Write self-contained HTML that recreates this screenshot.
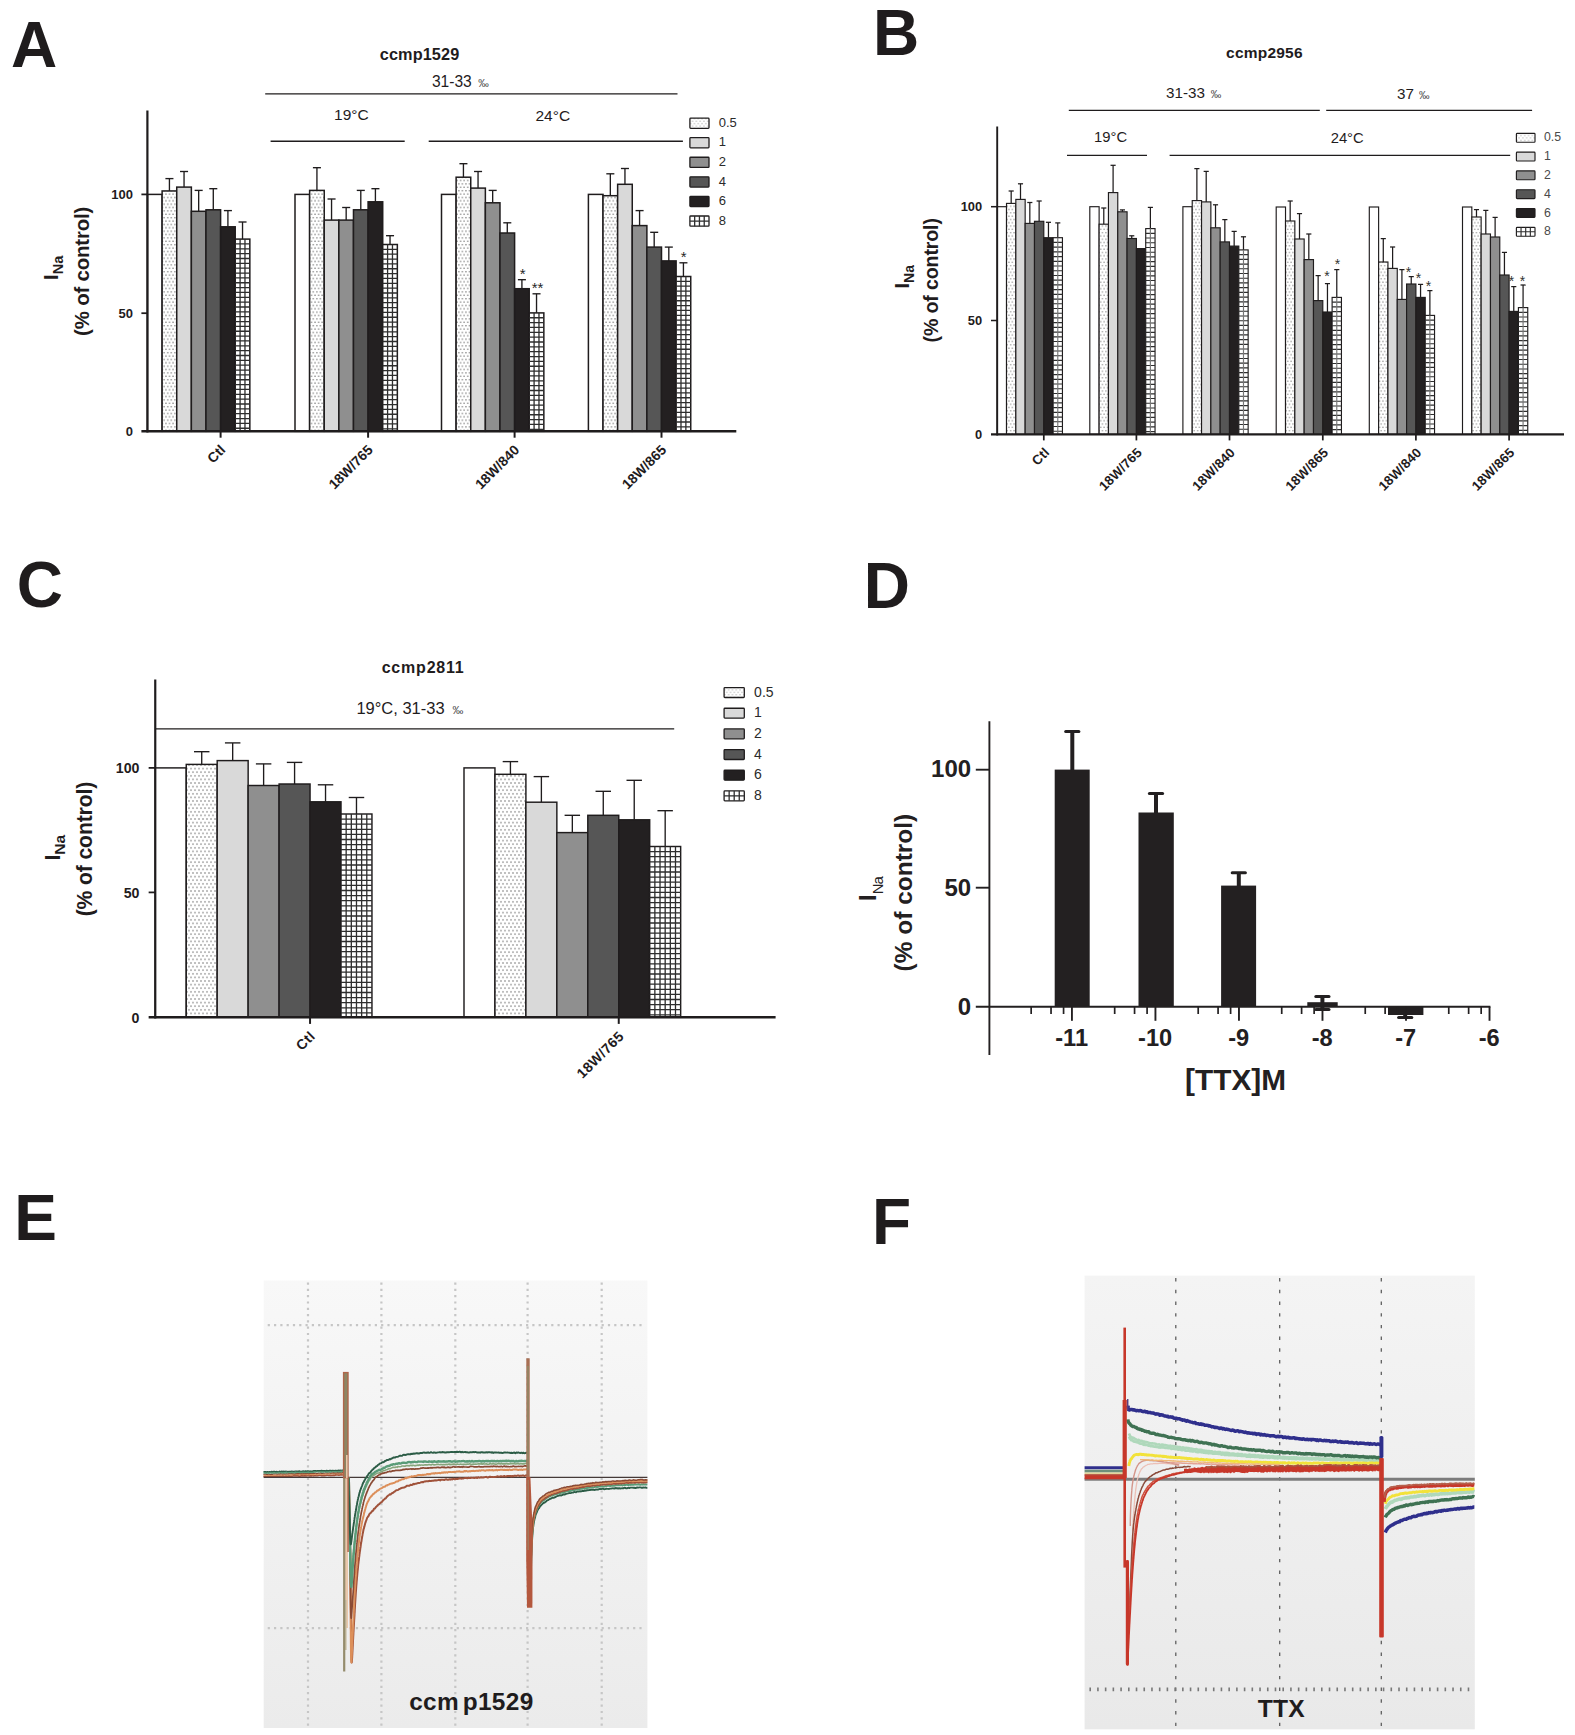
<!DOCTYPE html>
<html lang="en"><head><meta charset="utf-8"><title>Figure</title>
<style>html,body{margin:0;padding:0;background:#fff}svg{display:block}text{font-family:"Liberation Sans",sans-serif}</style></head><body>
<svg width="1575" height="1735" viewBox="0 0 1575 1735">
<defs>
<pattern id="dots" width="3.55" height="6.75" patternUnits="userSpaceOnUse"><rect width="3.55" height="6.75" fill="#fff"/><rect x="0.24" y="1.04" width="1.3" height="1.3" fill="#7d7d7d"/><rect x="2.01" y="4.41" width="1.3" height="1.3" fill="#7d7d7d"/></pattern>
<pattern id="dotsB" width="3.4" height="6.6" patternUnits="userSpaceOnUse"><rect width="3.4" height="6.6" fill="#fff"/><rect x="0.25" y="1.05" width="1.2" height="1.2" fill="#858585"/><rect x="1.95" y="4.35" width="1.2" height="1.2" fill="#858585"/></pattern>
<pattern id="dotsC" width="4" height="7.2" patternUnits="userSpaceOnUse"><rect width="4" height="7.2" fill="#fff"/><rect x="0.32" y="1.12" width="1.35" height="1.35" fill="#7d7d7d"/><rect x="2.33" y="4.73" width="1.35" height="1.35" fill="#7d7d7d"/></pattern>
<pattern id="dotsL" width="3.8" height="4.8" patternUnits="userSpaceOnUse"><rect width="3.8" height="4.8" fill="#fff"/><rect x="0.4" y="0.65" width="1.1" height="1.1" fill="#a8a8a8"/><rect x="2.3" y="3.05" width="1.1" height="1.1" fill="#a8a8a8"/></pattern>
<linearGradient id="bgE" x1="0" y1="0" x2="0" y2="1"><stop offset="0" stop-color="#f8f8f8"/><stop offset="1" stop-color="#ebebeb"/></linearGradient>
<linearGradient id="bgF" x1="0" y1="0" x2="0" y2="1"><stop offset="0" stop-color="#f4f4f4"/><stop offset="1" stop-color="#e9e9e9"/></linearGradient>
</defs>
<rect width="1575" height="1735" fill="#fff"/>
<text x="10.9" y="67.3" font-size="64" font-weight="bold" fill="#1f1c1d">A</text>
<text x="873.1" y="55.4" font-size="64" font-weight="bold" fill="#1f1c1d">B</text>
<text x="16.8" y="606.8" font-size="64" font-weight="bold" fill="#1f1c1d">C</text>
<text x="863.7" y="608.3" font-size="64" font-weight="bold" fill="#1f1c1d">D</text>
<text x="14.3" y="1240.2" font-size="64" font-weight="bold" fill="#1f1c1d">E</text>
<text x="872" y="1243.8" font-size="64" font-weight="bold" fill="#1f1c1d">F</text>
<rect x="147.5" y="194.4" width="14.62" height="236.9" fill="#ffffff" stroke="#1f1c1d" stroke-width="1.5"/>
<line x1="169.43" y1="190.95" x2="169.43" y2="178.6" stroke="#1f1c1d" stroke-width="1.35"/>
<line x1="165.41" y1="178.6" x2="173.45" y2="178.6" stroke="#1f1c1d" stroke-width="1.35"/>
<rect x="162.12" y="190.95" width="14.62" height="240.35" fill="url(#dots)" stroke="#1f1c1d" stroke-width="1.5"/>
<line x1="184.05" y1="187.1" x2="184.05" y2="171.5" stroke="#1f1c1d" stroke-width="1.35"/>
<line x1="180.03" y1="171.5" x2="188.07" y2="171.5" stroke="#1f1c1d" stroke-width="1.35"/>
<rect x="176.74" y="187.1" width="14.62" height="244.2" fill="#d9d9d9" stroke="#1f1c1d" stroke-width="1.5"/>
<line x1="198.67" y1="211.3" x2="198.67" y2="190.4" stroke="#1f1c1d" stroke-width="1.35"/>
<line x1="194.65" y1="190.4" x2="202.69" y2="190.4" stroke="#1f1c1d" stroke-width="1.35"/>
<rect x="191.36" y="211.3" width="14.62" height="220" fill="#8f8f8f" stroke="#1f1c1d" stroke-width="1.5"/>
<line x1="213.29" y1="209.8" x2="213.29" y2="188.7" stroke="#1f1c1d" stroke-width="1.35"/>
<line x1="209.27" y1="188.7" x2="217.31" y2="188.7" stroke="#1f1c1d" stroke-width="1.35"/>
<rect x="205.98" y="209.8" width="14.62" height="221.5" fill="#565656" stroke="#1f1c1d" stroke-width="1.5"/>
<line x1="227.91" y1="226.8" x2="227.91" y2="210.6" stroke="#1f1c1d" stroke-width="1.35"/>
<line x1="223.89" y1="210.6" x2="231.93" y2="210.6" stroke="#1f1c1d" stroke-width="1.35"/>
<rect x="220.6" y="226.8" width="14.62" height="204.5" fill="#232021" stroke="#1f1c1d" stroke-width="1.5"/>
<line x1="242.53" y1="239.1" x2="242.53" y2="222" stroke="#1f1c1d" stroke-width="1.35"/>
<line x1="238.51" y1="222" x2="246.55" y2="222" stroke="#1f1c1d" stroke-width="1.35"/>
<rect x="235.22" y="239.1" width="14.62" height="192.2" fill="#ffffff" stroke="#1f1c1d" stroke-width="1.5"/>
<path d="M235.22 243.95H249.84M235.22 248.8H249.84M235.22 253.65H249.84M235.22 258.5H249.84M235.22 263.35H249.84M235.22 268.2H249.84M235.22 273.05H249.84M235.22 277.9H249.84M235.22 282.75H249.84M235.22 287.6H249.84M235.22 292.45H249.84M235.22 297.3H249.84M235.22 302.15H249.84M235.22 307H249.84M235.22 311.85H249.84M235.22 316.7H249.84M235.22 321.55H249.84M235.22 326.4H249.84M235.22 331.25H249.84M235.22 336.1H249.84M235.22 340.95H249.84M235.22 345.8H249.84M235.22 350.65H249.84M235.22 355.5H249.84M235.22 360.35H249.84M235.22 365.2H249.84M235.22 370.05H249.84M235.22 374.9H249.84M235.22 379.75H249.84M235.22 384.6H249.84M235.22 389.45H249.84M235.22 394.3H249.84M235.22 399.15H249.84M235.22 404H249.84M235.22 408.85H249.84M235.22 413.7H249.84M235.22 418.55H249.84M235.22 423.4H249.84M235.22 428.25H249.84" stroke="#2e2e2e" stroke-width="1.3" fill="none"/>
<path d="M240.09 239.1V431.3M244.97 239.1V431.3" stroke="#2e2e2e" stroke-width="1.3" fill="none"/>
<rect x="295" y="194.4" width="14.62" height="236.9" fill="#ffffff" stroke="#1f1c1d" stroke-width="1.5"/>
<line x1="316.93" y1="190.4" x2="316.93" y2="167.7" stroke="#1f1c1d" stroke-width="1.35"/>
<line x1="312.91" y1="167.7" x2="320.95" y2="167.7" stroke="#1f1c1d" stroke-width="1.35"/>
<rect x="309.62" y="190.4" width="14.62" height="240.9" fill="url(#dots)" stroke="#1f1c1d" stroke-width="1.5"/>
<line x1="331.55" y1="220.1" x2="331.55" y2="199" stroke="#1f1c1d" stroke-width="1.35"/>
<line x1="327.53" y1="199" x2="335.57" y2="199" stroke="#1f1c1d" stroke-width="1.35"/>
<rect x="324.24" y="220.1" width="14.62" height="211.2" fill="#d9d9d9" stroke="#1f1c1d" stroke-width="1.5"/>
<line x1="346.17" y1="220.1" x2="346.17" y2="207.5" stroke="#1f1c1d" stroke-width="1.35"/>
<line x1="342.15" y1="207.5" x2="350.19" y2="207.5" stroke="#1f1c1d" stroke-width="1.35"/>
<rect x="338.86" y="220.1" width="14.62" height="211.2" fill="#8f8f8f" stroke="#1f1c1d" stroke-width="1.5"/>
<line x1="360.79" y1="209.8" x2="360.79" y2="190.4" stroke="#1f1c1d" stroke-width="1.35"/>
<line x1="356.77" y1="190.4" x2="364.81" y2="190.4" stroke="#1f1c1d" stroke-width="1.35"/>
<rect x="353.48" y="209.8" width="14.62" height="221.5" fill="#565656" stroke="#1f1c1d" stroke-width="1.5"/>
<line x1="375.41" y1="201.8" x2="375.41" y2="188.7" stroke="#1f1c1d" stroke-width="1.35"/>
<line x1="371.39" y1="188.7" x2="379.43" y2="188.7" stroke="#1f1c1d" stroke-width="1.35"/>
<rect x="368.1" y="201.8" width="14.62" height="229.5" fill="#232021" stroke="#1f1c1d" stroke-width="1.5"/>
<line x1="390.03" y1="244.5" x2="390.03" y2="235.7" stroke="#1f1c1d" stroke-width="1.35"/>
<line x1="386.01" y1="235.7" x2="394.05" y2="235.7" stroke="#1f1c1d" stroke-width="1.35"/>
<rect x="382.72" y="244.5" width="14.62" height="186.8" fill="#ffffff" stroke="#1f1c1d" stroke-width="1.5"/>
<path d="M382.72 249.35H397.34M382.72 254.2H397.34M382.72 259.05H397.34M382.72 263.9H397.34M382.72 268.75H397.34M382.72 273.6H397.34M382.72 278.45H397.34M382.72 283.3H397.34M382.72 288.15H397.34M382.72 293H397.34M382.72 297.85H397.34M382.72 302.7H397.34M382.72 307.55H397.34M382.72 312.4H397.34M382.72 317.25H397.34M382.72 322.1H397.34M382.72 326.95H397.34M382.72 331.8H397.34M382.72 336.65H397.34M382.72 341.5H397.34M382.72 346.35H397.34M382.72 351.2H397.34M382.72 356.05H397.34M382.72 360.9H397.34M382.72 365.75H397.34M382.72 370.6H397.34M382.72 375.45H397.34M382.72 380.3H397.34M382.72 385.15H397.34M382.72 390H397.34M382.72 394.85H397.34M382.72 399.7H397.34M382.72 404.55H397.34M382.72 409.4H397.34M382.72 414.25H397.34M382.72 419.1H397.34M382.72 423.95H397.34M382.72 428.8H397.34" stroke="#2e2e2e" stroke-width="1.3" fill="none"/>
<path d="M387.59 244.5V431.3M392.47 244.5V431.3" stroke="#2e2e2e" stroke-width="1.3" fill="none"/>
<rect x="441.5" y="194.4" width="14.62" height="236.9" fill="#ffffff" stroke="#1f1c1d" stroke-width="1.5"/>
<line x1="463.43" y1="177.2" x2="463.43" y2="163.7" stroke="#1f1c1d" stroke-width="1.35"/>
<line x1="459.41" y1="163.7" x2="467.45" y2="163.7" stroke="#1f1c1d" stroke-width="1.35"/>
<rect x="456.12" y="177.2" width="14.62" height="254.1" fill="url(#dots)" stroke="#1f1c1d" stroke-width="1.5"/>
<line x1="478.05" y1="188.1" x2="478.05" y2="171.5" stroke="#1f1c1d" stroke-width="1.35"/>
<line x1="474.03" y1="171.5" x2="482.07" y2="171.5" stroke="#1f1c1d" stroke-width="1.35"/>
<rect x="470.74" y="188.1" width="14.62" height="243.2" fill="#d9d9d9" stroke="#1f1c1d" stroke-width="1.5"/>
<line x1="492.67" y1="202.8" x2="492.67" y2="190.4" stroke="#1f1c1d" stroke-width="1.35"/>
<line x1="488.65" y1="190.4" x2="496.69" y2="190.4" stroke="#1f1c1d" stroke-width="1.35"/>
<rect x="485.36" y="202.8" width="14.62" height="228.5" fill="#8f8f8f" stroke="#1f1c1d" stroke-width="1.5"/>
<line x1="507.29" y1="233" x2="507.29" y2="222.8" stroke="#1f1c1d" stroke-width="1.35"/>
<line x1="503.27" y1="222.8" x2="511.31" y2="222.8" stroke="#1f1c1d" stroke-width="1.35"/>
<rect x="499.98" y="233" width="14.62" height="198.3" fill="#565656" stroke="#1f1c1d" stroke-width="1.5"/>
<line x1="521.91" y1="288.7" x2="521.91" y2="279.7" stroke="#1f1c1d" stroke-width="1.35"/>
<line x1="517.89" y1="279.7" x2="525.93" y2="279.7" stroke="#1f1c1d" stroke-width="1.35"/>
<rect x="514.6" y="288.7" width="14.62" height="142.6" fill="#232021" stroke="#1f1c1d" stroke-width="1.5"/>
<line x1="536.53" y1="312.9" x2="536.53" y2="293.8" stroke="#1f1c1d" stroke-width="1.35"/>
<line x1="532.51" y1="293.8" x2="540.55" y2="293.8" stroke="#1f1c1d" stroke-width="1.35"/>
<rect x="529.22" y="312.9" width="14.62" height="118.4" fill="#ffffff" stroke="#1f1c1d" stroke-width="1.5"/>
<path d="M529.22 317.75H543.84M529.22 322.6H543.84M529.22 327.45H543.84M529.22 332.3H543.84M529.22 337.15H543.84M529.22 342H543.84M529.22 346.85H543.84M529.22 351.7H543.84M529.22 356.55H543.84M529.22 361.4H543.84M529.22 366.25H543.84M529.22 371.1H543.84M529.22 375.95H543.84M529.22 380.8H543.84M529.22 385.65H543.84M529.22 390.5H543.84M529.22 395.35H543.84M529.22 400.2H543.84M529.22 405.05H543.84M529.22 409.9H543.84M529.22 414.75H543.84M529.22 419.6H543.84M529.22 424.45H543.84M529.22 429.3H543.84" stroke="#2e2e2e" stroke-width="1.3" fill="none"/>
<path d="M534.09 312.9V431.3M538.97 312.9V431.3" stroke="#2e2e2e" stroke-width="1.3" fill="none"/>
<rect x="588.4" y="194.4" width="14.62" height="236.9" fill="#ffffff" stroke="#1f1c1d" stroke-width="1.5"/>
<line x1="610.33" y1="195.7" x2="610.33" y2="173.8" stroke="#1f1c1d" stroke-width="1.35"/>
<line x1="606.31" y1="173.8" x2="614.35" y2="173.8" stroke="#1f1c1d" stroke-width="1.35"/>
<rect x="603.02" y="195.7" width="14.62" height="235.6" fill="url(#dots)" stroke="#1f1c1d" stroke-width="1.5"/>
<line x1="624.95" y1="184.3" x2="624.95" y2="168.5" stroke="#1f1c1d" stroke-width="1.35"/>
<line x1="620.93" y1="168.5" x2="628.97" y2="168.5" stroke="#1f1c1d" stroke-width="1.35"/>
<rect x="617.64" y="184.3" width="14.62" height="247" fill="#d9d9d9" stroke="#1f1c1d" stroke-width="1.5"/>
<line x1="639.57" y1="225.6" x2="639.57" y2="210.6" stroke="#1f1c1d" stroke-width="1.35"/>
<line x1="635.55" y1="210.6" x2="643.59" y2="210.6" stroke="#1f1c1d" stroke-width="1.35"/>
<rect x="632.26" y="225.6" width="14.62" height="205.7" fill="#8f8f8f" stroke="#1f1c1d" stroke-width="1.5"/>
<line x1="654.19" y1="247.1" x2="654.19" y2="232.3" stroke="#1f1c1d" stroke-width="1.35"/>
<line x1="650.17" y1="232.3" x2="658.21" y2="232.3" stroke="#1f1c1d" stroke-width="1.35"/>
<rect x="646.88" y="247.1" width="14.62" height="184.2" fill="#565656" stroke="#1f1c1d" stroke-width="1.5"/>
<line x1="668.81" y1="260.9" x2="668.81" y2="247.1" stroke="#1f1c1d" stroke-width="1.35"/>
<line x1="664.79" y1="247.1" x2="672.83" y2="247.1" stroke="#1f1c1d" stroke-width="1.35"/>
<rect x="661.5" y="260.9" width="14.62" height="170.4" fill="#232021" stroke="#1f1c1d" stroke-width="1.5"/>
<line x1="683.43" y1="276.5" x2="683.43" y2="262.8" stroke="#1f1c1d" stroke-width="1.35"/>
<line x1="679.41" y1="262.8" x2="687.45" y2="262.8" stroke="#1f1c1d" stroke-width="1.35"/>
<rect x="676.12" y="276.5" width="14.62" height="154.8" fill="#ffffff" stroke="#1f1c1d" stroke-width="1.5"/>
<path d="M676.12 281.35H690.74M676.12 286.2H690.74M676.12 291.05H690.74M676.12 295.9H690.74M676.12 300.75H690.74M676.12 305.6H690.74M676.12 310.45H690.74M676.12 315.3H690.74M676.12 320.15H690.74M676.12 325H690.74M676.12 329.85H690.74M676.12 334.7H690.74M676.12 339.55H690.74M676.12 344.4H690.74M676.12 349.25H690.74M676.12 354.1H690.74M676.12 358.95H690.74M676.12 363.8H690.74M676.12 368.65H690.74M676.12 373.5H690.74M676.12 378.35H690.74M676.12 383.2H690.74M676.12 388.05H690.74M676.12 392.9H690.74M676.12 397.75H690.74M676.12 402.6H690.74M676.12 407.45H690.74M676.12 412.3H690.74M676.12 417.15H690.74M676.12 422H690.74M676.12 426.85H690.74" stroke="#2e2e2e" stroke-width="1.3" fill="none"/>
<path d="M680.99 276.5V431.3M685.87 276.5V431.3" stroke="#2e2e2e" stroke-width="1.3" fill="none"/>
<line x1="147.4" y1="110.5" x2="147.4" y2="432.55" stroke="#1f1c1d" stroke-width="2.2"/>
<line x1="141.4" y1="431.3" x2="736.3" y2="431.3" stroke="#1f1c1d" stroke-width="2.5"/>
<line x1="141.4" y1="194.4" x2="147.4" y2="194.4" stroke="#1f1c1d" stroke-width="1.76"/>
<line x1="141.4" y1="313.2" x2="147.4" y2="313.2" stroke="#1f1c1d" stroke-width="1.76"/>
<line x1="220.6" y1="431.3" x2="220.6" y2="437.7" stroke="#1f1c1d" stroke-width="1.98"/>
<line x1="368.1" y1="431.3" x2="368.1" y2="437.7" stroke="#1f1c1d" stroke-width="1.98"/>
<line x1="514.6" y1="431.3" x2="514.6" y2="437.7" stroke="#1f1c1d" stroke-width="1.98"/>
<line x1="661.5" y1="431.3" x2="661.5" y2="437.7" stroke="#1f1c1d" stroke-width="1.98"/>
<text x="132.9" y="199.1" font-size="13" font-weight="bold" text-anchor="end" fill="#1f1c1d">100</text>
<text x="132.9" y="317.9" font-size="13" font-weight="bold" text-anchor="end" fill="#1f1c1d">50</text>
<text x="132.9" y="436.3" font-size="13" font-weight="bold" text-anchor="end" fill="#1f1c1d">0</text>
<g transform="translate(58.2,280) rotate(-90)">
<text x="0" y="0" font-size="20.4" font-weight="bold" fill="#1f1c1d">I<tspan font-size="14.6" dy="5.2">Na</tspan></text>
</g>
<g transform="translate(88.6,271.3) rotate(-90)">
<text x="0" y="0" font-size="20.4" font-weight="bold" text-anchor="middle" fill="#1f1c1d" textLength="129.4" lengthAdjust="spacing">(% of control)</text>
</g>
<text transform="translate(226.2,450.8) rotate(-45)" font-size="13.9" font-weight="bold" text-anchor="end" fill="#1f1c1d" letter-spacing="0">Ctl</text>
<text transform="translate(373.7,450.8) rotate(-45)" font-size="13.9" font-weight="bold" text-anchor="end" fill="#1f1c1d" letter-spacing="0">18W/765</text>
<text transform="translate(520.2,450.8) rotate(-45)" font-size="13.9" font-weight="bold" text-anchor="end" fill="#1f1c1d" letter-spacing="0">18W/840</text>
<text transform="translate(667.1,450.8) rotate(-45)" font-size="13.9" font-weight="bold" text-anchor="end" fill="#1f1c1d" letter-spacing="0">18W/865</text>
<text x="419.5" y="60.2" font-size="16.3" font-weight="bold" text-anchor="middle" fill="#1f1c1d" textLength="79.4" lengthAdjust="spacing">ccmp1529</text>
<text x="431.9" y="86.6" font-size="15.6" text-anchor="start" fill="#1f1c1d">31-33<tspan font-size="10.5" dx="6.5" fill="#444">‰</tspan></text>
<line x1="265.2" y1="93.9" x2="677.5" y2="93.9" stroke="#1f1c1d" stroke-width="1.4"/>
<text x="351.4" y="120.2" font-size="15.5" font-weight="normal" text-anchor="middle" fill="#1f1c1d">19°C</text>
<line x1="270.6" y1="141.2" x2="404.7" y2="141.2" stroke="#1f1c1d" stroke-width="1.4"/>
<text x="552.8" y="121" font-size="15.5" font-weight="normal" text-anchor="middle" fill="#1f1c1d">24°C</text>
<line x1="428.7" y1="141.2" x2="682.9" y2="141.2" stroke="#1f1c1d" stroke-width="1.4"/>
<rect x="689.9" y="118.1" width="19.1" height="10.2" rx="0.8" fill="url(#dotsL)" stroke="#1f1c1d" stroke-width="1.3"/>
<text x="718.7" y="126.9" font-size="13" font-weight="normal" text-anchor="start" fill="#2a2a2a">0.5</text>
<rect x="689.9" y="137.68" width="19.1" height="10.2" rx="0.8" fill="#d9d9d9" stroke="#1f1c1d" stroke-width="1.3"/>
<text x="718.7" y="146.48" font-size="13" font-weight="normal" text-anchor="start" fill="#2a2a2a">1</text>
<rect x="689.9" y="157.26" width="19.1" height="10.2" rx="0.8" fill="#8f8f8f" stroke="#1f1c1d" stroke-width="1.3"/>
<text x="718.7" y="166.06" font-size="13" font-weight="normal" text-anchor="start" fill="#2a2a2a">2</text>
<rect x="689.9" y="176.84" width="19.1" height="10.2" rx="0.8" fill="#565656" stroke="#1f1c1d" stroke-width="1.3"/>
<text x="718.7" y="185.64" font-size="13" font-weight="normal" text-anchor="start" fill="#2a2a2a">4</text>
<rect x="689.9" y="196.42" width="19.1" height="10.2" rx="0.8" fill="#232021" stroke="#1f1c1d" stroke-width="1.3"/>
<text x="718.7" y="205.22" font-size="13" font-weight="normal" text-anchor="start" fill="#2a2a2a">6</text>
<rect x="689.9" y="216" width="19.1" height="10.2" rx="0.8" fill="#ffffff" stroke="#1f1c1d" stroke-width="1.3"/>
<path d="M689.9 221.1H709M694.67 216V226.2M699.45 216V226.2M704.23 216V226.2" stroke="#2e2e2e" stroke-width="1.3" fill="none"/>
<text x="718.7" y="224.8" font-size="13" font-weight="normal" text-anchor="start" fill="#2a2a2a">8</text>
<text x="522.6" y="279.3" font-size="15" font-weight="normal" text-anchor="middle" fill="#262626">*</text>
<text x="537.5" y="293.2" font-size="15" font-weight="normal" text-anchor="middle" fill="#262626">**</text>
<text x="683.7" y="262.1" font-size="15" font-weight="normal" text-anchor="middle" fill="#262626">*</text>
<rect x="997.2" y="206.7" width="9.32" height="227.7" fill="#ffffff" stroke="#1f1c1d" stroke-width="1.15"/>
<line x1="1011.18" y1="203.4" x2="1011.18" y2="191" stroke="#1f1c1d" stroke-width="1.25"/>
<line x1="1008.62" y1="191" x2="1013.74" y2="191" stroke="#1f1c1d" stroke-width="1.25"/>
<rect x="1006.52" y="203.4" width="9.32" height="231" fill="url(#dotsB)" stroke="#1f1c1d" stroke-width="1.15"/>
<line x1="1020.5" y1="199.4" x2="1020.5" y2="183.8" stroke="#1f1c1d" stroke-width="1.25"/>
<line x1="1017.94" y1="183.8" x2="1023.06" y2="183.8" stroke="#1f1c1d" stroke-width="1.25"/>
<rect x="1015.84" y="199.4" width="9.32" height="235" fill="#d9d9d9" stroke="#1f1c1d" stroke-width="1.15"/>
<line x1="1029.82" y1="223.4" x2="1029.82" y2="202.5" stroke="#1f1c1d" stroke-width="1.25"/>
<line x1="1027.26" y1="202.5" x2="1032.38" y2="202.5" stroke="#1f1c1d" stroke-width="1.25"/>
<rect x="1025.16" y="223.4" width="9.32" height="211" fill="#8f8f8f" stroke="#1f1c1d" stroke-width="1.15"/>
<line x1="1039.14" y1="221.3" x2="1039.14" y2="201" stroke="#1f1c1d" stroke-width="1.25"/>
<line x1="1036.58" y1="201" x2="1041.7" y2="201" stroke="#1f1c1d" stroke-width="1.25"/>
<rect x="1034.48" y="221.3" width="9.32" height="213.1" fill="#565656" stroke="#1f1c1d" stroke-width="1.15"/>
<line x1="1048.46" y1="237.7" x2="1048.46" y2="222.3" stroke="#1f1c1d" stroke-width="1.25"/>
<line x1="1045.9" y1="222.3" x2="1051.02" y2="222.3" stroke="#1f1c1d" stroke-width="1.25"/>
<rect x="1043.8" y="237.7" width="9.32" height="196.7" fill="#232021" stroke="#1f1c1d" stroke-width="1.15"/>
<line x1="1057.78" y1="237.7" x2="1057.78" y2="222.9" stroke="#1f1c1d" stroke-width="1.25"/>
<line x1="1055.22" y1="222.9" x2="1060.34" y2="222.9" stroke="#1f1c1d" stroke-width="1.25"/>
<rect x="1053.12" y="237.7" width="9.32" height="196.7" fill="#ffffff" stroke="#1f1c1d" stroke-width="1.15"/>
<path d="M1053.12 242.42H1062.44M1053.12 247.14H1062.44M1053.12 251.86H1062.44M1053.12 256.58H1062.44M1053.12 261.3H1062.44M1053.12 266.02H1062.44M1053.12 270.74H1062.44M1053.12 275.46H1062.44M1053.12 280.18H1062.44M1053.12 284.9H1062.44M1053.12 289.62H1062.44M1053.12 294.34H1062.44M1053.12 299.06H1062.44M1053.12 303.78H1062.44M1053.12 308.5H1062.44M1053.12 313.22H1062.44M1053.12 317.94H1062.44M1053.12 322.66H1062.44M1053.12 327.38H1062.44M1053.12 332.1H1062.44M1053.12 336.82H1062.44M1053.12 341.54H1062.44M1053.12 346.26H1062.44M1053.12 350.98H1062.44M1053.12 355.7H1062.44M1053.12 360.42H1062.44M1053.12 365.14H1062.44M1053.12 369.86H1062.44M1053.12 374.58H1062.44M1053.12 379.3H1062.44M1053.12 384.02H1062.44M1053.12 388.74H1062.44M1053.12 393.46H1062.44M1053.12 398.18H1062.44M1053.12 402.9H1062.44M1053.12 407.62H1062.44M1053.12 412.34H1062.44M1053.12 417.06H1062.44M1053.12 421.78H1062.44M1053.12 426.5H1062.44M1053.12 431.22H1062.44" stroke="#2e2e2e" stroke-width="1.15" fill="none"/>
<path d="M1057.78 237.7V434.4" stroke="#777" stroke-width="1.15" fill="none"/>
<rect x="1089.8" y="206.7" width="9.32" height="227.7" fill="#ffffff" stroke="#1f1c1d" stroke-width="1.15"/>
<line x1="1103.78" y1="224.2" x2="1103.78" y2="208" stroke="#1f1c1d" stroke-width="1.25"/>
<line x1="1101.22" y1="208" x2="1106.34" y2="208" stroke="#1f1c1d" stroke-width="1.25"/>
<rect x="1099.12" y="224.2" width="9.32" height="210.2" fill="url(#dotsB)" stroke="#1f1c1d" stroke-width="1.15"/>
<line x1="1113.1" y1="192.6" x2="1113.1" y2="165.3" stroke="#1f1c1d" stroke-width="1.25"/>
<line x1="1110.54" y1="165.3" x2="1115.66" y2="165.3" stroke="#1f1c1d" stroke-width="1.25"/>
<rect x="1108.44" y="192.6" width="9.32" height="241.8" fill="#d9d9d9" stroke="#1f1c1d" stroke-width="1.15"/>
<line x1="1122.42" y1="211.8" x2="1122.42" y2="209.9" stroke="#1f1c1d" stroke-width="1.25"/>
<line x1="1119.86" y1="209.9" x2="1124.98" y2="209.9" stroke="#1f1c1d" stroke-width="1.25"/>
<rect x="1117.76" y="211.8" width="9.32" height="222.6" fill="#8f8f8f" stroke="#1f1c1d" stroke-width="1.15"/>
<line x1="1131.74" y1="238.5" x2="1131.74" y2="235.8" stroke="#1f1c1d" stroke-width="1.25"/>
<line x1="1129.18" y1="235.8" x2="1134.3" y2="235.8" stroke="#1f1c1d" stroke-width="1.25"/>
<rect x="1127.08" y="238.5" width="9.32" height="195.9" fill="#565656" stroke="#1f1c1d" stroke-width="1.15"/>
<rect x="1136.4" y="248.6" width="9.32" height="185.8" fill="#232021" stroke="#1f1c1d" stroke-width="1.15"/>
<line x1="1150.38" y1="228.6" x2="1150.38" y2="207.4" stroke="#1f1c1d" stroke-width="1.25"/>
<line x1="1147.82" y1="207.4" x2="1152.94" y2="207.4" stroke="#1f1c1d" stroke-width="1.25"/>
<rect x="1145.72" y="228.6" width="9.32" height="205.8" fill="#ffffff" stroke="#1f1c1d" stroke-width="1.15"/>
<path d="M1145.72 233.32H1155.04M1145.72 238.04H1155.04M1145.72 242.76H1155.04M1145.72 247.48H1155.04M1145.72 252.2H1155.04M1145.72 256.92H1155.04M1145.72 261.64H1155.04M1145.72 266.36H1155.04M1145.72 271.08H1155.04M1145.72 275.8H1155.04M1145.72 280.52H1155.04M1145.72 285.24H1155.04M1145.72 289.96H1155.04M1145.72 294.68H1155.04M1145.72 299.4H1155.04M1145.72 304.12H1155.04M1145.72 308.84H1155.04M1145.72 313.56H1155.04M1145.72 318.28H1155.04M1145.72 323H1155.04M1145.72 327.72H1155.04M1145.72 332.44H1155.04M1145.72 337.16H1155.04M1145.72 341.88H1155.04M1145.72 346.6H1155.04M1145.72 351.32H1155.04M1145.72 356.04H1155.04M1145.72 360.76H1155.04M1145.72 365.48H1155.04M1145.72 370.2H1155.04M1145.72 374.92H1155.04M1145.72 379.64H1155.04M1145.72 384.36H1155.04M1145.72 389.08H1155.04M1145.72 393.8H1155.04M1145.72 398.52H1155.04M1145.72 403.24H1155.04M1145.72 407.96H1155.04M1145.72 412.68H1155.04M1145.72 417.4H1155.04M1145.72 422.12H1155.04M1145.72 426.84H1155.04M1145.72 431.56H1155.04" stroke="#2e2e2e" stroke-width="1.15" fill="none"/>
<path d="M1150.38 228.6V434.4" stroke="#777" stroke-width="1.15" fill="none"/>
<rect x="1182.9" y="206.7" width="9.32" height="227.7" fill="#ffffff" stroke="#1f1c1d" stroke-width="1.15"/>
<line x1="1196.88" y1="200.6" x2="1196.88" y2="168.6" stroke="#1f1c1d" stroke-width="1.25"/>
<line x1="1194.32" y1="168.6" x2="1199.44" y2="168.6" stroke="#1f1c1d" stroke-width="1.25"/>
<rect x="1192.22" y="200.6" width="9.32" height="233.8" fill="url(#dotsB)" stroke="#1f1c1d" stroke-width="1.15"/>
<line x1="1206.2" y1="201.9" x2="1206.2" y2="171.4" stroke="#1f1c1d" stroke-width="1.25"/>
<line x1="1203.64" y1="171.4" x2="1208.76" y2="171.4" stroke="#1f1c1d" stroke-width="1.25"/>
<rect x="1201.54" y="201.9" width="9.32" height="232.5" fill="#d9d9d9" stroke="#1f1c1d" stroke-width="1.15"/>
<line x1="1215.52" y1="227.8" x2="1215.52" y2="204.8" stroke="#1f1c1d" stroke-width="1.25"/>
<line x1="1212.96" y1="204.8" x2="1218.08" y2="204.8" stroke="#1f1c1d" stroke-width="1.25"/>
<rect x="1210.86" y="227.8" width="9.32" height="206.6" fill="#8f8f8f" stroke="#1f1c1d" stroke-width="1.15"/>
<line x1="1224.84" y1="241.9" x2="1224.84" y2="219.6" stroke="#1f1c1d" stroke-width="1.25"/>
<line x1="1222.28" y1="219.6" x2="1227.4" y2="219.6" stroke="#1f1c1d" stroke-width="1.25"/>
<rect x="1220.18" y="241.9" width="9.32" height="192.5" fill="#565656" stroke="#1f1c1d" stroke-width="1.15"/>
<line x1="1234.16" y1="246.1" x2="1234.16" y2="231.4" stroke="#1f1c1d" stroke-width="1.25"/>
<line x1="1231.6" y1="231.4" x2="1236.72" y2="231.4" stroke="#1f1c1d" stroke-width="1.25"/>
<rect x="1229.5" y="246.1" width="9.32" height="188.3" fill="#232021" stroke="#1f1c1d" stroke-width="1.15"/>
<line x1="1243.48" y1="249.9" x2="1243.48" y2="236.8" stroke="#1f1c1d" stroke-width="1.25"/>
<line x1="1240.92" y1="236.8" x2="1246.04" y2="236.8" stroke="#1f1c1d" stroke-width="1.25"/>
<rect x="1238.82" y="249.9" width="9.32" height="184.5" fill="#ffffff" stroke="#1f1c1d" stroke-width="1.15"/>
<path d="M1238.82 254.62H1248.14M1238.82 259.34H1248.14M1238.82 264.06H1248.14M1238.82 268.78H1248.14M1238.82 273.5H1248.14M1238.82 278.22H1248.14M1238.82 282.94H1248.14M1238.82 287.66H1248.14M1238.82 292.38H1248.14M1238.82 297.1H1248.14M1238.82 301.82H1248.14M1238.82 306.54H1248.14M1238.82 311.26H1248.14M1238.82 315.98H1248.14M1238.82 320.7H1248.14M1238.82 325.42H1248.14M1238.82 330.14H1248.14M1238.82 334.86H1248.14M1238.82 339.58H1248.14M1238.82 344.3H1248.14M1238.82 349.02H1248.14M1238.82 353.74H1248.14M1238.82 358.46H1248.14M1238.82 363.18H1248.14M1238.82 367.9H1248.14M1238.82 372.62H1248.14M1238.82 377.34H1248.14M1238.82 382.06H1248.14M1238.82 386.78H1248.14M1238.82 391.5H1248.14M1238.82 396.22H1248.14M1238.82 400.94H1248.14M1238.82 405.66H1248.14M1238.82 410.38H1248.14M1238.82 415.1H1248.14M1238.82 419.82H1248.14M1238.82 424.54H1248.14M1238.82 429.26H1248.14" stroke="#2e2e2e" stroke-width="1.15" fill="none"/>
<path d="M1243.48 249.9V434.4" stroke="#777" stroke-width="1.15" fill="none"/>
<rect x="1276.2" y="207" width="9.32" height="227.4" fill="#ffffff" stroke="#1f1c1d" stroke-width="1.15"/>
<line x1="1290.18" y1="221" x2="1290.18" y2="201" stroke="#1f1c1d" stroke-width="1.25"/>
<line x1="1287.62" y1="201" x2="1292.74" y2="201" stroke="#1f1c1d" stroke-width="1.25"/>
<rect x="1285.52" y="221" width="9.32" height="213.4" fill="url(#dotsB)" stroke="#1f1c1d" stroke-width="1.15"/>
<line x1="1299.5" y1="239" x2="1299.5" y2="213.6" stroke="#1f1c1d" stroke-width="1.25"/>
<line x1="1296.94" y1="213.6" x2="1302.06" y2="213.6" stroke="#1f1c1d" stroke-width="1.25"/>
<rect x="1294.84" y="239" width="9.32" height="195.4" fill="#d9d9d9" stroke="#1f1c1d" stroke-width="1.15"/>
<line x1="1308.82" y1="259.6" x2="1308.82" y2="234" stroke="#1f1c1d" stroke-width="1.25"/>
<line x1="1306.26" y1="234" x2="1311.38" y2="234" stroke="#1f1c1d" stroke-width="1.25"/>
<rect x="1304.16" y="259.6" width="9.32" height="174.8" fill="#8f8f8f" stroke="#1f1c1d" stroke-width="1.15"/>
<line x1="1318.14" y1="300.6" x2="1318.14" y2="275.6" stroke="#1f1c1d" stroke-width="1.25"/>
<line x1="1315.58" y1="275.6" x2="1320.7" y2="275.6" stroke="#1f1c1d" stroke-width="1.25"/>
<rect x="1313.48" y="300.6" width="9.32" height="133.8" fill="#565656" stroke="#1f1c1d" stroke-width="1.15"/>
<line x1="1327.46" y1="312" x2="1327.46" y2="283.6" stroke="#1f1c1d" stroke-width="1.25"/>
<line x1="1324.9" y1="283.6" x2="1330.02" y2="283.6" stroke="#1f1c1d" stroke-width="1.25"/>
<rect x="1322.8" y="312" width="9.32" height="122.4" fill="#232021" stroke="#1f1c1d" stroke-width="1.15"/>
<line x1="1336.78" y1="297.4" x2="1336.78" y2="269.6" stroke="#1f1c1d" stroke-width="1.25"/>
<line x1="1334.22" y1="269.6" x2="1339.34" y2="269.6" stroke="#1f1c1d" stroke-width="1.25"/>
<rect x="1332.12" y="297.4" width="9.32" height="137" fill="#ffffff" stroke="#1f1c1d" stroke-width="1.15"/>
<path d="M1332.12 302.12H1341.44M1332.12 306.84H1341.44M1332.12 311.56H1341.44M1332.12 316.28H1341.44M1332.12 321H1341.44M1332.12 325.72H1341.44M1332.12 330.44H1341.44M1332.12 335.16H1341.44M1332.12 339.88H1341.44M1332.12 344.6H1341.44M1332.12 349.32H1341.44M1332.12 354.04H1341.44M1332.12 358.76H1341.44M1332.12 363.48H1341.44M1332.12 368.2H1341.44M1332.12 372.92H1341.44M1332.12 377.64H1341.44M1332.12 382.36H1341.44M1332.12 387.08H1341.44M1332.12 391.8H1341.44M1332.12 396.52H1341.44M1332.12 401.24H1341.44M1332.12 405.96H1341.44M1332.12 410.68H1341.44M1332.12 415.4H1341.44M1332.12 420.12H1341.44M1332.12 424.84H1341.44M1332.12 429.56H1341.44" stroke="#2e2e2e" stroke-width="1.15" fill="none"/>
<path d="M1336.78 297.4V434.4" stroke="#777" stroke-width="1.15" fill="none"/>
<rect x="1369.3" y="207" width="9.32" height="227.4" fill="#ffffff" stroke="#1f1c1d" stroke-width="1.15"/>
<line x1="1383.28" y1="262" x2="1383.28" y2="238.6" stroke="#1f1c1d" stroke-width="1.25"/>
<line x1="1380.72" y1="238.6" x2="1385.84" y2="238.6" stroke="#1f1c1d" stroke-width="1.25"/>
<rect x="1378.62" y="262" width="9.32" height="172.4" fill="url(#dotsB)" stroke="#1f1c1d" stroke-width="1.15"/>
<line x1="1392.6" y1="268.4" x2="1392.6" y2="247" stroke="#1f1c1d" stroke-width="1.25"/>
<line x1="1390.04" y1="247" x2="1395.16" y2="247" stroke="#1f1c1d" stroke-width="1.25"/>
<rect x="1387.94" y="268.4" width="9.32" height="166" fill="#d9d9d9" stroke="#1f1c1d" stroke-width="1.15"/>
<line x1="1401.92" y1="299.4" x2="1401.92" y2="269.6" stroke="#1f1c1d" stroke-width="1.25"/>
<line x1="1399.36" y1="269.6" x2="1404.48" y2="269.6" stroke="#1f1c1d" stroke-width="1.25"/>
<rect x="1397.26" y="299.4" width="9.32" height="135" fill="#8f8f8f" stroke="#1f1c1d" stroke-width="1.15"/>
<line x1="1411.24" y1="284" x2="1411.24" y2="276.6" stroke="#1f1c1d" stroke-width="1.25"/>
<line x1="1408.68" y1="276.6" x2="1413.8" y2="276.6" stroke="#1f1c1d" stroke-width="1.25"/>
<rect x="1406.58" y="284" width="9.32" height="150.4" fill="#565656" stroke="#1f1c1d" stroke-width="1.15"/>
<line x1="1420.56" y1="297.4" x2="1420.56" y2="284.4" stroke="#1f1c1d" stroke-width="1.25"/>
<line x1="1418" y1="284.4" x2="1423.12" y2="284.4" stroke="#1f1c1d" stroke-width="1.25"/>
<rect x="1415.9" y="297.4" width="9.32" height="137" fill="#232021" stroke="#1f1c1d" stroke-width="1.15"/>
<line x1="1429.88" y1="315.4" x2="1429.88" y2="290.6" stroke="#1f1c1d" stroke-width="1.25"/>
<line x1="1427.32" y1="290.6" x2="1432.44" y2="290.6" stroke="#1f1c1d" stroke-width="1.25"/>
<rect x="1425.22" y="315.4" width="9.32" height="119" fill="#ffffff" stroke="#1f1c1d" stroke-width="1.15"/>
<path d="M1425.22 320.12H1434.54M1425.22 324.84H1434.54M1425.22 329.56H1434.54M1425.22 334.28H1434.54M1425.22 339H1434.54M1425.22 343.72H1434.54M1425.22 348.44H1434.54M1425.22 353.16H1434.54M1425.22 357.88H1434.54M1425.22 362.6H1434.54M1425.22 367.32H1434.54M1425.22 372.04H1434.54M1425.22 376.76H1434.54M1425.22 381.48H1434.54M1425.22 386.2H1434.54M1425.22 390.92H1434.54M1425.22 395.64H1434.54M1425.22 400.36H1434.54M1425.22 405.08H1434.54M1425.22 409.8H1434.54M1425.22 414.52H1434.54M1425.22 419.24H1434.54M1425.22 423.96H1434.54M1425.22 428.68H1434.54" stroke="#2e2e2e" stroke-width="1.15" fill="none"/>
<path d="M1429.88 315.4V434.4" stroke="#777" stroke-width="1.15" fill="none"/>
<rect x="1462.5" y="207" width="9.32" height="227.4" fill="#ffffff" stroke="#1f1c1d" stroke-width="1.15"/>
<line x1="1476.48" y1="217" x2="1476.48" y2="209.6" stroke="#1f1c1d" stroke-width="1.25"/>
<line x1="1473.92" y1="209.6" x2="1479.04" y2="209.6" stroke="#1f1c1d" stroke-width="1.25"/>
<rect x="1471.82" y="217" width="9.32" height="217.4" fill="url(#dotsB)" stroke="#1f1c1d" stroke-width="1.15"/>
<line x1="1485.8" y1="234" x2="1485.8" y2="210.4" stroke="#1f1c1d" stroke-width="1.25"/>
<line x1="1483.24" y1="210.4" x2="1488.36" y2="210.4" stroke="#1f1c1d" stroke-width="1.25"/>
<rect x="1481.14" y="234" width="9.32" height="200.4" fill="#d9d9d9" stroke="#1f1c1d" stroke-width="1.15"/>
<line x1="1495.12" y1="237" x2="1495.12" y2="217.4" stroke="#1f1c1d" stroke-width="1.25"/>
<line x1="1492.56" y1="217.4" x2="1497.68" y2="217.4" stroke="#1f1c1d" stroke-width="1.25"/>
<rect x="1490.46" y="237" width="9.32" height="197.4" fill="#8f8f8f" stroke="#1f1c1d" stroke-width="1.15"/>
<line x1="1504.44" y1="275" x2="1504.44" y2="252.4" stroke="#1f1c1d" stroke-width="1.25"/>
<line x1="1501.88" y1="252.4" x2="1507" y2="252.4" stroke="#1f1c1d" stroke-width="1.25"/>
<rect x="1499.78" y="275" width="9.32" height="159.4" fill="#565656" stroke="#1f1c1d" stroke-width="1.15"/>
<line x1="1513.76" y1="311.4" x2="1513.76" y2="286.6" stroke="#1f1c1d" stroke-width="1.25"/>
<line x1="1511.2" y1="286.6" x2="1516.32" y2="286.6" stroke="#1f1c1d" stroke-width="1.25"/>
<rect x="1509.1" y="311.4" width="9.32" height="123" fill="#232021" stroke="#1f1c1d" stroke-width="1.15"/>
<line x1="1523.08" y1="307.6" x2="1523.08" y2="285" stroke="#1f1c1d" stroke-width="1.25"/>
<line x1="1520.52" y1="285" x2="1525.64" y2="285" stroke="#1f1c1d" stroke-width="1.25"/>
<rect x="1518.42" y="307.6" width="9.32" height="126.8" fill="#ffffff" stroke="#1f1c1d" stroke-width="1.15"/>
<path d="M1518.42 312.32H1527.74M1518.42 317.04H1527.74M1518.42 321.76H1527.74M1518.42 326.48H1527.74M1518.42 331.2H1527.74M1518.42 335.92H1527.74M1518.42 340.64H1527.74M1518.42 345.36H1527.74M1518.42 350.08H1527.74M1518.42 354.8H1527.74M1518.42 359.52H1527.74M1518.42 364.24H1527.74M1518.42 368.96H1527.74M1518.42 373.68H1527.74M1518.42 378.4H1527.74M1518.42 383.12H1527.74M1518.42 387.84H1527.74M1518.42 392.56H1527.74M1518.42 397.28H1527.74M1518.42 402H1527.74M1518.42 406.72H1527.74M1518.42 411.44H1527.74M1518.42 416.16H1527.74M1518.42 420.88H1527.74M1518.42 425.6H1527.74M1518.42 430.32H1527.74" stroke="#2e2e2e" stroke-width="1.15" fill="none"/>
<path d="M1523.08 307.6V434.4" stroke="#777" stroke-width="1.15" fill="none"/>
<line x1="997.2" y1="126.5" x2="997.2" y2="435.55" stroke="#1f1c1d" stroke-width="1.9"/>
<line x1="991" y1="434.4" x2="1564" y2="434.4" stroke="#1f1c1d" stroke-width="2.3"/>
<line x1="991" y1="206.7" x2="997.2" y2="206.7" stroke="#1f1c1d" stroke-width="1.52"/>
<line x1="991" y1="320.5" x2="997.2" y2="320.5" stroke="#1f1c1d" stroke-width="1.52"/>
<line x1="1043.8" y1="434.4" x2="1043.8" y2="440.4" stroke="#1f1c1d" stroke-width="1.71"/>
<line x1="1136.4" y1="434.4" x2="1136.4" y2="440.4" stroke="#1f1c1d" stroke-width="1.71"/>
<line x1="1229.5" y1="434.4" x2="1229.5" y2="440.4" stroke="#1f1c1d" stroke-width="1.71"/>
<line x1="1322.8" y1="434.4" x2="1322.8" y2="440.4" stroke="#1f1c1d" stroke-width="1.71"/>
<line x1="1415.9" y1="434.4" x2="1415.9" y2="440.4" stroke="#1f1c1d" stroke-width="1.71"/>
<line x1="1509.1" y1="434.4" x2="1509.1" y2="440.4" stroke="#1f1c1d" stroke-width="1.71"/>
<text x="982.2" y="211" font-size="12.9" font-weight="bold" text-anchor="end" fill="#1f1c1d">100</text>
<text x="982.2" y="324.8" font-size="12.9" font-weight="bold" text-anchor="end" fill="#1f1c1d">50</text>
<text x="982.2" y="438.8" font-size="12.9" font-weight="bold" text-anchor="end" fill="#1f1c1d">0</text>
<g transform="translate(908.6,288.4) rotate(-90)">
<text x="0" y="0" font-size="19.6" font-weight="bold" fill="#1f1c1d">I<tspan font-size="14" dy="5.8">Na</tspan></text>
</g>
<g transform="translate(938.2,280.25) rotate(-90)">
<text x="0" y="0" font-size="19.6" font-weight="bold" text-anchor="middle" fill="#1f1c1d" textLength="124.4" lengthAdjust="spacing">(% of control)</text>
</g>
<text transform="translate(1050.1,453.4) rotate(-45)" font-size="13.3" font-weight="bold" text-anchor="end" fill="#1f1c1d" letter-spacing="0.1">Ctl</text>
<text transform="translate(1142.7,453.4) rotate(-45)" font-size="13.3" font-weight="bold" text-anchor="end" fill="#1f1c1d" letter-spacing="0.1">18W/765</text>
<text transform="translate(1235.8,453.4) rotate(-45)" font-size="13.3" font-weight="bold" text-anchor="end" fill="#1f1c1d" letter-spacing="0.1">18W/840</text>
<text transform="translate(1329.1,453.4) rotate(-45)" font-size="13.3" font-weight="bold" text-anchor="end" fill="#1f1c1d" letter-spacing="0.1">18W/865</text>
<text transform="translate(1422.2,453.4) rotate(-45)" font-size="13.3" font-weight="bold" text-anchor="end" fill="#1f1c1d" letter-spacing="0.1">18W/840</text>
<text transform="translate(1515.4,453.4) rotate(-45)" font-size="13.3" font-weight="bold" text-anchor="end" fill="#1f1c1d" letter-spacing="0.1">18W/865</text>
<text x="1264.3" y="58" font-size="15.5" font-weight="bold" text-anchor="middle" fill="#1f1c1d" textLength="76.4" lengthAdjust="spacing">ccmp2956</text>
<text x="1166" y="97.9" font-size="15.2" text-anchor="start" fill="#1f1c1d">31-33<tspan font-size="10.5" dx="6" fill="#444">‰</tspan></text>
<text x="1397.1" y="98.9" font-size="15.2" text-anchor="start" fill="#1f1c1d">37<tspan font-size="10.5" dx="5" fill="#444">‰</tspan></text>
<line x1="1068.8" y1="110.3" x2="1319.8" y2="110.3" stroke="#1f1c1d" stroke-width="1.3"/>
<line x1="1326.2" y1="110.3" x2="1532.1" y2="110.3" stroke="#1f1c1d" stroke-width="1.3"/>
<text x="1110.6" y="142.2" font-size="14.8" font-weight="normal" text-anchor="middle" fill="#1f1c1d">19°C</text>
<text x="1347.2" y="142.8" font-size="14.8" font-weight="normal" text-anchor="middle" fill="#1f1c1d">24°C</text>
<line x1="1067" y1="155.3" x2="1147" y2="155.3" stroke="#1f1c1d" stroke-width="1.3"/>
<line x1="1169.6" y1="155.3" x2="1510.2" y2="155.3" stroke="#1f1c1d" stroke-width="1.3"/>
<rect x="1516.4" y="133.3" width="18.6" height="8.9" rx="0.8" fill="url(#dotsL)" stroke="#1f1c1d" stroke-width="1.15"/>
<text x="1544" y="141.4" font-size="12.3" font-weight="normal" text-anchor="start" fill="#4a4a4a">0.5</text>
<rect x="1516.4" y="152.1" width="18.6" height="8.9" rx="0.8" fill="#d9d9d9" stroke="#1f1c1d" stroke-width="1.15"/>
<text x="1544" y="160.2" font-size="12.3" font-weight="normal" text-anchor="start" fill="#4a4a4a">1</text>
<rect x="1516.4" y="170.9" width="18.6" height="8.9" rx="0.8" fill="#8f8f8f" stroke="#1f1c1d" stroke-width="1.15"/>
<text x="1544" y="179" font-size="12.3" font-weight="normal" text-anchor="start" fill="#4a4a4a">2</text>
<rect x="1516.4" y="189.7" width="18.6" height="8.9" rx="0.8" fill="#565656" stroke="#1f1c1d" stroke-width="1.15"/>
<text x="1544" y="197.8" font-size="12.3" font-weight="normal" text-anchor="start" fill="#4a4a4a">4</text>
<rect x="1516.4" y="208.5" width="18.6" height="8.9" rx="0.8" fill="#232021" stroke="#1f1c1d" stroke-width="1.15"/>
<text x="1544" y="216.6" font-size="12.3" font-weight="normal" text-anchor="start" fill="#4a4a4a">6</text>
<rect x="1516.4" y="227.3" width="18.6" height="8.9" rx="0.8" fill="#ffffff" stroke="#1f1c1d" stroke-width="1.15"/>
<path d="M1516.4 231.75H1535M1521.05 227.3V236.2M1525.7 227.3V236.2M1530.35 227.3V236.2" stroke="#2e2e2e" stroke-width="1.15" fill="none"/>
<text x="1544" y="235.4" font-size="12.3" font-weight="normal" text-anchor="start" fill="#4a4a4a">8</text>
<text x="1327" y="280.8" font-size="14" font-weight="normal" text-anchor="middle" fill="#333">*</text>
<text x="1337.4" y="268.8" font-size="14" font-weight="normal" text-anchor="middle" fill="#333">*</text>
<text x="1408.4" y="277.4" font-size="14" font-weight="normal" text-anchor="middle" fill="#333">*</text>
<text x="1418.6" y="282.8" font-size="14" font-weight="normal" text-anchor="middle" fill="#333">*</text>
<text x="1428.4" y="291.4" font-size="14" font-weight="normal" text-anchor="middle" fill="#333">*</text>
<text x="1511.6" y="286.4" font-size="14" font-weight="normal" text-anchor="middle" fill="#333">*</text>
<text x="1522.4" y="286.4" font-size="14" font-weight="normal" text-anchor="middle" fill="#333">*</text>
<rect x="155.3" y="767.9" width="30.95" height="249.4" fill="#ffffff" stroke="#1f1c1d" stroke-width="1.45"/>
<line x1="201.72" y1="764.4" x2="201.72" y2="751.7" stroke="#1f1c1d" stroke-width="1.35"/>
<line x1="193.99" y1="751.7" x2="209.46" y2="751.7" stroke="#1f1c1d" stroke-width="1.35"/>
<rect x="186.25" y="764.4" width="30.95" height="252.9" fill="url(#dotsC)" stroke="#1f1c1d" stroke-width="1.45"/>
<line x1="232.68" y1="760.6" x2="232.68" y2="742.9" stroke="#1f1c1d" stroke-width="1.35"/>
<line x1="224.94" y1="742.9" x2="240.41" y2="742.9" stroke="#1f1c1d" stroke-width="1.35"/>
<rect x="217.2" y="760.6" width="30.95" height="256.7" fill="#d9d9d9" stroke="#1f1c1d" stroke-width="1.45"/>
<line x1="263.62" y1="785.5" x2="263.62" y2="763.9" stroke="#1f1c1d" stroke-width="1.35"/>
<line x1="255.89" y1="763.9" x2="271.36" y2="763.9" stroke="#1f1c1d" stroke-width="1.35"/>
<rect x="248.15" y="785.5" width="30.95" height="231.8" fill="#8f8f8f" stroke="#1f1c1d" stroke-width="1.45"/>
<line x1="294.58" y1="784" x2="294.58" y2="762.4" stroke="#1f1c1d" stroke-width="1.35"/>
<line x1="286.84" y1="762.4" x2="302.31" y2="762.4" stroke="#1f1c1d" stroke-width="1.35"/>
<rect x="279.1" y="784" width="30.95" height="233.3" fill="#565656" stroke="#1f1c1d" stroke-width="1.45"/>
<line x1="325.53" y1="801.8" x2="325.53" y2="784.8" stroke="#1f1c1d" stroke-width="1.35"/>
<line x1="317.79" y1="784.8" x2="333.26" y2="784.8" stroke="#1f1c1d" stroke-width="1.35"/>
<rect x="310.05" y="801.8" width="30.95" height="215.5" fill="#232021" stroke="#1f1c1d" stroke-width="1.45"/>
<line x1="356.48" y1="814" x2="356.48" y2="797.5" stroke="#1f1c1d" stroke-width="1.35"/>
<line x1="348.74" y1="797.5" x2="364.21" y2="797.5" stroke="#1f1c1d" stroke-width="1.35"/>
<rect x="341" y="814" width="30.95" height="203.3" fill="#ffffff" stroke="#1f1c1d" stroke-width="1.45"/>
<path d="M341 819.1H371.95M341 824.2H371.95M341 829.3H371.95M341 834.4H371.95M341 839.5H371.95M341 844.6H371.95M341 849.7H371.95M341 854.8H371.95M341 859.9H371.95M341 865H371.95M341 870.1H371.95M341 875.2H371.95M341 880.3H371.95M341 885.4H371.95M341 890.5H371.95M341 895.6H371.95M341 900.7H371.95M341 905.8H371.95M341 910.9H371.95M341 916H371.95M341 921.1H371.95M341 926.2H371.95M341 931.3H371.95M341 936.4H371.95M341 941.5H371.95M341 946.6H371.95M341 951.7H371.95M341 956.8H371.95M341 961.9H371.95M341 967H371.95M341 972.1H371.95M341 977.2H371.95M341 982.3H371.95M341 987.4H371.95M341 992.5H371.95M341 997.6H371.95M341 1002.7H371.95M341 1007.8H371.95M341 1012.9H371.95" stroke="#2e2e2e" stroke-width="1.3" fill="none"/>
<path d="M346.16 814V1017.3M351.32 814V1017.3M356.48 814V1017.3M361.63 814V1017.3M366.79 814V1017.3" stroke="#2e2e2e" stroke-width="1.3" fill="none"/>
<rect x="464" y="767.9" width="30.95" height="249.4" fill="#ffffff" stroke="#1f1c1d" stroke-width="1.45"/>
<line x1="510.43" y1="774.3" x2="510.43" y2="761.6" stroke="#1f1c1d" stroke-width="1.35"/>
<line x1="502.69" y1="761.6" x2="518.16" y2="761.6" stroke="#1f1c1d" stroke-width="1.35"/>
<rect x="494.95" y="774.3" width="30.95" height="243" fill="url(#dotsC)" stroke="#1f1c1d" stroke-width="1.45"/>
<line x1="541.38" y1="802.2" x2="541.38" y2="776.6" stroke="#1f1c1d" stroke-width="1.35"/>
<line x1="533.64" y1="776.6" x2="549.11" y2="776.6" stroke="#1f1c1d" stroke-width="1.35"/>
<rect x="525.9" y="802.2" width="30.95" height="215.1" fill="#d9d9d9" stroke="#1f1c1d" stroke-width="1.45"/>
<line x1="572.33" y1="832.6" x2="572.33" y2="815.3" stroke="#1f1c1d" stroke-width="1.35"/>
<line x1="564.59" y1="815.3" x2="580.06" y2="815.3" stroke="#1f1c1d" stroke-width="1.35"/>
<rect x="556.85" y="832.6" width="30.95" height="184.7" fill="#8f8f8f" stroke="#1f1c1d" stroke-width="1.45"/>
<line x1="603.27" y1="815.3" x2="603.27" y2="791.3" stroke="#1f1c1d" stroke-width="1.35"/>
<line x1="595.54" y1="791.3" x2="611.01" y2="791.3" stroke="#1f1c1d" stroke-width="1.35"/>
<rect x="587.8" y="815.3" width="30.95" height="202" fill="#565656" stroke="#1f1c1d" stroke-width="1.45"/>
<line x1="634.23" y1="819.8" x2="634.23" y2="780.3" stroke="#1f1c1d" stroke-width="1.35"/>
<line x1="626.49" y1="780.3" x2="641.96" y2="780.3" stroke="#1f1c1d" stroke-width="1.35"/>
<rect x="618.75" y="819.8" width="30.95" height="197.5" fill="#232021" stroke="#1f1c1d" stroke-width="1.45"/>
<line x1="665.18" y1="846.5" x2="665.18" y2="810.7" stroke="#1f1c1d" stroke-width="1.35"/>
<line x1="657.44" y1="810.7" x2="672.91" y2="810.7" stroke="#1f1c1d" stroke-width="1.35"/>
<rect x="649.7" y="846.5" width="30.95" height="170.8" fill="#ffffff" stroke="#1f1c1d" stroke-width="1.45"/>
<path d="M649.7 851.6H680.65M649.7 856.7H680.65M649.7 861.8H680.65M649.7 866.9H680.65M649.7 872H680.65M649.7 877.1H680.65M649.7 882.2H680.65M649.7 887.3H680.65M649.7 892.4H680.65M649.7 897.5H680.65M649.7 902.6H680.65M649.7 907.7H680.65M649.7 912.8H680.65M649.7 917.9H680.65M649.7 923H680.65M649.7 928.1H680.65M649.7 933.2H680.65M649.7 938.3H680.65M649.7 943.4H680.65M649.7 948.5H680.65M649.7 953.6H680.65M649.7 958.7H680.65M649.7 963.8H680.65M649.7 968.9H680.65M649.7 974H680.65M649.7 979.1H680.65M649.7 984.2H680.65M649.7 989.3H680.65M649.7 994.4H680.65M649.7 999.5H680.65M649.7 1004.6H680.65M649.7 1009.7H680.65M649.7 1014.8H680.65" stroke="#2e2e2e" stroke-width="1.3" fill="none"/>
<path d="M654.86 846.5V1017.3M660.02 846.5V1017.3M665.18 846.5V1017.3M670.33 846.5V1017.3M675.49 846.5V1017.3" stroke="#2e2e2e" stroke-width="1.3" fill="none"/>
<line x1="155.25" y1="679.4" x2="155.25" y2="1018.55" stroke="#1f1c1d" stroke-width="2.2"/>
<line x1="148.65" y1="1017.3" x2="775.6" y2="1017.3" stroke="#1f1c1d" stroke-width="2.5"/>
<line x1="148.65" y1="767.9" x2="155.25" y2="767.9" stroke="#1f1c1d" stroke-width="1.76"/>
<line x1="148.65" y1="892.4" x2="155.25" y2="892.4" stroke="#1f1c1d" stroke-width="1.76"/>
<line x1="310.05" y1="1017.3" x2="310.05" y2="1023.9" stroke="#1f1c1d" stroke-width="1.98"/>
<line x1="618.75" y1="1017.3" x2="618.75" y2="1023.9" stroke="#1f1c1d" stroke-width="1.98"/>
<line x1="155.4" y1="728.9" x2="674.2" y2="728.9" stroke="#1f1c1d" stroke-width="1.4"/>
<text x="139.5" y="773.2" font-size="14.2" font-weight="bold" text-anchor="end" fill="#1f1c1d">100</text>
<text x="139.5" y="897.7" font-size="14.2" font-weight="bold" text-anchor="end" fill="#1f1c1d">50</text>
<text x="139.5" y="1022.9" font-size="14.2" font-weight="bold" text-anchor="end" fill="#1f1c1d">0</text>
<g transform="translate(59.7,860.6) rotate(-90)">
<text x="0" y="0" font-size="21.2" font-weight="bold" fill="#1f1c1d">I<tspan font-size="15.5" dy="5.6">Na</tspan></text>
</g>
<g transform="translate(91.8,849) rotate(-90)">
<text x="0" y="0" font-size="21.2" font-weight="bold" text-anchor="middle" fill="#1f1c1d" textLength="134.6" lengthAdjust="spacing">(% of control)</text>
</g>
<text transform="translate(316.15,1037.05) rotate(-45)" font-size="14.06" font-weight="bold" text-anchor="end" fill="#1f1c1d" letter-spacing="0.5">Ctl</text>
<text transform="translate(624.85,1037.05) rotate(-45)" font-size="14.06" font-weight="bold" text-anchor="end" fill="#1f1c1d" letter-spacing="0.5">18W/765</text>
<text x="422.7" y="672.5" font-size="16" font-weight="bold" text-anchor="middle" fill="#1f1c1d" textLength="82.1" lengthAdjust="spacing">ccmp2811</text>
<text x="356.4" y="713.7" font-size="16.5" text-anchor="start" fill="#1f1c1d">19°C, 31-33<tspan font-size="10.8" dx="7.8" fill="#444">‰</tspan></text>
<rect x="724.1" y="687.6" width="20.2" height="9.9" rx="0.8" fill="url(#dotsL)" stroke="#1f1c1d" stroke-width="1.3"/>
<text x="754.1" y="696.6" font-size="14" font-weight="normal" text-anchor="start" fill="#2a2a2a">0.5</text>
<rect x="724.1" y="708.26" width="20.2" height="9.9" rx="0.8" fill="#d9d9d9" stroke="#1f1c1d" stroke-width="1.3"/>
<text x="754.1" y="717.26" font-size="14" font-weight="normal" text-anchor="start" fill="#2a2a2a">1</text>
<rect x="724.1" y="728.92" width="20.2" height="9.9" rx="0.8" fill="#8f8f8f" stroke="#1f1c1d" stroke-width="1.3"/>
<text x="754.1" y="737.92" font-size="14" font-weight="normal" text-anchor="start" fill="#2a2a2a">2</text>
<rect x="724.1" y="749.58" width="20.2" height="9.9" rx="0.8" fill="#565656" stroke="#1f1c1d" stroke-width="1.3"/>
<text x="754.1" y="758.58" font-size="14" font-weight="normal" text-anchor="start" fill="#2a2a2a">4</text>
<rect x="724.1" y="770.24" width="20.2" height="9.9" rx="0.8" fill="#232021" stroke="#1f1c1d" stroke-width="1.3"/>
<text x="754.1" y="779.24" font-size="14" font-weight="normal" text-anchor="start" fill="#2a2a2a">6</text>
<rect x="724.1" y="790.9" width="20.2" height="9.9" rx="0.8" fill="#ffffff" stroke="#1f1c1d" stroke-width="1.3"/>
<path d="M724.1 795.85H744.3M729.15 790.9V800.8M734.2 790.9V800.8M739.25 790.9V800.8" stroke="#2e2e2e" stroke-width="1.3" fill="none"/>
<text x="754.1" y="799.9" font-size="14" font-weight="normal" text-anchor="start" fill="#2a2a2a">8</text>
<line x1="1072.3" y1="771" x2="1072.3" y2="731.6" stroke="#232021" stroke-width="4"/>
<line x1="1065.7" y1="731.6" x2="1078.9" y2="731.6" stroke="#232021" stroke-width="3" stroke-linecap="round"/>
<rect x="1054.7" y="769.6" width="35" height="237.1" fill="#232021"/>
<line x1="1156" y1="814" x2="1156" y2="793.4" stroke="#232021" stroke-width="4"/>
<line x1="1149.4" y1="793.4" x2="1162.6" y2="793.4" stroke="#232021" stroke-width="3" stroke-linecap="round"/>
<rect x="1138.5" y="812.5" width="35.3" height="194.2" fill="#232021"/>
<line x1="1238.8" y1="887" x2="1238.8" y2="872.8" stroke="#232021" stroke-width="4"/>
<line x1="1232.2" y1="872.8" x2="1245.4" y2="872.8" stroke="#232021" stroke-width="3" stroke-linecap="round"/>
<rect x="1221.1" y="885.6" width="35" height="121.1" fill="#232021"/>
<line x1="1322.4" y1="1004" x2="1322.4" y2="996.4" stroke="#232021" stroke-width="4"/>
<line x1="1315.8" y1="996.4" x2="1329" y2="996.4" stroke="#232021" stroke-width="3" stroke-linecap="round"/>
<line x1="1322.4" y1="1004" x2="1322.4" y2="1009.6" stroke="#232021" stroke-width="4"/>
<line x1="1315.8" y1="1009.6" x2="1329" y2="1009.6" stroke="#232021" stroke-width="3" stroke-linecap="round"/>
<rect x="1307.3" y="1002.2" width="30.4" height="4.5" fill="#232021"/>
<line x1="1405.2" y1="1012" x2="1405.2" y2="1017.4" stroke="#232021" stroke-width="4"/>
<line x1="1398.6" y1="1017.4" x2="1411.8" y2="1017.4" stroke="#232021" stroke-width="3" stroke-linecap="round"/>
<rect x="1388" y="1006.7" width="35.4" height="8.3" fill="#232021"/>
<line x1="989.4" y1="721.2" x2="989.4" y2="1054.9" stroke="#232021" stroke-width="1.9"/>
<line x1="975.8" y1="1006.7" x2="1490.4" y2="1006.7" stroke="#232021" stroke-width="2"/>
<line x1="975.8" y1="769.7" x2="989.4" y2="769.7" stroke="#232021" stroke-width="1.9"/>
<line x1="975.8" y1="887.7" x2="989.4" y2="887.7" stroke="#232021" stroke-width="1.9"/>
<line x1="1071.92" y1="1006.7" x2="1071.92" y2="1020.8" stroke="#232021" stroke-width="1.9"/>
<line x1="1031.16" y1="1006.7" x2="1031.16" y2="1014" stroke="#232021" stroke-width="1.7"/>
<line x1="1051.04" y1="1006.7" x2="1051.04" y2="1014" stroke="#232021" stroke-width="1.7"/>
<line x1="1063.57" y1="1006.7" x2="1063.57" y2="1014" stroke="#232021" stroke-width="1.7"/>
<line x1="1155.44" y1="1006.7" x2="1155.44" y2="1020.8" stroke="#232021" stroke-width="1.9"/>
<line x1="1114.68" y1="1006.7" x2="1114.68" y2="1014" stroke="#232021" stroke-width="1.7"/>
<line x1="1134.56" y1="1006.7" x2="1134.56" y2="1014" stroke="#232021" stroke-width="1.7"/>
<line x1="1147.09" y1="1006.7" x2="1147.09" y2="1014" stroke="#232021" stroke-width="1.7"/>
<line x1="1238.96" y1="1006.7" x2="1238.96" y2="1020.8" stroke="#232021" stroke-width="1.9"/>
<line x1="1198.2" y1="1006.7" x2="1198.2" y2="1014" stroke="#232021" stroke-width="1.7"/>
<line x1="1218.08" y1="1006.7" x2="1218.08" y2="1014" stroke="#232021" stroke-width="1.7"/>
<line x1="1230.61" y1="1006.7" x2="1230.61" y2="1014" stroke="#232021" stroke-width="1.7"/>
<line x1="1322.48" y1="1006.7" x2="1322.48" y2="1020.8" stroke="#232021" stroke-width="1.9"/>
<line x1="1281.72" y1="1006.7" x2="1281.72" y2="1014" stroke="#232021" stroke-width="1.7"/>
<line x1="1301.6" y1="1006.7" x2="1301.6" y2="1014" stroke="#232021" stroke-width="1.7"/>
<line x1="1314.13" y1="1006.7" x2="1314.13" y2="1014" stroke="#232021" stroke-width="1.7"/>
<line x1="1406" y1="1006.7" x2="1406" y2="1020.8" stroke="#232021" stroke-width="1.9"/>
<line x1="1365.24" y1="1006.7" x2="1365.24" y2="1014" stroke="#232021" stroke-width="1.7"/>
<line x1="1385.12" y1="1006.7" x2="1385.12" y2="1014" stroke="#232021" stroke-width="1.7"/>
<line x1="1397.65" y1="1006.7" x2="1397.65" y2="1014" stroke="#232021" stroke-width="1.7"/>
<line x1="1489.52" y1="1006.7" x2="1489.52" y2="1020.8" stroke="#232021" stroke-width="1.9"/>
<line x1="1448.76" y1="1006.7" x2="1448.76" y2="1014" stroke="#232021" stroke-width="1.7"/>
<line x1="1468.64" y1="1006.7" x2="1468.64" y2="1014" stroke="#232021" stroke-width="1.7"/>
<line x1="1481.17" y1="1006.7" x2="1481.17" y2="1014" stroke="#232021" stroke-width="1.7"/>
<text x="971.1" y="777.2" font-size="24" font-weight="bold" text-anchor="end" fill="#232021" letter-spacing="0">100</text>
<text x="971.1" y="896.3" font-size="24" font-weight="bold" text-anchor="end" fill="#232021" letter-spacing="0">50</text>
<text x="971.1" y="1014.9" font-size="24" font-weight="bold" text-anchor="end" fill="#232021" letter-spacing="0">0</text>
<text x="1071.62" y="1045.5" font-size="23.6" font-weight="bold" text-anchor="middle" fill="#232021" letter-spacing="0">-11</text>
<text x="1155.14" y="1045.5" font-size="23.6" font-weight="bold" text-anchor="middle" fill="#232021" letter-spacing="0">-10</text>
<text x="1238.66" y="1045.5" font-size="23.6" font-weight="bold" text-anchor="middle" fill="#232021" letter-spacing="0">-9</text>
<text x="1322.18" y="1045.5" font-size="23.6" font-weight="bold" text-anchor="middle" fill="#232021" letter-spacing="0">-8</text>
<text x="1405.7" y="1045.5" font-size="23.6" font-weight="bold" text-anchor="middle" fill="#232021" letter-spacing="0">-7</text>
<text x="1489.22" y="1045.5" font-size="23.6" font-weight="bold" text-anchor="middle" fill="#232021" letter-spacing="0">-6</text>
<text x="1235.6" y="1090.3" font-size="29.8" font-weight="bold" text-anchor="middle" fill="#232021">[TTX]M</text>
<g transform="translate(876.2,900.9) rotate(-90)">
<text font-size="23.5" font-weight="bold" fill="#232021">I<tspan font-size="15" font-weight="normal" dy="7.2" letter-spacing="-0.9">Na</tspan></text>
</g>
<g transform="translate(911.8,892.6) rotate(-90)">
<text font-size="24.4" font-weight="bold" text-anchor="middle" fill="#232021" textLength="157.6" lengthAdjust="spacing">(% of control)</text>
</g>
<g>
<rect x="263.7" y="1280.5" width="383.7" height="447.5" fill="url(#bgE)"/>
<line x1="308" y1="1282.5" x2="308" y2="1727" stroke="#c6c6c6" stroke-width="2.2" stroke-dasharray="2.2 4.1"/>
<line x1="381.4" y1="1282.5" x2="381.4" y2="1727" stroke="#c6c6c6" stroke-width="2.2" stroke-dasharray="2.2 4.1"/>
<line x1="455.3" y1="1282.5" x2="455.3" y2="1727" stroke="#c6c6c6" stroke-width="2.2" stroke-dasharray="2.2 4.1"/>
<line x1="527.6" y1="1282.5" x2="527.6" y2="1727" stroke="#c6c6c6" stroke-width="2.2" stroke-dasharray="2.2 4.1"/>
<line x1="601.7" y1="1282.5" x2="601.7" y2="1727" stroke="#c6c6c6" stroke-width="2.2" stroke-dasharray="2.2 4.1"/>
<line x1="267.7" y1="1325.1" x2="645.4" y2="1325.1" stroke="#c6c6c6" stroke-width="2.2" stroke-dasharray="2.2 4.1"/>
<line x1="267.7" y1="1628.1" x2="645.4" y2="1628.1" stroke="#c6c6c6" stroke-width="2.2" stroke-dasharray="2.2 4.1"/>
<path d="M263.49 1476.24 264.51 1476.64 265.53 1476.42 266.55 1476.58 267.57 1476.72 268.58 1476.44 269.6 1476.4 270.62 1476.12 271.64 1476.23 272.66 1476.35 273.68 1476.44 274.7 1476.5 275.72 1476.23 276.73 1476.02 277.75 1476.14 278.77 1476.49 279.79 1476.06 280.81 1476.18 281.83 1476.45 282.85 1475.89 283.86 1476.22 284.88 1476.41 285.9 1475.96 286.92 1476.14 287.94 1476.33 288.96 1475.85 289.98 1476.07 291 1476.18 292.01 1476.12 293.03 1475.98 294.05 1475.8 295.07 1475.95 296.09 1475.87 297.11 1475.91 298.13 1475.82 299.14 1476.09 300.16 1476.03 301.18 1475.74 302.2 1475.87 303.22 1475.68 304.24 1475.76 305.26 1475.68 306.27 1475.85 307.29 1475.66 308.31 1475.69 309.33 1475.83 310.35 1475.62 311.37 1475.9 312.39 1475.44 313.4 1475.76 314.42 1475.55 315.44 1475.53 316.46 1475.63 317.48 1475.54 318.5 1475.45 319.52 1475.18 320.53 1475.21 321.55 1475.56 322.57 1475.43 323.59 1475.5 324.61 1475.63 325.63 1475.45 326.65 1475.04 327.66 1475.17 328.68 1475.31 329.7 1475.07 330.72 1475.48 331.74 1475.44 332.76 1475.35 333.77 1475.1 334.79 1475.29 335.81 1474.83 336.83 1474.91 337.85 1474.97 338.87 1475.11 339.88 1474.92 340.9 1474.68 341.92 1474.77 342.94 1474.73" fill="none" stroke="#a0523a" stroke-width="1.8" stroke-linejoin="round" stroke-linecap="butt"/>
<path d="M263.49 1475.13 264.51 1475.03 265.53 1475.17 266.55 1475.17 267.57 1475.35 268.58 1475.35 269.6 1475.17 270.62 1475.11 271.64 1475.29 272.66 1475.34 273.68 1475.19 274.7 1475.25 275.72 1475.32 276.73 1474.76 277.75 1475.24 278.77 1474.87 279.79 1474.97 280.81 1475.15 281.83 1475.08 282.85 1474.72 283.86 1475.01 284.88 1474.64 285.9 1474.79 286.92 1475.05 287.94 1474.8 288.96 1474.89 289.98 1474.94 291 1474.98 292.01 1474.93 293.03 1474.46 294.05 1474.69 295.07 1474.69 296.09 1474.43 297.11 1474.7 298.13 1474.72 299.14 1474.84 300.16 1474.89 301.18 1474.38 302.2 1474.42 303.22 1474.66 304.24 1474.33 305.26 1474.36 306.27 1474.55 307.29 1474.29 308.31 1474.64 309.33 1474.66 310.35 1474.15 311.37 1474.43 312.39 1474.57 313.4 1474.65 314.42 1474.21 315.44 1474.13 316.46 1474.53 317.48 1474.53 318.5 1474.08 319.52 1474.2 320.53 1474.35 321.55 1474.4 322.57 1473.97 323.59 1474.24 324.61 1474.3 325.63 1474.12 326.65 1473.86 327.66 1473.76 328.68 1473.88 329.7 1474.17 330.72 1473.68 331.74 1473.63 332.76 1473.81 333.77 1473.61 334.79 1473.63 335.81 1473.52 336.83 1473.79 337.85 1473.87 338.87 1473.67 339.88 1473.47 340.9 1473.55 341.92 1473.67 342.94 1473.85" fill="none" stroke="#dc8f5a" stroke-width="1.3" stroke-linejoin="round" stroke-linecap="butt"/>
<path d="M263.49 1474.51 264.51 1474.04 265.53 1473.89 266.55 1474.36 267.57 1474.4 268.58 1474.11 269.6 1474.28 270.62 1474.32 271.64 1474.15 272.66 1474.29 273.68 1473.76 274.7 1473.9 275.72 1473.88 276.73 1473.77 277.75 1474.23 278.77 1473.68 279.79 1474.05 280.81 1473.67 281.83 1473.83 282.85 1473.85 283.86 1473.69 284.88 1473.87 285.9 1473.86 286.92 1473.71 287.94 1473.95 288.96 1473.58 289.98 1473.59 291 1473.66 292.01 1473.66 293.03 1473.54 294.05 1473.95 295.07 1473.88 296.09 1473.42 297.11 1473.56 298.13 1473.46 299.14 1473.57 300.16 1473.45 301.18 1473.57 302.2 1473.8 303.22 1473.46 304.24 1473.6 305.26 1473.55 306.27 1473.62 307.29 1473.19 308.31 1473.58 309.33 1473.68 310.35 1473.46 311.37 1473.25 312.39 1473.46 313.4 1473.46 314.42 1473.41 315.44 1473.08 316.46 1473.55 317.48 1473.52 318.5 1473.18 319.52 1473.26 320.53 1472.9 321.55 1473.45 322.57 1473.32 323.59 1473.19 324.61 1473.24 325.63 1472.87 326.65 1472.91 327.66 1472.85 328.68 1473.03 329.7 1472.7 330.72 1473.16 331.74 1472.87 332.76 1472.83 333.77 1472.59 334.79 1472.91 335.81 1472.96 336.83 1472.82 337.85 1472.56 338.87 1472.85 339.88 1472.43 340.9 1472.81 341.92 1472.63 342.94 1472.42" fill="none" stroke="#8a4a34" stroke-width="1.2" stroke-linejoin="round" stroke-linecap="butt"/>
<path d="M263.49 1472.77 264.51 1472.82 265.53 1472.58 266.55 1472.92 267.57 1472.65 268.58 1472.91 269.6 1472.86 270.62 1472.41 271.64 1472.72 272.66 1472.5 273.68 1472.75 274.7 1472.61 275.72 1472.54 276.73 1472.78 277.75 1472.26 278.77 1472.55 279.79 1472.39 280.81 1472.2 281.83 1472.61 282.85 1472.48 283.86 1472.66 284.88 1472.47 285.9 1472.29 286.92 1472.66 287.94 1472.12 288.96 1472.07 289.98 1472.46 291 1472.22 292.01 1472.2 293.03 1472.49 294.05 1472.14 295.07 1472.46 296.09 1472.29 297.11 1472.09 298.13 1471.91 299.14 1472 300.16 1472.41 301.18 1472.06 302.2 1471.89 303.22 1471.95 304.24 1472.3 305.26 1471.84 306.27 1472.19 307.29 1471.78 308.31 1472.26 309.33 1471.98 310.35 1471.67 311.37 1472.18 312.39 1471.82 313.4 1472.02 314.42 1471.87 315.44 1471.59 316.46 1471.58 317.48 1471.58 318.5 1471.57 319.52 1471.48 320.53 1471.45 321.55 1471.97 322.57 1471.43 323.59 1471.66 324.61 1471.4 325.63 1471.43 326.65 1471.73 327.66 1471.81 328.68 1471.5 329.7 1471.2 330.72 1471.77 331.74 1471.17 332.76 1471.34 333.77 1471.4 334.79 1471.58 335.81 1471.51 336.83 1471.35 337.85 1471.2 338.87 1471.43 339.88 1471.42 340.9 1471.39 341.92 1471.26 342.94 1470.86" fill="none" stroke="#5a9c78" stroke-width="2" stroke-linejoin="round" stroke-linecap="butt"/>
<path d="M263.49 1471.6 264.51 1471.7 265.53 1471.69 266.55 1471.87 267.57 1471.5 268.58 1471.74 269.6 1471.55 270.62 1471.77 271.64 1471.41 272.66 1471.56 273.68 1471.32 274.7 1471.37 275.72 1471.79 276.73 1471.4 277.75 1471.73 278.77 1471.49 279.79 1471.18 280.81 1471.62 281.83 1471.15 282.85 1471.6 283.86 1471.09 284.88 1471.48 285.9 1471.15 286.92 1471.24 287.94 1471.59 288.96 1471.29 289.98 1471.38 291 1471.41 292.01 1471.01 293.03 1471.43 294.05 1471.46 295.07 1470.98 296.09 1471.2 297.11 1471.02 298.13 1471.28 299.14 1470.83 300.16 1471.1 301.18 1471.25 302.2 1471.2 303.22 1470.8 304.24 1471.22 305.26 1470.84 306.27 1471.17 307.29 1470.96 308.31 1470.74 309.33 1471.06 310.35 1471.09 311.37 1471 312.39 1471.14 313.4 1470.7 314.42 1470.66 315.44 1470.59 316.46 1470.8 317.48 1470.7 318.5 1470.65 319.52 1470.69 320.53 1470.55 321.55 1470.37 322.57 1470.62 323.59 1470.48 324.61 1470.56 325.63 1470.82 326.65 1470.35 327.66 1470.59 328.68 1470.57 329.7 1470.33 330.72 1470.41 331.74 1470.68 332.76 1470.28 333.77 1470.47 334.79 1470.52 335.81 1470.2 336.83 1470.55 337.85 1470.3 338.87 1470.19 339.88 1470.29 340.9 1470.08 341.92 1470.22 342.94 1469.93" fill="none" stroke="#2c5c46" stroke-width="1.2" stroke-linejoin="round" stroke-linecap="butt"/>
<path d="M531.08 1566.84 531.09 1565.55 531.09 1564.33 531.1 1563.46 531.11 1562.77 531.13 1561.69 531.14 1560.46 531.16 1559.35 531.19 1558.36 531.21 1557.77 531.24 1556.16 531.28 1555.69 531.31 1554.66 531.35 1553.21 531.39 1552.29 531.43 1551.44 531.47 1550.59 531.52 1549.69 531.56 1548.71 531.61 1547.21 531.67 1546.14 531.72 1545.34 531.78 1544.39 531.83 1543.45 531.89 1542.06 531.95 1541.44 532.01 1540.62 532.08 1539.62 532.14 1538.63 532.21 1537.62 532.27 1536.64 532.34 1535 532.41 1534.61 532.48 1533.15 532.56 1532.18 532.65 1531.27 532.75 1530.61 532.86 1529.35 532.98 1528.17 533.11 1527.17 533.25 1526.53 533.4 1525.47 533.56 1523.99 533.72 1523.07 533.9 1522.17 534.09 1521.07 534.29 1520.34 534.49 1519.13 534.71 1518.42 534.95 1517.7 535.23 1516.66 535.54 1515.14 535.89 1514.22 536.26 1513.38 536.66 1512.56 537.08 1511.42 537.53 1510.38 538 1509.53 538.49 1508.56 539 1508.18 539.53 1507.27 540.07 1506.33 540.65 1505.82 541.29 1505 542 1504.32 542.76 1503.55 543.56 1502.98 544.41 1502.7 545.28 1501.96 546.18 1501.42 547.09 1500.38 548.01 1500.13 548.94 1499.55 549.85 1498.91 550.75 1498.72 551.64 1498.12 552.54 1497.88 553.45 1497.92 554.37 1497.5 555.3 1497.17 556.24 1496.42 557.19 1496.16 558.14 1495.75 559.11 1495.5 560.08 1495.21 561.05 1495.53 562.03 1495.21 563.02 1494.46 564.01 1494.23 565 1494.48 566 1493.96 567 1493.59 568.01 1493.43 569.01 1493.07 570.02 1493.08 571.02 1492.97 572.03 1492.63 573.03 1492.66 574.04 1491.98 575.04 1492.15 576.04 1492.26 577.04 1491.51 578.03 1491.6 579.02 1491.55 580.01 1491.21 581 1491.51 582 1491.04 582.99 1490.9 583.99 1491.06 584.99 1490.31 585.99 1490.79 586.99 1490.15 587.99 1490.2 588.99 1490.16 590 1490.04 591 1489.63 592.01 1489.72 593.01 1489.64 594.02 1489.96 595.03 1489.84 596.03 1489.52 597.04 1489.68 598.05 1489.54 599.06 1489.12 600.06 1488.87 601.07 1489.14 602.08 1488.88 603.08 1488.6 604.09 1489.23 605.1 1489.17 606.1 1488.82 607.11 1488.84 608.11 1488.83 609.12 1488.97 610.12 1488.6 611.13 1488.64 612.13 1488.35 613.14 1488.32 614.14 1488.48 615.15 1488.23 616.16 1488.06 617.16 1488.26 618.17 1488.49 619.17 1488.12 620.18 1488.49 621.19 1488.35 622.19 1488.28 623.2 1488.41 624.21 1487.81 625.22 1487.85 626.22 1488.33 627.23 1488.3 628.24 1487.7 629.24 1488.16 630.25 1487.6 631.26 1487.66 632.27 1487.62 633.28 1487.73 634.28 1487.77 635.29 1488.12 636.3 1487.77 637.31 1487.53 638.32 1487.62 639.33 1487.42 640.34 1487.42 641.35 1487.7 642.36 1487.74 643.37 1487.55 644.38 1487.64 645.39 1487.44 646.4 1487.83 647.41 1487.64" fill="none" stroke="#2c5c46" stroke-width="1.9" stroke-linejoin="round" stroke-linecap="butt"/>
<path d="M531.08 1563.56 531.09 1562.79 531.09 1561.57 531.1 1560.62 531.11 1559.49 531.13 1558.94 531.14 1557.58 531.16 1557.04 531.19 1555.64 531.21 1554.46 531.24 1553.84 531.28 1552.85 531.31 1551.94 531.35 1550.41 531.39 1549.86 531.43 1548.91 531.47 1547.51 531.52 1546.61 531.56 1545.72 531.61 1544.45 531.67 1543.88 531.72 1542.76 531.78 1541.87 531.83 1540.58 531.89 1539.62 531.95 1538.39 532.01 1537.47 532.08 1536.76 532.14 1535.92 532.21 1534.35 532.27 1533.28 532.34 1532.29 532.41 1531.54 532.48 1530.79 532.56 1529.39 532.65 1528.56 532.75 1527.58 532.86 1526.79 532.98 1525.31 533.11 1524.2 533.25 1523.53 533.39 1522.42 533.55 1521.38 533.72 1520.72 533.9 1519.66 534.09 1518.26 534.28 1517.61 534.49 1516.81 534.7 1515.93 534.95 1514.32 535.23 1513.91 535.54 1512.38 535.88 1511.83 536.25 1510.79 536.65 1510.06 537.08 1508.87 537.52 1507.53 538 1507.04 538.49 1505.87 538.99 1505.44 539.52 1504.08 540.06 1503.54 540.63 1503.08 541.28 1502.02 541.98 1501.67 542.74 1501.04 543.54 1500.41 544.38 1499.88 545.26 1498.95 546.15 1498.18 547.07 1497.71 547.99 1497.29 548.91 1496.58 549.83 1496.6 550.73 1495.75 551.62 1495.4 552.52 1495.67 553.44 1495.25 554.36 1494.55 555.29 1494.3 556.24 1494.34 557.19 1493.91 558.15 1493.38 559.12 1493.24 560.09 1493.26 561.07 1492.41 562.06 1492.86 563.05 1492.32 564.05 1491.82 565.05 1492.03 566.05 1491.31 567.06 1491.33 568.07 1491.24 569.08 1490.81 570.09 1491.06 571.1 1490.74 572.11 1490.19 573.12 1490 574.13 1489.76 575.13 1489.95 576.13 1489.51 577.13 1489.6 578.13 1489.63 579.12 1489.51 580.11 1488.82 581.1 1488.82 582.09 1488.72 583.09 1488.55 584.08 1488.42 585.08 1488.31 586.08 1488.37 587.08 1487.91 588.08 1487.8 589.08 1487.69 590.08 1487.39 591.08 1487.6 592.08 1487.31 593.08 1487.55 594.09 1487.36 595.09 1486.83 596.09 1486.73 597.1 1487 598.1 1486.74 599.1 1486.26 600.11 1486.6 601.11 1486.35 602.12 1486.54 603.12 1486.43 604.12 1486.48 605.13 1486.25 606.13 1486.34 607.13 1485.84 608.14 1485.82 609.14 1485.56 610.15 1486.06 611.15 1485.51 612.15 1485.72 613.16 1485.64 614.16 1485.79 615.17 1485.43 616.17 1485.21 617.18 1485.32 618.18 1485.03 619.19 1485.15 620.19 1485.33 621.2 1484.88 622.2 1485.48 623.21 1485.11 624.22 1484.9 625.22 1485.23 626.23 1484.69 627.23 1484.78 628.24 1485.17 629.25 1484.64 630.26 1484.94 631.26 1484.45 632.27 1484.73 633.28 1484.78 634.29 1484.44 635.29 1484.49 636.3 1484.62 637.31 1484.62 638.32 1484.29 639.33 1484.45 640.34 1484.84 641.35 1484.35 642.36 1484.66 643.37 1484.24 644.37 1484.42 645.38 1484.45 646.39 1484.5 647.41 1484.58" fill="none" stroke="#5a9c78" stroke-width="2" stroke-linejoin="round" stroke-linecap="butt"/>
<path d="M531.08 1561.27 531.09 1560.19 531.09 1559.25 531.1 1558.29 531.11 1556.88 531.13 1556.22 531.15 1554.99 531.17 1553.79 531.2 1552.72 531.23 1552.12 531.26 1551.02 531.3 1549.61 531.33 1548.96 531.37 1547.57 531.42 1546.81 531.46 1545.92 531.51 1544.97 531.56 1543.61 531.61 1542.53 531.67 1541.89 531.72 1541.05 531.78 1540.03 531.84 1538.71 531.9 1537.86 531.96 1536.95 532.03 1536.05 532.09 1534.78 532.16 1534.04 532.23 1532.65 532.3 1531.57 532.37 1530.62 532.44 1529.92 532.52 1529.02 532.6 1527.73 532.7 1526.87 532.8 1525.47 532.92 1524.71 533.04 1523.65 533.17 1522.63 533.32 1521.45 533.47 1520.75 533.63 1519.78 533.81 1518.76 533.99 1517.84 534.18 1516.66 534.38 1515.96 534.6 1514.8 534.83 1514.05 535.09 1512.74 535.4 1511.96 535.73 1510.61 536.1 1509.54 536.5 1509.16 536.93 1507.8 537.38 1506.62 537.86 1506.1 538.35 1505.43 538.87 1504.47 539.4 1503.81 539.95 1503.02 540.52 1501.97 541.16 1501.12 541.85 1500.31 542.61 1499.79 543.4 1499.39 544.24 1498.95 545.11 1497.7 546.01 1497.69 546.92 1497.1 547.84 1496.52 548.76 1495.64 549.68 1495.13 550.59 1495.2 551.48 1494.76 552.38 1494.21 553.29 1493.84 554.21 1493.28 555.15 1493.62 556.09 1493.18 557.03 1492.97 557.99 1492.55 558.96 1492 559.93 1491.99 560.91 1491.26 561.89 1491.32 562.88 1490.75 563.87 1490.6 564.87 1490.69 565.87 1490.13 566.87 1490.23 567.88 1489.8 568.89 1489.36 569.9 1489.13 570.9 1488.74 571.91 1488.94 572.92 1488.93 573.93 1488.31 574.93 1488.3 575.93 1488.48 576.93 1487.89 577.93 1488.11 578.92 1487.86 579.91 1487.47 580.91 1487.41 581.9 1486.86 582.9 1487.02 583.9 1487.05 584.9 1486.53 585.9 1486.26 586.9 1486.11 587.9 1486.06 588.9 1485.99 589.91 1486.25 590.91 1485.89 591.92 1485.82 592.93 1485.54 593.93 1485.41 594.94 1485.48 595.95 1485.5 596.95 1485 597.96 1485.08 598.97 1485.12 599.98 1485.25 600.99 1484.67 601.99 1484.67 603 1484.7 604.01 1484.32 605.02 1484.57 606.02 1484.75 607.03 1484.18 608.03 1484.25 609.04 1483.92 610.05 1484.13 611.06 1484.37 612.06 1484 613.07 1483.69 614.08 1483.69 615.08 1483.84 616.09 1483.93 617.1 1483.58 618.11 1483.53 619.12 1483.69 620.12 1483.13 621.13 1483.66 622.14 1483.25 623.15 1483.1 624.16 1483.35 625.17 1482.92 626.18 1482.79 627.18 1482.81 628.19 1483.04 629.2 1482.59 630.21 1482.78 631.22 1482.58 632.23 1482.75 633.24 1482.41 634.25 1482.81 635.26 1482.87 636.28 1482.41 637.29 1482.4 638.3 1482.53 639.31 1482.59 640.32 1482.09 641.33 1482.49 642.34 1482.56 643.36 1482.52 644.37 1482.25 645.38 1482.5 646.39 1482.29 647.41 1482.02" fill="none" stroke="#a0523a" stroke-width="1.9" stroke-linejoin="round" stroke-linecap="butt"/>
<path d="M531.08 1558.18 531.09 1557.38 531.09 1556.34 531.1 1555.51 531.11 1554.44 531.13 1553.08 531.15 1552.2 531.17 1551.45 531.2 1550.22 531.23 1549.05 531.26 1548.54 531.29 1547.19 531.33 1546.09 531.37 1545.22 531.41 1544.07 531.46 1543.05 531.51 1542.31 531.55 1541.4 531.61 1540.13 531.66 1538.95 531.72 1538.17 531.77 1537.11 531.83 1536.14 531.89 1535 531.96 1534.36 532.02 1532.97 532.09 1531.85 532.15 1531.31 532.22 1530.34 532.29 1528.99 532.36 1527.94 532.43 1527.23 532.5 1526.46 532.59 1524.99 532.68 1524.18 532.78 1522.98 532.89 1522.3 533.01 1521.1 533.14 1520.03 533.28 1519.22 533.44 1518.13 533.6 1516.89 533.77 1516.05 533.95 1515.44 534.14 1514.36 534.34 1513.18 534.55 1512.33 534.77 1511.01 535.04 1510.23 535.35 1509.59 535.69 1508.11 536.07 1507.68 536.49 1506.62 536.93 1505.54 537.4 1504.39 537.9 1503.28 538.41 1502.55 538.95 1502.04 539.5 1501.04 540.06 1500.58 540.66 1499.49 541.33 1499.25 542.06 1498.63 542.85 1497.91 543.68 1496.94 544.54 1496.36 545.44 1495.69 546.36 1495.14 547.29 1495.11 548.23 1494.46 549.16 1494.2 550.09 1493.45 551 1493.11 551.9 1493.13 552.81 1492.85 553.73 1491.89 554.65 1492.03 555.59 1491.55 556.53 1490.85 557.49 1490.97 558.44 1490.43 559.41 1490.19 560.38 1490.34 561.35 1489.91 562.33 1489.16 563.32 1489.34 564.3 1488.62 565.29 1488.98 566.29 1488.54 567.28 1488.33 568.28 1487.68 569.28 1487.51 570.28 1487.6 571.28 1487.3 572.28 1487.4 573.28 1486.84 574.28 1486.73 575.28 1486.35 576.27 1486.44 577.26 1486.59 578.25 1485.94 579.24 1486.14 580.23 1485.55 581.22 1485.9 582.21 1485.48 583.2 1485.06 584.19 1485.38 585.19 1485.31 586.18 1484.65 587.18 1484.49 588.18 1484.45 589.18 1484.5 590.18 1484.68 591.18 1484.49 592.18 1484 593.18 1483.68 594.18 1483.95 595.19 1483.82 596.19 1483.48 597.19 1483.63 598.19 1483.79 599.2 1483.11 600.2 1483.13 601.2 1483.41 602.21 1482.84 603.21 1482.73 604.21 1482.68 605.21 1483.02 606.22 1482.5 607.22 1482.4 608.22 1482.7 609.22 1482.72 610.22 1482.64 611.23 1482.34 612.23 1482.6 613.23 1482 614.23 1482.13 615.24 1482.01 616.24 1482.06 617.24 1481.74 618.24 1481.64 619.25 1482.16 620.25 1481.62 621.25 1481.69 622.26 1481.92 623.26 1481.43 624.27 1481.41 625.27 1481.49 626.28 1481.08 627.28 1480.99 628.28 1481.37 629.29 1481.13 630.29 1480.87 631.3 1480.97 632.3 1481.2 633.31 1481.2 634.32 1480.98 635.32 1480.74 636.33 1481.13 637.33 1480.65 638.34 1481 639.35 1480.54 640.35 1481.06 641.36 1480.91 642.37 1480.7 643.37 1480.62 644.38 1480.7 645.39 1480.74 646.4 1480.65 647.41 1480.74" fill="none" stroke="#dc8f5a" stroke-width="1.9" stroke-linejoin="round" stroke-linecap="butt"/>
<path d="M531.08 1555.3 531.09 1554.52 531.09 1553.74 531.1 1552.5 531.11 1551.86 531.13 1550.54 531.15 1549.37 531.17 1548.76 531.2 1547.42 531.23 1546.49 531.26 1545.54 531.29 1544.68 531.33 1543.22 531.37 1542.67 531.41 1541.45 531.46 1540.3 531.51 1539.27 531.56 1538.71 531.61 1537.68 531.66 1536.39 531.72 1535.24 531.78 1534.67 531.84 1532.99 531.9 1532.01 531.96 1531.31 532.02 1530.37 532.09 1528.96 532.16 1528.08 532.23 1527 532.3 1526.11 532.37 1525.06 532.44 1524.02 532.52 1523.01 532.61 1522.17 532.7 1520.99 532.81 1520.42 532.93 1519.15 533.06 1517.93 533.2 1517.29 533.35 1516.38 533.52 1515.07 533.69 1513.82 533.87 1513.28 534.07 1512.37 534.27 1511.49 534.49 1510.4 534.72 1509.37 534.99 1508.23 535.31 1507.18 535.67 1506.08 536.07 1505.63 536.5 1504.48 536.97 1503.33 537.46 1502.29 537.98 1501.51 538.53 1500.98 539.09 1499.78 539.66 1498.9 540.25 1498.43 540.88 1497.72 541.58 1497.31 542.34 1496.56 543.14 1495.87 543.99 1495.61 544.87 1494.93 545.77 1493.87 546.7 1493.42 547.63 1493.04 548.57 1492.33 549.51 1492.37 550.43 1491.99 551.34 1491.3 552.25 1491.39 553.17 1490.81 554.1 1490.26 555.04 1490.23 555.99 1489.97 556.94 1489.71 557.91 1489.6 558.88 1489.29 559.85 1488.67 560.84 1488.43 561.83 1487.89 562.82 1487.93 563.81 1487.52 564.81 1487.26 565.82 1487.52 566.82 1486.75 567.83 1486.62 568.84 1486.79 569.85 1486.52 570.86 1486.23 571.87 1486.31 572.88 1485.73 573.89 1485.53 574.9 1485.57 575.9 1485.12 576.9 1485.36 577.9 1485.37 578.89 1485.12 579.89 1485.01 580.88 1484.29 581.88 1484.39 582.88 1484.57 583.88 1484.38 584.88 1484.06 585.88 1483.96 586.88 1483.55 587.88 1483.41 588.89 1483.13 589.89 1483.59 590.9 1483.03 591.9 1483.39 592.91 1482.58 593.91 1483.02 594.92 1482.71 595.93 1482.26 596.93 1482.59 597.94 1482.51 598.95 1482.41 599.96 1482.31 600.96 1482.2 601.97 1482.18 602.98 1481.82 603.99 1482.15 604.99 1481.74 606 1481.52 607.01 1481.96 608.01 1481.39 609.02 1481.43 610.03 1481.54 611.03 1481.54 612.04 1481.14 613.05 1480.88 614.06 1481.19 615.06 1481.13 616.07 1481.16 617.08 1480.77 618.09 1481.1 619.1 1481.01 620.11 1481.01 621.12 1480.87 622.12 1480.75 623.13 1480.61 624.14 1480.77 625.15 1480.27 626.16 1480.53 627.17 1480.56 628.18 1480.5 629.19 1480 630.2 1480.08 631.21 1480.47 632.22 1480.32 633.23 1479.84 634.25 1480.04 635.26 1480.23 636.27 1480.23 637.28 1479.96 638.29 1479.64 639.3 1479.69 640.32 1479.53 641.33 1479.61 642.34 1479.52 643.35 1479.95 644.37 1479.94 645.38 1479.75 646.39 1480.05 647.41 1479.53" fill="none" stroke="#8a4a34" stroke-width="1.5" stroke-linejoin="round" stroke-linecap="butt"/>
<line x1="263.7" y1="1477.3" x2="647.4" y2="1477.3" stroke="#453a38" stroke-width="1.2"/>
<path d="M348.96 1477.73 348.98 1479.06 349 1480 349.02 1480.68 349.04 1482.31 349.06 1483.09 349.08 1484.08 349.1 1484.89 349.12 1486.08 349.14 1486.66 349.16 1487.84 349.18 1489.11 349.19 1490.09 349.21 1491.03 349.23 1491.66 349.25 1492.88 349.27 1494.41 349.29 1495.38 349.31 1496.28 349.33 1496.68 349.34 1497.69 349.36 1498.81 349.38 1500.3 349.4 1500.81 349.42 1501.83 349.44 1502.86 349.46 1504.24 349.47 1505.08 349.49 1506.35 349.51 1506.72 349.53 1507.71 349.55 1509.35 349.57 1509.76 349.58 1511.25 349.6 1512.16 349.62 1512.85 349.64 1513.89 349.66 1515.28 349.67 1515.71 349.69 1517.46 349.71 1517.73 349.73 1518.83 349.74 1520.21 349.76 1520.8 349.78 1522.51 349.8 1523.06 349.81 1523.77 349.83 1524.85 349.85 1526.16 349.87 1527.42 349.88 1527.93 349.9 1529.05 349.92 1530.19 349.93 1531.26 349.95 1532.32 349.97 1533 349.98 1534.04 350 1535.45 350.02 1536.48 350.03 1537.09 350.05 1538.56 350.07 1538.9 350.08 1540.42 350.1 1541.5 350.12 1542.22 350.13 1543.33 350.15 1543.83 350.17 1545.45 350.18 1546.33 350.2 1547.25 350.21 1548.26 350.23 1548.92 350.25 1550.47 350.26 1551.22 350.28 1552.29 350.29 1552.94 350.31 1554.31 350.32 1555 350.34 1556.43 350.35 1556.84 350.37 1557.92 350.38 1558.99 350.4 1560.15 350.41 1561.53 350.43 1561.84 350.44 1563.28 350.46 1563.89 350.47 1565.21 350.49 1566.2 350.5 1567.17 350.52 1568.52 350.53 1569.53 350.54 1570.59 350.55 1572.02 350.57 1572.88 350.58 1574.64 350.59 1575.25 350.6 1577.04 350.62 1577.59 350.63 1579.45 350.64 1579.98 350.65 1581.18 350.66 1582.51 350.67 1584.27 350.68 1585.16 350.69 1586.48 350.7 1588.09 350.71 1588.88 350.72 1590.59 350.73 1591.79 350.74 1592.92 350.75 1594.84 350.76 1595.73 350.77 1597 350.78 1598.66 350.79 1600.12 350.8 1600.96 350.81 1602.21 350.82 1604.22 350.83 1605.13 350.84 1606.55 350.85 1607.82 350.86 1609.45 350.87 1610.46 350.88 1612.05 350.89 1613.19 350.9 1614.15 350.91 1615.81 350.92 1617.39 350.93 1618.44 350.94 1619.62 350.94 1620.61 350.95 1622.43 350.96 1623.45 350.97 1624.66 350.98 1625.95 350.99 1627.22 351 1628.39 351.01 1629.57 351.02 1630.91 351.03 1631.77 351.05 1633.09 351.06 1634.42 351.07 1635.93 351.08 1636.69 351.09 1637.91 351.1 1639.28 351.11 1640.29 351.12 1641.28 351.14 1642.26 351.15 1643.26 351.16 1643.95 351.17 1644.89 351.19 1645.79 351.2 1646.76 351.21 1648.1 351.23 1648.99 351.24 1649.41 351.25 1650.9 351.27 1651.41 351.28 1652.29 351.3 1652.7 351.31 1654.07 351.33 1654.17 351.34 1654.97 351.36 1655.84 351.38 1656.5 351.39 1657.14 351.41 1658.03 351.43 1657.86 351.44 1658.89 351.46 1659.17 351.48 1659.93 351.5 1660.23 351.52 1660.73 351.54 1661.11 351.56 1661.36 351.58 1661.12 351.6 1661.68 351.62 1662.08 351.64 1662.24 351.66 1662.49 351.69 1662.18 351.71 1661.9 351.73 1662.48 351.76 1662.04 351.79 1662.15 351.82 1661.37 351.86 1661.22 351.9 1660.95 351.94 1659.97 351.99 1659.46 352.04 1658.58 352.09 1658.37 352.14 1657.39 352.2 1656.33 352.25 1655.23 352.31 1654.54 352.37 1652.85 352.44 1652.05 352.5 1650.36 352.56 1649.56 352.63 1647.96 352.7 1646.53 352.77 1645.94 352.83 1644.12 352.9 1643.36 352.97 1641.78 353.04 1640.44 353.11 1639.11 353.18 1638.04 353.25 1636.12 353.32 1635.45 353.39 1633.65 353.45 1632.23 353.52 1631.7 353.58 1629.88 353.65 1629.06 353.71 1628.28 353.77 1626.82 353.83 1626.17 353.89 1625.11 353.95 1624.15 354.01 1622.71 354.07 1622.15 354.13 1621.26 354.19 1619.7 354.24 1619.36 354.3 1618.35 354.36 1616.84 354.42 1616.35 354.48 1615.33 354.53 1613.67 354.59 1613.17 354.65 1612.34 354.71 1611.23 354.76 1609.67 354.82 1608.89 354.88 1608.02 354.94 1606.86 355 1605.87 355.06 1604.64 355.12 1603.56 355.18 1602.8 355.24 1601.89 355.3 1601.02 355.36 1600.32 355.43 1598.62 355.49 1597.83 355.55 1597.24 355.62 1596.21 355.69 1594.63 355.75 1594.08 355.82 1592.61 355.89 1592.3 355.96 1590.75 356.03 1590.03 356.1 1588.92 356.18 1587.95 356.25 1586.71 356.33 1585.83 356.4 1584.77 356.48 1584.03 356.56 1582.88 356.64 1582.02 356.73 1580.97 356.81 1580.08 356.9 1579.33 356.98 1577.97 357.07 1576.98 357.16 1576.04 357.25 1574.99 357.34 1573.88 357.44 1572.74 357.53 1571.98 357.63 1570.74 357.73 1570.07 357.83 1569.26 357.93 1568.19 358.04 1567.18 358.14 1565.72 358.25 1564.58 358.36 1563.71 358.47 1563.01 358.59 1561.65 358.7 1560.63 358.82 1560.36 358.94 1558.84 359.06 1557.61 359.18 1556.98 359.31 1556.13 359.43 1554.94 359.56 1553.69 359.7 1553 359.83 1551.65 359.97 1551.18 360.1 1550.36 360.25 1548.65 360.39 1548.08 360.53 1547.3 360.68 1546.16 360.83 1544.78 360.99 1543.72 361.14 1543.04 361.3 1541.72 361.46 1541.34 361.62 1540.07 361.78 1538.9 361.95 1538.25 362.13 1536.78 362.31 1536 362.49 1534.98 362.68 1533.64 362.87 1533.18 363.08 1532.09 363.29 1530.69 363.5 1529.87 363.72 1528.78 363.96 1528.3 364.2 1527.11 364.45 1526.36 364.71 1525.26 364.98 1524.34 365.26 1523.02 365.55 1522.54 365.85 1521.22 366.16 1520.73 366.49 1519.77 366.85 1518.75 367.25 1517.63 367.71 1517.14 368.2 1516.33 368.74 1515.56 369.31 1514.25 369.91 1513.6 370.55 1513.05 371.21 1512.5 371.89 1511.22 372.59 1510.98 373.31 1510.28 374.04 1508.82 374.78 1508.58 375.52 1507.58 376.27 1506.64 377.02 1505.99 377.77 1505.38 378.5 1504.4 379.23 1504.24 379.95 1503.35 380.66 1502.57 381.38 1502.29 382.1 1501.68 382.84 1500.58 383.58 1499.77 384.33 1499.31 385.09 1498.47 385.86 1498.19 386.64 1497.04 387.42 1496.26 388.21 1495.53 389.01 1495.02 389.81 1494.35 390.62 1494.4 391.44 1493.64 392.27 1493 393.1 1492.75 393.94 1491.97 394.79 1491.55 395.64 1490.65 396.51 1490.3 397.4 1490.12 398.29 1489.87 399.2 1489 400.12 1488.73 401.05 1488.2 401.99 1487.82 402.93 1487.67 403.88 1487.58 404.83 1487.28 405.79 1486.61 406.75 1485.84 407.71 1485.73 408.67 1485.72 409.63 1485.64 410.59 1484.73 411.54 1484.99 412.5 1484.76 413.47 1483.85 414.44 1484.23 415.41 1483.72 416.38 1483.66 417.36 1483.28 418.34 1483.04 419.32 1482.97 420.31 1482.66 421.29 1482.17 422.28 1481.95 423.26 1482.24 424.25 1481.51 425.24 1481.45 426.23 1481.13 427.21 1481.16 428.2 1481.24 429.2 1480.81 430.19 1480.88 431.18 1480.92 432.18 1480.63 433.18 1480.83 434.17 1480.54 435.17 1480.29 436.17 1480.52 437.17 1480.29 438.17 1480.13 439.17 1479.81 440.18 1480.39 441.18 1479.66 442.18 1479.75 443.18 1479.84 444.19 1480.04 445.19 1479.47 446.19 1479.25 447.2 1479.65 448.2 1479.78 449.21 1479.31 450.21 1479.68 451.21 1479.07 452.21 1479.45 453.22 1478.68 454.22 1479.15 455.22 1479.25 456.22 1478.7 457.22 1479.09 458.22 1478.82 459.22 1478.53 460.22 1478.25 461.22 1478.68 462.23 1478.39 463.23 1478.46 464.23 1478.12 465.23 1477.92 466.23 1477.92 467.23 1478.29 468.23 1477.82 469.24 1477.9 470.24 1478.08 471.24 1477.77 472.24 1477.87 473.24 1477.77 474.25 1478.01 475.25 1477.65 476.25 1477.5 477.25 1478.01 478.25 1477.31 479.26 1477.63 480.26 1477.57 481.26 1477.3 482.26 1477.56 483.26 1477.52 484.27 1477.25 485.27 1477.08 486.27 1476.86 487.27 1477.42 488.27 1477.46 489.28 1476.85 490.28 1476.84 491.28 1477.05 492.28 1477.11 493.29 1477.12 494.29 1477.01 495.29 1476.9 496.29 1476.81 497.29 1476.27 498.3 1476.61 499.3 1476.74 500.3 1476.37 501.3 1476.29 502.31 1476.38 503.31 1476.44 504.31 1475.97 505.31 1476.52 506.32 1476.45 507.32 1476.02 508.32 1476 509.32 1475.9 510.33 1476.05 511.33 1476.45 512.33 1475.96 513.33 1476.35 514.34 1475.71 515.34 1475.72 516.34 1475.9 517.34 1475.58 518.35 1475.51 519.35 1475.92 520.35 1475.62 521.35 1475.87 522.36 1475.46 523.36 1475.49 524.36 1475.93 525.37 1475.65 526.37 1475.25 527.37 1475.46 528.37 1475.17" fill="none" stroke="#a0523a" stroke-width="2" stroke-linejoin="round" stroke-linecap="butt"/>
<path d="M348.78 1477.63 348.8 1479.03 348.82 1479.67 348.84 1480.75 348.86 1481.64 348.88 1482.67 348.9 1483.94 348.92 1484.72 348.94 1485.84 348.96 1486.94 348.98 1487.75 349 1488.7 349.02 1489.71 349.04 1491.35 349.06 1491.88 349.08 1492.96 349.1 1494.2 349.12 1495.23 349.14 1496.16 349.16 1497.32 349.17 1498.03 349.19 1498.74 349.21 1500.1 349.23 1500.98 349.25 1502.28 349.27 1502.81 349.29 1504.16 349.31 1504.63 349.33 1505.93 349.34 1506.9 349.36 1507.7 349.38 1509.28 349.4 1510.29 349.42 1510.83 349.44 1512.2 349.46 1513.36 349.47 1514.1 349.49 1514.93 349.51 1516.19 349.53 1516.96 349.55 1518.1 349.56 1519.18 349.58 1519.88 349.6 1521.18 349.62 1522.06 349.63 1523.13 349.65 1523.89 349.67 1525.25 349.69 1525.78 349.7 1527.05 349.72 1528.09 349.74 1528.67 349.75 1530.3 349.77 1531.11 349.79 1531.73 349.8 1533.35 349.82 1534.24 349.84 1535.41 349.85 1536.22 349.87 1537.08 349.89 1538.31 349.9 1538.97 349.92 1540.03 349.93 1540.97 349.95 1541.95 349.96 1543.45 349.98 1544.1 350 1545.1 350.01 1546 350.03 1546.96 350.04 1547.88 350.06 1549.46 350.07 1550.29 350.09 1551.09 350.1 1552.19 350.12 1553.38 350.13 1554.01 350.15 1554.94 350.16 1556.1 350.17 1557.08 350.19 1558.38 350.2 1559.44 350.22 1560.41 350.23 1561.28 350.24 1562.15 350.26 1562.87 350.27 1564.49 350.28 1565.47 350.3 1566.26 350.31 1567.52 350.32 1568.73 350.34 1569.36 350.35 1570.71 350.36 1572.16 350.37 1572.72 350.38 1573.84 350.39 1575.66 350.4 1576.8 350.41 1577.35 350.42 1579 350.43 1580.28 350.44 1581.59 350.45 1582.76 350.46 1583.98 350.47 1585.29 350.48 1586.59 350.49 1587.45 350.5 1588.82 350.51 1590.21 350.52 1592.03 350.53 1592.98 350.54 1594.42 350.55 1596.02 350.55 1596.66 350.56 1598.06 350.57 1599.47 350.58 1601.31 350.59 1602.48 350.6 1603.35 350.6 1604.64 350.61 1606.05 350.62 1607.98 350.63 1608.92 350.64 1610.61 350.64 1611.91 350.65 1613.33 350.66 1614.31 350.67 1615.41 350.68 1616.91 350.68 1618.51 350.69 1619.85 350.7 1620.69 350.71 1622.04 350.72 1623.56 350.73 1624.5 350.73 1625.63 350.74 1626.9 350.75 1628.29 350.76 1629.31 350.77 1630.94 350.78 1632.05 350.78 1633.44 350.79 1634.46 350.8 1635.37 350.81 1636.29 350.82 1637.45 350.83 1639.07 350.84 1639.96 350.85 1640.6 350.86 1641.96 350.87 1643.2 350.88 1644.24 350.89 1645.26 350.9 1646.29 350.91 1646.89 350.92 1647.96 350.93 1648.39 350.95 1649.74 350.96 1650.48 350.97 1651.07 350.98 1651.9 350.99 1653.05 351.01 1653.41 351.02 1654.23 351.03 1654.96 351.05 1655.94 351.06 1656.12 351.07 1656.65 351.09 1657.31 351.1 1658.29 351.12 1658.28 351.13 1659.17 351.15 1659.58 351.16 1659.9 351.18 1660.27 351.2 1660.78 351.21 1660.72 351.23 1661.21 351.25 1661.54 351.26 1661.53 351.28 1662.01 351.3 1661.97 351.32 1661.88 351.34 1661.99 351.36 1662.17 351.38 1662.38 351.41 1662.32 351.43 1661.8 351.46 1661.07 351.5 1661.05 351.53 1660.74 351.57 1659.41 351.61 1658.93 351.65 1657.87 351.69 1657.45 351.73 1656.14 351.78 1655.82 351.83 1654.34 351.88 1653.42 351.93 1652.04 351.98 1650.86 352.03 1649.38 352.09 1648.81 352.14 1647.06 352.2 1645.74 352.25 1644.52 352.31 1643.05 352.37 1641.82 352.42 1640.46 352.48 1639.68 352.54 1638.28 352.59 1636.5 352.65 1635.65 352.7 1633.74 352.76 1632.93 352.81 1631.96 352.87 1630.27 352.92 1629.1 352.97 1628.52 353.02 1627.38 353.07 1626.64 353.12 1624.99 353.17 1623.98 353.21 1622.9 353.26 1622.12 353.31 1620.89 353.36 1620.35 353.41 1618.92 353.45 1618.22 353.5 1617.26 353.55 1615.92 353.59 1615.4 353.64 1614.64 353.69 1613.16 353.74 1612.26 353.78 1611.14 353.83 1610.63 353.88 1609.52 353.92 1608.62 353.97 1607.15 354.02 1606.09 354.07 1604.85 354.12 1603.9 354.17 1603.6 354.22 1602.3 354.27 1601.19 354.32 1599.96 354.37 1599.58 354.42 1597.86 354.47 1597.35 354.53 1596.31 354.58 1595.42 354.63 1594.42 354.69 1593.37 354.74 1592.27 354.8 1591.18 354.86 1590.47 354.91 1588.93 354.97 1588.05 355.03 1587.45 355.09 1586.54 355.16 1585.36 355.22 1583.87 355.28 1583.49 355.35 1582.61 355.41 1581.2 355.48 1580.14 355.55 1579.11 355.62 1578.32 355.69 1576.97 355.76 1575.94 355.83 1575.63 355.9 1574.23 355.97 1573.25 356.05 1572.07 356.12 1570.87 356.2 1569.89 356.28 1568.88 356.36 1568.4 356.44 1567.46 356.52 1566.59 356.6 1565.62 356.68 1563.96 356.77 1562.85 356.85 1562.38 356.94 1561.07 357.03 1560.58 357.12 1559.23 357.21 1558.19 357.31 1557.18 357.4 1556.09 357.5 1555.3 357.6 1554 357.69 1553.63 357.8 1552.5 357.9 1551.54 358 1550.62 358.11 1549.41 358.22 1548.59 358.33 1547.46 358.44 1546.26 358.55 1544.9 358.66 1544.3 358.78 1543.33 358.9 1542.49 359.02 1541.61 359.14 1540.42 359.27 1539 359.4 1538.01 359.53 1537.64 359.67 1536.65 359.81 1535.27 359.95 1534.01 360.1 1533.05 360.25 1532.06 360.41 1531.71 360.57 1530.31 360.74 1529.36 360.91 1528.66 361.08 1527.2 361.26 1526.45 361.44 1525.49 361.63 1524.38 361.82 1523.15 362.02 1522.41 362.22 1521.18 362.42 1520.37 362.63 1519.45 362.84 1518.31 363.06 1517.98 363.29 1516.77 363.52 1515.99 363.75 1515.03 363.99 1513.54 364.24 1512.44 364.49 1512.12 364.76 1510.74 365.04 1509.87 365.32 1509.03 365.62 1507.61 365.93 1506.82 366.26 1505.61 366.6 1504.58 366.95 1503.49 367.32 1502.72 367.71 1501.82 368.11 1501.33 368.53 1500.29 368.97 1499.68 369.43 1498.49 369.95 1497.66 370.53 1497.18 371.15 1496.18 371.83 1495.83 372.54 1494.8 373.29 1494.01 374.07 1493.69 374.87 1492.56 375.69 1492.33 376.53 1491.43 377.37 1490.57 378.2 1490.41 379.04 1489.83 379.86 1488.88 380.68 1488.65 381.52 1488.14 382.37 1487.86 383.24 1486.97 384.13 1486.8 385.03 1486.7 385.94 1485.48 386.85 1485.62 387.78 1484.91 388.71 1484.61 389.65 1484.05 390.59 1483.81 391.53 1483.45 392.47 1483.42 393.41 1483.01 394.35 1482.69 395.28 1482.35 396.21 1481.53 397.14 1481.47 398.08 1481.2 399.02 1480.22 399.96 1480.35 400.91 1479.88 401.85 1479.23 402.8 1479.24 403.76 1478.95 404.71 1478.61 405.67 1477.79 406.63 1478.23 407.59 1477.5 408.56 1477.6 409.52 1476.85 410.49 1476.99 411.46 1476.35 412.44 1476.56 413.42 1476.44 414.4 1476.05 415.38 1476.14 416.37 1475.78 417.36 1475.28 418.35 1475.11 419.34 1474.96 420.33 1475.04 421.33 1475.37 422.33 1474.75 423.32 1475.01 424.32 1474.74 425.32 1474.66 426.32 1474.5 427.32 1474.02 428.31 1474.44 429.31 1473.96 430.31 1474.26 431.3 1473.42 432.3 1473.4 433.29 1473.31 434.29 1473.68 435.28 1473.08 436.28 1473.24 437.28 1473.21 438.28 1473.12 439.27 1472.85 440.27 1473.23 441.27 1472.8 442.27 1472.49 443.27 1472.71 444.27 1472.28 445.27 1472.64 446.27 1472.17 447.27 1472.66 448.27 1471.94 449.27 1472.05 450.27 1471.91 451.27 1472.13 452.27 1471.93 453.27 1471.91 454.27 1471.84 455.27 1471.92 456.27 1471.58 457.27 1471.57 458.27 1471.47 459.27 1471.32 460.27 1471.65 461.27 1471.85 462.27 1471.78 463.27 1471.77 464.27 1471.04 465.27 1471.47 466.27 1470.91 467.27 1471.46 468.27 1471.43 469.28 1471.1 470.28 1471.46 471.28 1470.99 472.28 1471.01 473.28 1470.81 474.28 1471.15 475.28 1470.91 476.28 1470.82 477.29 1470.72 478.29 1470.94 479.29 1470.36 480.29 1470.77 481.29 1470.29 482.29 1470.37 483.3 1470.19 484.3 1470.54 485.3 1470.85 486.3 1470.23 487.3 1470.12 488.3 1470.42 489.3 1469.99 490.31 1470.23 491.31 1470.27 492.31 1469.95 493.31 1470.57 494.31 1470.15 495.31 1470.28 496.32 1469.88 497.32 1470.54 498.32 1469.88 499.32 1470.08 500.32 1469.76 501.32 1469.79 502.32 1469.75 503.33 1469.92 504.33 1469.66 505.33 1469.94 506.33 1470 507.33 1469.68 508.34 1470.12 509.34 1469.54 510.34 1469.92 511.34 1470.09 512.34 1469.91 513.34 1469.41 514.35 1469.44 515.35 1469.4 516.35 1469.45 517.35 1469.75 518.35 1470.08 519.36 1469.6 520.36 1469.92 521.36 1469.49 522.36 1470.04 523.36 1469.55 524.37 1469.39 525.37 1469.38 526.37 1469.3 527.37 1469.27 528.37 1469.93" fill="none" stroke="#dc8f5a" stroke-width="2" stroke-linejoin="round" stroke-linecap="butt"/>
<path d="M348.78 1478.15 348.8 1478.69 348.82 1480.06 348.84 1480.95 348.86 1481.64 348.89 1483.38 348.91 1483.78 348.93 1485.06 348.95 1485.89 348.97 1487 348.99 1488.4 349.01 1489.22 349.03 1489.81 349.06 1491.18 349.08 1492 349.1 1492.82 349.12 1494.08 349.14 1494.82 349.16 1496.29 349.18 1496.88 349.2 1497.72 349.22 1499.34 349.24 1499.79 349.26 1501.22 349.28 1502.36 349.3 1503.25 349.32 1504.43 349.34 1504.89 349.36 1505.97 349.38 1507.19 349.4 1507.78 349.42 1509.48 349.44 1510.22 349.46 1511.24 349.48 1512.16 349.5 1513.1 349.52 1513.86 349.54 1514.79 349.56 1515.92 349.58 1516.74 349.6 1518.22 349.62 1518.87 349.63 1520.46 349.65 1520.82 349.67 1521.99 349.69 1523.43 349.71 1524.24 349.73 1525.08 349.75 1526.33 349.77 1527.07 349.78 1527.88 349.8 1529.54 349.82 1530.46 349.84 1531.36 349.86 1532 349.87 1533.18 349.89 1533.85 349.91 1534.81 349.93 1536.54 349.95 1537.12 349.96 1537.97 349.98 1539.43 350 1540.22 350.02 1541.33 350.03 1541.89 350.05 1543.17 350.07 1544.14 350.08 1545.07 350.1 1546.01 350.12 1547.63 350.13 1548.62 350.15 1549.59 350.16 1550.49 350.18 1551.94 350.19 1552.93 350.2 1553.8 350.22 1555.51 350.23 1556.77 350.24 1558.25 350.25 1559.4 350.27 1560.07 350.28 1561.54 350.29 1562.61 350.3 1563.93 350.31 1565.56 350.32 1566.67 350.33 1567.88 350.34 1569.66 350.35 1571.23 350.37 1572.49 350.38 1573.21 350.39 1574.74 350.4 1575.87 350.41 1577.52 350.42 1579.26 350.43 1580 350.44 1581.75 350.45 1582.88 350.46 1584.21 350.47 1585.77 350.48 1586.64 350.49 1587.94 350.5 1589.54 350.51 1590.32 350.52 1591.54 350.53 1593.01 350.54 1594.22 350.56 1595.34 350.57 1596.48 350.58 1598.14 350.59 1598.9 350.61 1599.94 350.62 1601.42 350.63 1602.53 350.65 1603.46 350.66 1604.69 350.67 1605.01 350.69 1606.24 350.71 1607.46 350.72 1608.5 350.74 1608.75 350.75 1610.02 350.77 1610.4 350.79 1611.32 350.81 1612.34 350.83 1613.05 350.85 1613.14 350.87 1613.92 350.89 1615.06 350.91 1615.28 350.93 1615.79 350.95 1615.98 350.98 1616.54 351 1616.75 351.02 1616.96 351.05 1617.34 351.08 1617.77 351.1 1617.91 351.13 1618.02 351.16 1617.93 351.19 1617.99 351.23 1618.15 351.28 1617.8 351.34 1617.22 351.4 1615.98 351.48 1615.44 351.56 1614.57 351.65 1613.14 351.74 1612.1 351.83 1611.16 351.92 1609.76 352.02 1608.46 352.12 1606.61 352.21 1605.26 352.31 1604.46 352.4 1603.09 352.49 1601.56 352.57 1600.28 352.65 1599.41 352.72 1598.72 352.8 1597.51 352.87 1596.74 352.94 1595.34 353.01 1594.74 353.07 1593.3 353.14 1592.93 353.21 1591.42 353.27 1590.21 353.34 1589.85 353.4 1588.46 353.46 1587.53 353.53 1586.32 353.59 1585.36 353.65 1584.52 353.71 1583.43 353.78 1582.6 353.84 1581.4 353.9 1580.54 353.96 1579.21 354.03 1578.59 354.09 1577.66 354.15 1576.9 354.22 1575.75 354.28 1574.24 354.35 1573.47 354.41 1572.78 354.48 1571.74 354.55 1570.21 354.61 1569.19 354.68 1568.56 354.75 1567.52 354.83 1566.27 354.9 1565.37 354.98 1564.44 355.05 1563.79 355.13 1562.37 355.21 1561.81 355.29 1560.83 355.37 1559.36 355.46 1558.84 355.55 1557.23 355.63 1556.47 355.72 1555.24 355.81 1554.42 355.91 1553.39 356 1552.77 356.09 1551.83 356.19 1550.43 356.29 1549.43 356.39 1548.94 356.49 1547.29 356.59 1546.54 356.7 1545.64 356.8 1544.69 356.91 1543.29 357.02 1542.42 357.13 1541.29 357.24 1540.78 357.36 1539.76 357.47 1538.83 357.59 1537.52 357.71 1536.2 357.83 1535.9 357.95 1534.27 358.08 1533.37 358.2 1532.22 358.33 1531.52 358.46 1530.76 358.59 1529.95 358.73 1528.66 358.86 1527.29 359 1526.94 359.14 1525.32 359.28 1524.41 359.43 1523.43 359.57 1522.97 359.73 1521.59 359.88 1520.95 360.04 1519.72 360.21 1518.67 360.37 1517.92 360.54 1516.47 360.72 1515.53 360.9 1515.05 361.08 1513.82 361.27 1512.65 361.47 1511.86 361.66 1510.97 361.87 1509.96 362.07 1508.82 362.29 1507.93 362.5 1506.65 362.73 1505.87 362.96 1505.22 363.2 1504.27 363.44 1502.58 363.7 1501.79 363.97 1500.82 364.24 1499.9 364.53 1498.91 364.82 1497.93 365.13 1497.12 365.44 1495.98 365.76 1495.41 366.1 1493.9 366.44 1493.71 366.79 1492.16 367.15 1491.8 367.53 1490.7 367.91 1489.95 368.32 1488.66 368.75 1487.65 369.19 1486.95 369.66 1485.71 370.14 1484.99 370.64 1484.2 371.16 1483 371.7 1482.7 372.26 1481.61 372.83 1480.89 373.44 1480.23 374.09 1479.62 374.77 1478.22 375.5 1477.49 376.25 1476.69 377.03 1476.66 377.83 1475.59 378.64 1475.26 379.47 1474.35 380.3 1474.59 381.16 1473.62 382.04 1473.74 382.94 1472.93 383.87 1473.31 384.81 1472.66 385.78 1472.6 386.75 1472.33 387.74 1471.78 388.75 1471.77 389.76 1471.2 390.78 1471.63 391.8 1471.18 392.83 1470.86 393.86 1470.79 394.89 1470.64 395.92 1470.29 396.95 1470.32 397.97 1470.43 398.98 1470.21 399.98 1470.43 400.97 1470.12 401.96 1470.08 402.96 1469.43 403.95 1469.62 404.95 1469.3 405.95 1469.2 406.95 1469.18 407.95 1469.29 408.95 1469.08 409.95 1468.99 410.96 1468.88 411.96 1469.3 412.96 1468.78 413.97 1469.11 414.97 1469.1 415.97 1468.74 416.98 1468.96 417.98 1468.92 418.98 1468.72 419.99 1468.58 420.99 1468.13 421.99 1468.05 422.99 1467.89 423.99 1467.97 425 1468.17 426 1468.05 427 1468.25 428 1467.84 429.01 1468.05 430.01 1467.8 431.01 1467.64 432.02 1468.04 433.02 1467.61 434.02 1467.75 435.03 1467.49 436.03 1467.77 437.03 1467.35 438.04 1467.22 439.04 1467.63 440.04 1467.49 441.05 1467.58 442.05 1467.08 443.05 1467.61 444.06 1466.99 445.06 1467.68 446.06 1467.64 447.07 1467.5 448.07 1467.08 449.07 1467.32 450.08 1467.57 451.08 1467.32 452.09 1467.25 453.09 1466.72 454.09 1466.71 455.1 1467.16 456.1 1467.01 457.1 1467.01 458.11 1466.75 459.11 1466.82 460.11 1467.27 461.12 1466.83 462.12 1467.3 463.12 1466.64 464.13 1466.92 465.13 1466.98 466.14 1467.01 467.14 1467.09 468.14 1467.03 469.15 1467.07 470.15 1466.45 471.15 1466.45 472.16 1466.48 473.16 1466.52 474.17 1466.92 475.17 1466.76 476.17 1466.88 477.18 1466.79 478.18 1466.74 479.19 1466.43 480.19 1466.96 481.19 1466.88 482.2 1466.85 483.2 1466.98 484.2 1466.54 485.21 1466.55 486.21 1466.58 487.22 1466.47 488.22 1466.59 489.22 1466.67 490.23 1466.63 491.23 1466.29 492.24 1466.72 493.24 1466.19 494.24 1466.29 495.25 1466.43 496.25 1466.76 497.25 1466.29 498.26 1466.74 499.26 1466.53 500.27 1466.62 501.27 1466.29 502.27 1466.82 503.28 1466.55 504.28 1466.09 505.29 1466.66 506.29 1466.38 507.29 1466.66 508.3 1466.55 509.3 1466.75 510.3 1466.7 511.31 1466.49 512.31 1466.56 513.32 1465.99 514.32 1466.57 515.32 1466.52 516.33 1466.67 517.33 1466.52 518.34 1466.4 519.34 1466.52 520.34 1466.37 521.35 1466.27 522.35 1466.66 523.35 1466.27 524.36 1465.94 525.36 1465.89 526.37 1466.15 527.37 1466.21 528.37 1466.28" fill="none" stroke="#8a4a34" stroke-width="1.7" stroke-linejoin="round" stroke-linecap="butt"/>
<path d="M348.78 1477.63 348.8 1479.02 348.82 1480.34 348.85 1481.18 348.87 1482.15 348.89 1483 348.91 1484.3 348.94 1484.66 348.96 1486.21 348.98 1487.17 349 1487.9 349.03 1488.99 349.05 1489.72 349.07 1490.61 349.09 1491.88 349.12 1492.88 349.14 1494.03 349.16 1494.89 349.18 1496.33 349.21 1496.74 349.23 1498.28 349.25 1499.06 349.28 1499.81 349.3 1501.33 349.32 1502.08 349.35 1502.71 349.37 1504.33 349.39 1504.86 349.42 1506.1 349.44 1507.19 349.46 1508.24 349.49 1509.23 349.51 1510.32 349.53 1511.27 349.56 1511.81 349.58 1513.11 349.6 1514.06 349.63 1514.77 349.65 1516.02 349.67 1517.29 349.7 1518.03 349.72 1518.99 349.75 1520.06 349.77 1521.13 349.79 1522.3 349.82 1523.37 349.84 1523.92 349.87 1524.9 349.89 1525.95 349.91 1527.42 349.94 1528.51 349.96 1529.16 349.98 1530.69 350 1531.62 350.02 1533.13 350.04 1534.04 350.06 1535.54 350.08 1536.51 350.1 1537.62 350.12 1539.31 350.14 1540.21 350.16 1541.88 350.18 1543 350.2 1544.16 350.22 1545.62 350.24 1547.3 350.26 1548.15 350.28 1549.31 350.3 1551.3 350.32 1551.99 350.34 1553.39 350.36 1554.89 350.38 1556.42 350.4 1557.85 350.42 1558.47 350.44 1559.74 350.46 1561.56 350.48 1562.4 350.5 1563.8 350.53 1564.53 350.55 1565.57 350.58 1567.1 350.6 1567.59 350.63 1568.63 350.65 1569.66 350.68 1570.53 350.71 1571.26 350.74 1572.16 350.77 1572.83 350.8 1573.83 350.83 1574.61 350.86 1575.06 350.9 1575.25 350.93 1576.14 350.97 1576.65 351 1576.57 351.04 1577.09 351.08 1577.69 351.12 1577.71 351.16 1577.47 351.21 1577.26 351.26 1576.94 351.32 1576.41 351.39 1575.96 351.47 1575.41 351.55 1574.52 351.64 1573.26 351.73 1572.38 351.83 1571.19 351.93 1570.23 352.03 1569.03 352.14 1567.74 352.24 1566.03 352.35 1565 352.46 1563.52 352.56 1561.85 352.66 1560.63 352.76 1559.93 352.86 1558.97 352.95 1557.95 353.05 1556.81 353.15 1555.9 353.24 1554.96 353.34 1553.99 353.44 1552.55 353.53 1551.82 353.63 1550.7 353.73 1549.82 353.83 1548.75 353.93 1547.5 354.03 1547.08 354.13 1545.86 354.24 1545.15 354.34 1543.49 354.44 1542.53 354.55 1541.56 354.66 1541.16 354.77 1539.87 354.88 1539.07 354.99 1537.53 355.1 1537.07 355.22 1535.54 355.33 1535.21 355.45 1533.9 355.57 1533.26 355.69 1532 355.81 1530.98 355.93 1529.63 356.05 1529.01 356.17 1528.11 356.3 1527 356.42 1526.07 356.55 1525.23 356.68 1524.08 356.82 1523.04 356.95 1521.95 357.09 1520.9 357.24 1520.12 357.38 1519.22 357.53 1518.15 357.69 1516.65 357.85 1515.79 358.01 1515.09 358.18 1514.07 358.36 1513.36 358.54 1512.43 358.73 1511.38 358.93 1510.17 359.14 1509.28 359.36 1508.4 359.59 1506.86 359.82 1506.01 360.06 1504.81 360.31 1504.31 360.56 1503.57 360.82 1501.87 361.09 1501 361.36 1500.09 361.63 1499.59 361.91 1498.3 362.2 1497.21 362.49 1496.39 362.79 1495.34 363.09 1494.37 363.41 1493.67 363.73 1492.79 364.06 1491.5 364.41 1490.79 364.76 1489.43 365.13 1489.25 365.51 1487.63 365.9 1487.07 366.31 1486.51 366.73 1485.08 367.16 1484.15 367.61 1483.6 368.08 1482.45 368.58 1481.36 369.09 1480.69 369.63 1479.99 370.19 1479.01 370.78 1477.85 371.39 1477.43 372.04 1476.95 372.71 1475.76 373.46 1475.57 374.28 1474.93 375.16 1474.58 376.09 1473.71 377.04 1473.35 378.01 1473.04 378.97 1473.03 379.9 1472.28 380.82 1471.87 381.75 1471.81 382.68 1470.94 383.62 1470.71 384.56 1470.52 385.5 1469.99 386.45 1469.83 387.4 1469.49 388.36 1468.78 389.31 1468.46 390.28 1468.68 391.24 1468.1 392.21 1467.63 393.18 1467.33 394.15 1467.4 395.12 1467.55 396.09 1466.88 397.08 1467.35 398.06 1466.42 399.05 1466.73 400.04 1466.68 401.04 1466.41 402.04 1466.07 403.04 1466 404.04 1466.08 405.05 1466.25 406.05 1465.77 407.05 1465.63 408.06 1465.6 409.06 1466.01 410.06 1465.36 411.06 1465.24 412.06 1465.77 413.06 1465.11 414.06 1465.63 415.06 1465.42 416.06 1465.64 417.06 1465.09 418.06 1465.48 419.06 1464.82 420.06 1465.34 421.07 1464.94 422.07 1465.01 423.07 1465.25 424.07 1465.08 425.07 1464.91 426.08 1464.75 427.08 1465.08 428.08 1464.82 429.08 1464.62 430.09 1464.71 431.09 1465 432.09 1464.39 433.1 1464.57 434.1 1464.87 435.1 1464.76 436.11 1464.59 437.11 1464.34 438.11 1464.24 439.12 1464.5 440.12 1464.71 441.12 1464.35 442.13 1464.84 443.13 1464.59 444.14 1464.44 445.14 1464.67 446.14 1464.28 447.15 1464.74 448.15 1464.31 449.15 1464 450.16 1464.76 451.16 1464.36 452.16 1464.67 453.17 1464.02 454.17 1464.08 455.17 1464.3 456.17 1464.61 457.18 1463.96 458.18 1464.3 459.18 1464.46 460.18 1464.16 461.19 1464.19 462.19 1464.56 463.19 1464.23 464.19 1464.34 465.2 1464.32 466.2 1464.48 467.2 1464.03 468.2 1464.18 469.21 1463.9 470.21 1463.98 471.21 1464.36 472.22 1464.46 473.22 1463.94 474.22 1464.28 475.22 1464.09 476.23 1464.2 477.23 1463.93 478.23 1463.9 479.23 1463.78 480.24 1464 481.24 1463.63 482.24 1464.27 483.25 1463.76 484.25 1464.06 485.25 1463.95 486.25 1463.81 487.26 1464.28 488.26 1464.19 489.26 1464.09 490.26 1463.59 491.27 1463.86 492.27 1464 493.27 1463.54 494.28 1464.02 495.28 1464.1 496.28 1464.2 497.28 1463.84 498.29 1463.45 499.29 1463.59 500.29 1464.06 501.3 1463.52 502.3 1463.89 503.3 1463.91 504.3 1463.74 505.31 1464 506.31 1463.47 507.31 1463.86 508.32 1463.66 509.32 1464.04 510.32 1463.66 511.32 1463.49 512.33 1463.61 513.33 1463.75 514.33 1463.39 515.34 1464.02 516.34 1463.84 517.34 1463.57 518.34 1463.8 519.35 1464.1 520.35 1463.79 521.35 1463.63 522.36 1463.85 523.36 1463.91 524.36 1463.85 525.37 1463.47 526.37 1463.32 527.37 1463.55 528.37 1463.65" fill="none" stroke="#86a57c" stroke-width="1.6" stroke-linejoin="round" stroke-linecap="butt"/>
<path d="M348.78 1478.24 348.79 1478.65 348.81 1480.25 348.83 1480.63 348.84 1481.83 348.86 1482.91 348.88 1484.33 348.89 1485.35 348.91 1485.63 348.93 1486.75 348.94 1487.96 348.96 1488.82 348.98 1490.37 349 1491.1 349.01 1491.87 349.03 1493.09 349.05 1494.15 349.07 1495.3 349.09 1496.33 349.11 1496.96 349.12 1498.23 349.14 1499.41 349.16 1500.06 349.18 1501.22 349.2 1502.03 349.22 1502.94 349.24 1503.8 349.26 1504.71 349.28 1505.9 349.3 1506.93 349.32 1508.11 349.34 1509.19 349.36 1510.22 349.38 1511.27 349.4 1512.12 349.42 1513.07 349.44 1514.15 349.46 1515.23 349.49 1516.35 349.51 1516.87 349.53 1518.36 349.55 1518.84 349.57 1519.69 349.59 1521.32 349.62 1521.87 349.64 1523.36 349.66 1523.97 349.68 1524.97 349.7 1526.39 349.73 1527.33 349.75 1527.82 349.77 1529.62 349.79 1530.14 349.82 1531.65 349.84 1533.03 349.86 1534.14 349.88 1535.06 349.9 1536.66 349.92 1537.7 349.95 1538.61 349.97 1540.46 349.99 1541.43 350.01 1542.54 350.03 1543.94 350.05 1545.06 350.08 1546.69 350.1 1548.02 350.12 1549.03 350.14 1550.57 350.17 1551.79 350.19 1553.62 350.21 1554.39 350.24 1556.05 350.26 1557.4 350.28 1558.68 350.31 1559.8 350.33 1560.99 350.35 1562.08 350.38 1563.5 350.4 1565.23 350.43 1566.03 350.46 1567.44 350.48 1568.44 350.51 1569.42 350.53 1570.85 350.56 1572.42 350.59 1573.04 350.62 1574.04 350.65 1575.26 350.68 1576.08 350.71 1576.94 350.74 1577.98 350.77 1579.28 350.8 1579.53 350.83 1580.32 350.86 1581.59 350.89 1581.85 350.93 1582.48 350.96 1583.2 351 1584.29 351.03 1584.87 351.07 1585.33 351.1 1585.26 351.14 1586.1 351.18 1585.74 351.22 1586.32 351.26 1586.57 351.3 1586.61 351.34 1587.1 351.38 1586.91 351.43 1586.53 351.48 1586.42 351.53 1585.99 351.59 1584.88 351.64 1584.34 351.71 1583.53 351.77 1583.11 351.84 1582.04 351.91 1580.52 351.98 1579.92 352.05 1577.98 352.12 1576.94 352.2 1575.54 352.28 1574.49 352.35 1573.47 352.43 1572.04 352.51 1570.11 352.59 1568.97 352.67 1568.11 352.75 1566.46 352.83 1565.69 352.91 1564.39 352.98 1563.38 353.06 1562.38 353.14 1561.27 353.22 1559.96 353.29 1559.46 353.37 1558.26 353.45 1557.39 353.53 1555.83 353.61 1554.96 353.69 1554.27 353.77 1553.46 353.85 1552.1 353.93 1551.42 354.02 1549.82 354.1 1548.85 354.19 1548.37 354.27 1547.61 354.36 1546.07 354.45 1545.09 354.54 1544.09 354.63 1543.29 354.72 1542.14 354.81 1541.12 354.91 1540.44 355 1538.83 355.1 1538.53 355.2 1537.43 355.3 1536.6 355.4 1535.51 355.5 1534.48 355.61 1533.08 355.71 1532.47 355.82 1531.33 355.93 1530.13 356.04 1529.5 356.15 1528.25 356.26 1527.65 356.37 1526.44 356.49 1525.57 356.61 1524.59 356.73 1523.34 356.85 1522.59 356.98 1521.36 357.11 1520.29 357.24 1519.69 357.38 1518.45 357.52 1517.46 357.67 1516.7 357.81 1515.43 357.97 1513.94 358.12 1513.49 358.28 1512.46 358.45 1511.56 358.63 1510.77 358.81 1509.59 359 1508.81 359.2 1507.66 359.41 1506.83 359.62 1505.41 359.84 1504.28 360.06 1503.54 360.29 1502.83 360.52 1501.83 360.77 1500.71 361.01 1499.52 361.27 1498.45 361.52 1497.28 361.79 1496.63 362.05 1495.74 362.33 1495.16 362.62 1493.87 362.92 1492.91 363.23 1491.86 363.55 1490.54 363.88 1489.81 364.22 1489.15 364.57 1488.25 364.93 1487.51 365.3 1486.2 365.69 1485.44 366.08 1484.62 366.49 1483.68 366.91 1482.26 367.34 1481.94 367.79 1480.89 368.26 1479.89 368.75 1478.54 369.26 1478.27 369.8 1477.19 370.36 1475.97 370.95 1475.51 371.56 1474.45 372.21 1473.74 372.93 1473.68 373.73 1473.15 374.58 1472.46 375.48 1471.67 376.41 1471.35 377.36 1470.72 378.31 1470.37 379.24 1469.81 380.15 1469.85 381.05 1469.51 381.95 1468.85 382.86 1468.52 383.77 1467.66 384.69 1467.83 385.61 1467.15 386.54 1466.36 387.47 1466.29 388.4 1465.86 389.34 1465.84 390.28 1465.44 391.23 1464.63 392.19 1464.84 393.15 1464.15 394.12 1464.29 395.1 1464.37 396.08 1463.67 397.07 1463.86 398.06 1463.5 399.06 1463.11 400.06 1463.58 401.06 1463.31 402.07 1462.82 403.07 1462.66 404.07 1462.68 405.07 1462.88 406.07 1462.96 407.06 1462.57 408.06 1462.09 409.06 1462.02 410.06 1462.14 411.06 1462.51 412.06 1461.95 413.06 1462.22 414.06 1461.72 415.07 1461.91 416.07 1462.12 417.07 1462.09 418.07 1461.52 419.08 1461.6 420.08 1461.61 421.08 1461.59 422.09 1461.64 423.09 1461.95 424.09 1461.38 425.1 1461.46 426.1 1461.65 427.1 1461.87 428.1 1461.84 429.1 1461.3 430.11 1461.62 431.11 1461.7 432.11 1461.52 433.11 1461.84 434.12 1461.23 435.12 1461.58 436.12 1461.69 437.13 1461.89 438.13 1461.1 439.13 1461.66 440.13 1461.35 441.14 1461.66 442.14 1461.48 443.14 1461.67 444.14 1461.17 445.15 1461.76 446.15 1461.33 447.15 1461.66 448.16 1461.24 449.16 1461.11 450.16 1461.27 451.16 1461.53 452.17 1461.72 453.17 1461.37 454.17 1461.24 455.18 1461.71 456.18 1461.55 457.18 1461.31 458.18 1461.47 459.19 1461.14 460.19 1461.33 461.19 1461.24 462.19 1461.11 463.2 1460.98 464.2 1461.09 465.2 1461.54 466.21 1461.5 467.21 1461.24 468.21 1461.59 469.21 1461 470.22 1461.46 471.22 1461.47 472.22 1460.91 473.22 1461.54 474.23 1461.46 475.23 1461.21 476.23 1461.23 477.24 1461.29 478.24 1461.2 479.24 1460.86 480.24 1461.16 481.25 1461.5 482.25 1461.23 483.25 1460.99 484.25 1461.52 485.26 1461.12 486.26 1460.93 487.26 1461.25 488.26 1460.91 489.27 1461.26 490.27 1461.3 491.27 1460.91 492.28 1461 493.28 1461.22 494.28 1460.92 495.28 1461.39 496.29 1461.32 497.29 1460.87 498.29 1461.19 499.29 1461.18 500.3 1461.01 501.3 1461.24 502.3 1461.05 503.31 1461.06 504.31 1461.02 505.31 1461.16 506.31 1460.69 507.32 1461.17 508.32 1460.78 509.32 1460.87 510.32 1461.33 511.33 1460.86 512.33 1461.17 513.33 1460.88 514.34 1461.47 515.34 1461.46 516.34 1460.93 517.34 1461.4 518.35 1461.39 519.35 1460.83 520.35 1460.96 521.35 1460.81 522.36 1460.84 523.36 1461.08 524.36 1461.06 525.37 1461.02 526.37 1460.82 527.37 1461.08 528.37 1461.41" fill="none" stroke="#5a9c78" stroke-width="2.4" stroke-linejoin="round" stroke-linecap="butt"/>
<path d="M348.59 1477.86 348.61 1479.13 348.62 1479.76 348.63 1481.19 348.64 1482.05 348.66 1483.33 348.67 1483.66 348.69 1485.12 348.71 1485.94 348.73 1486.9 348.74 1487.88 348.76 1489.34 348.78 1489.82 348.8 1491.13 348.83 1491.64 348.85 1493.4 348.87 1494.27 348.89 1495.19 348.92 1496.05 348.94 1496.93 348.97 1497.99 348.99 1499.18 349.02 1500.06 349.05 1501.37 349.08 1501.92 349.1 1503.35 349.13 1503.9 349.16 1504.78 349.19 1505.77 349.22 1506.89 349.25 1508.41 349.28 1509.32 349.31 1510.27 349.34 1510.93 349.37 1511.86 349.4 1512.98 349.43 1514.23 349.47 1514.83 349.5 1516.12 349.53 1517.01 349.56 1518.38 349.59 1519.42 349.63 1520.2 349.66 1521.56 349.69 1523.22 349.73 1524.58 349.76 1525.6 349.8 1527.18 349.84 1528.02 349.88 1529.51 349.92 1531.03 349.96 1531.84 350 1533.52 350.04 1535.03 350.09 1535.72 350.13 1536.72 350.18 1538.33 350.23 1539.38 350.29 1540 350.34 1540.95 350.4 1541.76 350.46 1542.25 350.52 1543.37 350.58 1543.42 350.65 1544.22 350.72 1544.36 350.79 1544.01 350.88 1544.43 350.98 1543.56 351.09 1543.36 351.22 1542.07 351.36 1541.48 351.51 1540.24 351.67 1539.07 351.83 1537.96 352 1536.63 352.16 1534.76 352.32 1533.58 352.48 1533.04 352.63 1531.53 352.77 1530.84 352.92 1529.63 353.06 1528.81 353.2 1527.25 353.34 1526.61 353.49 1525.81 353.63 1524.55 353.77 1523.79 353.91 1522.89 354.06 1521.89 354.2 1520.41 354.35 1519.97 354.5 1518.72 354.66 1517.41 354.81 1516.91 354.97 1515.49 355.13 1514.56 355.29 1513.64 355.46 1512.72 355.63 1511.46 355.8 1511.01 355.97 1510 356.15 1508.6 356.32 1508.14 356.5 1506.42 356.68 1505.48 356.86 1505 357.05 1503.59 357.24 1502.58 357.44 1501.44 357.64 1500.7 357.85 1499.52 358.06 1498.99 358.28 1497.51 358.51 1496.88 358.75 1496.27 358.99 1495.04 359.24 1493.89 359.51 1492.75 359.79 1492.46 360.07 1490.74 360.38 1490.16 360.69 1489.09 361.02 1488.45 361.36 1487.35 361.71 1486.68 362.08 1485.75 362.45 1484.64 362.85 1483.52 363.25 1482.66 363.67 1482.08 364.11 1481.05 364.58 1480.18 365.09 1479.46 365.62 1478.15 366.18 1477.66 366.76 1476.76 367.36 1475.64 367.97 1475.14 368.59 1473.83 369.22 1473 369.86 1472.94 370.52 1472.27 371.2 1471.09 371.9 1470.32 372.62 1469.46 373.35 1469.31 374.09 1468.06 374.85 1467.68 375.62 1467.15 376.41 1466.21 377.2 1465.99 378.01 1464.92 378.82 1464.68 379.64 1463.7 380.47 1463.4 381.32 1463.1 382.2 1462.28 383.1 1462.3 384.01 1461.96 384.94 1461.03 385.88 1460.8 386.82 1460.04 387.77 1459.97 388.71 1459.76 389.65 1459.05 390.59 1459.35 391.53 1458.35 392.47 1458.26 393.41 1457.51 394.36 1457.4 395.31 1457.47 396.27 1456.83 397.23 1456.89 398.19 1456.57 399.16 1456 400.13 1455.54 401.1 1455.85 402.08 1455.73 403.06 1454.99 404.05 1454.67 405.04 1455.11 406.03 1454.76 407.03 1454.32 408.02 1454.1 409.02 1454.23 410.01 1454.44 411.01 1453.72 412 1454.05 413 1453.56 414 1453.72 415 1453.49 416 1453.49 417 1453.04 418 1453.53 419 1453.54 420 1453.06 421 1452.91 422 1453.15 423 1452.59 424.01 1452.45 425.01 1452.92 426.01 1452.75 427.01 1452.78 428.01 1452.27 429.02 1452.9 430.02 1452.71 431.02 1452.23 432.02 1452.64 433.03 1452.87 434.03 1452.26 435.03 1452.78 436.04 1452.76 437.04 1452.64 438.04 1452.34 439.05 1452.28 440.05 1452.19 441.06 1452.5 442.06 1451.97 443.06 1452.26 444.07 1452.25 445.07 1452.54 446.08 1452.51 447.08 1452.16 448.08 1452.24 449.09 1452.31 450.09 1452.17 451.1 1451.96 452.1 1451.85 453.1 1452.17 454.11 1452.06 455.11 1451.93 456.11 1451.99 457.12 1451.75 458.12 1452.16 459.12 1451.78 460.13 1451.81 461.13 1452.35 462.14 1451.83 463.14 1452.31 464.14 1452.15 465.15 1451.96 466.15 1452.23 467.15 1452.2 468.16 1452.53 469.16 1452.58 470.16 1452.19 471.17 1452.13 472.17 1452.32 473.18 1451.95 474.18 1452.3 475.18 1451.97 476.19 1452.12 477.19 1452.53 478.19 1452.55 479.2 1452.33 480.2 1452.73 481.2 1452.1 482.21 1452.24 483.21 1452.48 484.22 1452.38 485.22 1452.56 486.22 1452.12 487.23 1452.64 488.23 1452.21 489.23 1452.31 490.24 1452.25 491.24 1452.69 492.24 1452.16 493.25 1452.92 494.25 1452.45 495.25 1452.34 496.26 1452.43 497.26 1452.58 498.27 1452.38 499.27 1452.81 500.27 1452.82 501.28 1452.73 502.28 1452.96 503.28 1452.83 504.29 1452.39 505.29 1452.48 506.29 1452.66 507.3 1452.54 508.3 1452.62 509.31 1452.69 510.31 1452.95 511.31 1452.77 512.32 1453.02 513.32 1452.85 514.32 1452.38 515.33 1453.17 516.33 1452.51 517.33 1452.72 518.34 1452.43 519.34 1452.85 520.35 1452.98 521.35 1452.68 522.35 1453.2 523.36 1452.59 524.36 1453.24 525.36 1453.12 526.37 1452.63 527.37 1452.6 528.37 1452.58" fill="none" stroke="#2c5c46" stroke-width="1.9" stroke-linejoin="round" stroke-linecap="butt"/>
<rect x="343.6" y="1478" width="4.4" height="150" fill="#e9c7ab"/>
<rect x="343.6" y="1600" width="3.0" height="50" fill="#c9bfa6"/>
<line x1="344.2" y1="1478" x2="344.2" y2="1671.5" stroke="#958c6c" stroke-width="2.2"/>
<rect x="343.6" y="1372.6" width="4.4" height="105" fill="#8d8664" stroke="#b0664a" stroke-width="1.4"/>
<rect x="346.0" y="1455" width="1.6" height="23" fill="#e9c7ab"/>
<line x1="348.1" y1="1478" x2="348.1" y2="1552" stroke="#b0664a" stroke-width="1.5"/>
<rect x="526.3" y="1358.3" width="3.4" height="119" fill="#a86f54"/>
<rect x="527.3" y="1366" width="1.4" height="104" fill="#8f8a68"/>
<path d="M526.2 1477H530.4L532.6 1530L532.4 1607.8H527L526.2 1560Z" fill="#b4583e"/>
<rect x="527.4" y="1480" width="1.6" height="70" fill="#a3765a"/>
<text x="409.2" y="1710.4" font-size="24.4" font-weight="bold" fill="#1f1c1d" letter-spacing="0.35">ccm<tspan dx="3.6">p1529</tspan></text>
</g>
<g>
<rect x="1084.6" y="1275.6" width="390.2" height="453.7" fill="url(#bgF)"/>
<line x1="1175.8" y1="1278.1" x2="1175.8" y2="1731.3" stroke="#5a5a5a" stroke-width="1.25" stroke-dasharray="3.4 8.3"/>
<line x1="1279.7" y1="1278.1" x2="1279.7" y2="1731.3" stroke="#5a5a5a" stroke-width="1.25" stroke-dasharray="3.4 8.3"/>
<line x1="1381.3" y1="1278.1" x2="1381.3" y2="1731.3" stroke="#5a5a5a" stroke-width="1.25" stroke-dasharray="3.4 8.3"/>
<line x1="1089.4" y1="1689.3" x2="1472.8" y2="1689.3" stroke="#787878" stroke-width="3.8" stroke-dasharray="1.6 6.12"/>
<line x1="1084.6" y1="1467.8" x2="1124" y2="1467.8" stroke="#2f2f8c" stroke-width="3"/>
<line x1="1084.6" y1="1471.1" x2="1124" y2="1471.1" stroke="#6d8f7a" stroke-width="2.6"/>
<line x1="1084.6" y1="1473.2" x2="1124" y2="1473.2" stroke="#e3d59a" stroke-width="1.6"/>
<path d="M1129 1436.55 1129.46 1437.3 1129.98 1438.72 1130.57 1438.9 1131.23 1440.01 1132 1440.23 1132.86 1440.45 1133.8 1441.38 1134.78 1441.66 1135.79 1441.77 1136.78 1442.19 1137.75 1442.37 1138.7 1442.68 1139.65 1443.29 1140.62 1443.56 1141.59 1443.61 1142.56 1443.95 1143.54 1444.7 1144.52 1444.5 1145.51 1444.83 1146.49 1444.82 1147.48 1444.93 1148.47 1445.54 1149.45 1445.46 1150.44 1445.99 1151.43 1445.8 1152.42 1446.05 1153.41 1446.4 1154.4 1446.58 1155.4 1446.48 1156.4 1446.89 1157.39 1446.91 1158.39 1447.22 1159.39 1447.3 1160.39 1447.47 1161.39 1447.2 1162.4 1447.19 1163.4 1447.25 1164.4 1447.6 1165.41 1447.77 1166.41 1447.78 1167.41 1447.82 1168.42 1448.11 1169.42 1448.14 1170.43 1448.06 1171.43 1448.74 1172.43 1448.63 1173.43 1448.5 1174.43 1448.73 1175.44 1449.02 1176.44 1448.81 1177.44 1449.23 1178.44 1449.5 1179.44 1449.22 1180.44 1449.59 1181.44 1449.98 1182.44 1449.97 1183.44 1449.92 1184.44 1449.74 1185.44 1450.5 1186.44 1450.66 1187.44 1450.65 1188.44 1450.38 1189.44 1450.75 1190.44 1451.03 1191.44 1450.96 1192.44 1451.39 1193.44 1451.25 1194.44 1450.96 1195.44 1451.28 1196.44 1451.89 1197.44 1452 1198.44 1452.08 1199.44 1451.7 1200.44 1451.85 1201.44 1452.21 1202.44 1451.92 1203.45 1452.64 1204.45 1452.47 1205.45 1452.75 1206.45 1452.78 1207.45 1452.71 1208.45 1453.2 1209.45 1452.84 1210.46 1453.14 1211.46 1453.17 1212.46 1453.48 1213.46 1453.58 1214.46 1453.5 1215.47 1453.51 1216.47 1453.52 1217.47 1453.5 1218.47 1453.86 1219.48 1453.65 1220.48 1453.98 1221.48 1454.5 1222.49 1454.37 1223.49 1454.29 1224.49 1454.75 1225.5 1454.87 1226.5 1454.81 1227.5 1454.56 1228.51 1455.06 1229.51 1455.07 1230.52 1455.06 1231.52 1455.02 1232.52 1454.96 1233.53 1455.06 1234.53 1455.3 1235.54 1455.37 1236.54 1455.41 1237.55 1455.73 1238.55 1455.43 1239.56 1455.42 1240.56 1455.53 1241.57 1455.92 1242.57 1455.58 1243.58 1455.85 1244.58 1455.83 1245.59 1455.8 1246.59 1456.51 1247.6 1456.18 1248.6 1456.63 1249.61 1456.4 1250.61 1456.81 1251.62 1456.3 1252.62 1456.52 1253.63 1456.5 1254.64 1456.92 1255.64 1456.62 1256.65 1456.91 1257.65 1456.71 1258.66 1456.68 1259.66 1457.31 1260.67 1457.29 1261.68 1457.36 1262.68 1457.55 1263.69 1457.5 1264.69 1457.01 1265.7 1457.21 1266.7 1457.35 1267.71 1457.77 1268.72 1457.17 1269.72 1457.72 1270.73 1457.3 1271.73 1457.42 1272.74 1457.52 1273.75 1457.71 1274.75 1458.08 1275.76 1458.09 1276.77 1457.75 1277.77 1458.27 1278.78 1457.66 1279.78 1457.71 1280.79 1458.05 1281.8 1457.99 1282.8 1458.4 1283.81 1457.85 1284.82 1458.5 1285.82 1458.12 1286.83 1458.51 1287.84 1458.01 1288.85 1458.68 1289.85 1458.66 1290.86 1458.52 1291.87 1458.74 1292.87 1458.75 1293.88 1458.83 1294.89 1458.75 1295.89 1458.98 1296.9 1458.74 1297.91 1458.86 1298.91 1458.74 1299.92 1459.14 1300.93 1458.49 1301.94 1459.03 1302.94 1458.72 1303.95 1459.05 1304.96 1458.74 1305.96 1458.88 1306.97 1459.16 1307.98 1458.99 1308.99 1459.2 1309.99 1459.22 1311 1458.88 1312.01 1459.31 1313.01 1459.05 1314.02 1459.18 1315.03 1459.27 1316.04 1459.21 1317.04 1459.16 1318.05 1459.11 1319.06 1459.46 1320.06 1459.58 1321.07 1459.21 1322.08 1459.53 1323.08 1459.22 1324.09 1459.61 1325.1 1459.39 1326.11 1459.46 1327.11 1459.7 1328.12 1459.58 1329.13 1459.6 1330.13 1459.52 1331.14 1459.9 1332.15 1459.57 1333.16 1459.84 1334.16 1459.45 1335.17 1460.07 1336.18 1460.13 1337.18 1459.61 1338.19 1459.81 1339.2 1459.6 1340.21 1459.84 1341.21 1460.18 1342.22 1460.01 1343.23 1459.71 1344.23 1460.32 1345.24 1460.05 1346.25 1459.74 1347.26 1459.96 1348.26 1459.83 1349.27 1460.37 1350.28 1460.04 1351.29 1460.14 1352.29 1460.4 1353.3 1460.23 1354.31 1459.88 1355.31 1459.92 1356.32 1460.01 1357.33 1460.38 1358.34 1460.36 1359.34 1460.2 1360.35 1460.18 1361.36 1460.04 1362.37 1460.05 1363.37 1460.46 1364.38 1460.59 1365.39 1460.4 1366.4 1460.55 1367.4 1460.39 1368.41 1460.13 1369.42 1460.11 1370.43 1460.69 1371.43 1460.75 1372.44 1460.84 1373.45 1460.38 1374.45 1460.69 1375.46 1460.71 1376.47 1460.67 1377.48 1460.79 1378.48 1460.9 1379.49 1460.38 1380.5 1460.76" fill="none" stroke="#afd8bb" stroke-width="2.9" stroke-linejoin="round" stroke-linecap="butt"/>
<path d="M1129 1433.44 1129.46 1434.7 1129.98 1435.66 1130.57 1436.47 1131.22 1436.97 1131.98 1437.63 1132.83 1437.57 1133.75 1438 1134.71 1438.64 1135.7 1439.24 1136.68 1439.65 1137.64 1440.01 1138.58 1439.85 1139.53 1440.55 1140.48 1440.76 1141.45 1440.78 1142.42 1441.28 1143.39 1441.76 1144.37 1441.59 1145.35 1442.34 1146.33 1442.06 1147.31 1442.22 1148.3 1442.63 1149.28 1443.11 1150.26 1443.29 1151.24 1443.53 1152.23 1443.23 1153.22 1443.42 1154.21 1443.57 1155.2 1443.72 1156.19 1444.03 1157.18 1444.57 1158.18 1444.49 1159.17 1444.39 1160.17 1444.96 1161.17 1444.81 1162.16 1444.58 1163.16 1444.73 1164.16 1445.19 1165.16 1445.06 1166.16 1445.24 1167.16 1445.43 1168.16 1445.71 1169.16 1446.07 1170.16 1445.6 1171.16 1446.31 1172.16 1446.09 1173.15 1446.13 1174.15 1446.25 1175.15 1446.43 1176.14 1446.6 1177.14 1446.72 1178.13 1447.18 1179.13 1446.96 1180.13 1447.03 1181.12 1447.65 1182.12 1447.68 1183.11 1447.3 1184.11 1447.81 1185.1 1448 1186.1 1447.8 1187.09 1448.07 1188.09 1448.11 1189.08 1448.18 1190.08 1448.62 1191.07 1448.46 1192.07 1448.87 1193.06 1449.02 1194.06 1449.24 1195.05 1449.56 1196.05 1449.12 1197.04 1449.36 1198.04 1449.84 1199.04 1449.81 1200.03 1449.77 1201.03 1449.91 1202.02 1450.05 1203.02 1450.69 1204.02 1450.44 1205.01 1450.71 1206.01 1450.83 1207.01 1451.09 1208 1451.02 1209 1451.07 1210 1451.42 1210.99 1451.27 1211.99 1451.23 1212.99 1451.97 1213.99 1452.04 1214.98 1451.81 1215.98 1452.11 1216.98 1452.28 1217.98 1452.07 1218.98 1452.03 1219.98 1452.12 1220.97 1452.72 1221.97 1452.9 1222.97 1452.61 1223.97 1453.08 1224.97 1452.82 1225.97 1452.9 1226.97 1452.87 1227.97 1453.17 1228.97 1453.14 1229.97 1453.56 1230.97 1453.71 1231.98 1453.63 1232.98 1453.53 1233.98 1453.57 1234.98 1454.08 1235.98 1453.96 1236.98 1454.01 1237.98 1453.65 1238.98 1454.43 1239.99 1454.06 1240.99 1454.25 1241.99 1454.1 1242.99 1454.74 1243.99 1454.76 1244.99 1454.5 1246 1454.86 1247 1455.07 1248 1455.06 1249 1454.6 1250.01 1454.65 1251.01 1454.91 1252.01 1455.08 1253.01 1454.98 1254.02 1454.99 1255.02 1455.11 1256.02 1455.69 1257.02 1455.65 1258.03 1455.26 1259.03 1455.52 1260.03 1455.87 1261.03 1455.53 1262.04 1455.77 1263.04 1455.67 1264.04 1456.17 1265.04 1455.94 1266.04 1455.85 1267.05 1456.21 1268.05 1455.92 1269.05 1455.99 1270.06 1456.51 1271.06 1456.55 1272.06 1456.1 1273.06 1456.1 1274.07 1456.7 1275.07 1456.44 1276.07 1456.73 1277.08 1456.49 1278.08 1456.34 1279.08 1456.44 1280.09 1456.73 1281.09 1456.98 1282.09 1457.14 1283.1 1456.77 1284.1 1456.9 1285.1 1457.15 1286.11 1457.19 1287.11 1457.3 1288.11 1457.32 1289.12 1457.22 1290.12 1457.42 1291.13 1457.25 1292.13 1457.53 1293.13 1457.35 1294.14 1457.15 1295.14 1457.69 1296.14 1457.27 1297.15 1457.59 1298.15 1457.76 1299.16 1457.73 1300.16 1457.73 1301.16 1458.06 1302.17 1457.6 1303.17 1457.81 1304.18 1458.02 1305.18 1458.22 1306.18 1457.74 1307.19 1457.64 1308.19 1458.21 1309.2 1458.14 1310.2 1458.04 1311.2 1458.4 1312.21 1458.48 1313.21 1458.09 1314.22 1458.16 1315.22 1458.29 1316.22 1458.2 1317.23 1458.27 1318.23 1458.16 1319.24 1458.61 1320.24 1458.37 1321.24 1458.72 1322.25 1458.69 1323.25 1458.5 1324.26 1458.32 1325.26 1458.22 1326.26 1458.44 1327.27 1458.84 1328.27 1458.69 1329.28 1458.87 1330.28 1458.43 1331.28 1458.92 1332.29 1459.11 1333.29 1458.46 1334.3 1458.57 1335.3 1459.1 1336.3 1458.8 1337.31 1458.78 1338.31 1459.18 1339.32 1459.23 1340.32 1459.33 1341.33 1458.84 1342.33 1459.1 1343.33 1458.79 1344.34 1459.1 1345.34 1459.36 1346.35 1459.03 1347.35 1459.18 1348.36 1459.31 1349.36 1458.92 1350.36 1459.1 1351.37 1459.18 1352.37 1459.59 1353.38 1459.45 1354.38 1459.43 1355.39 1459.18 1356.39 1459.63 1357.39 1459.22 1358.4 1459.62 1359.4 1459.29 1360.41 1459.78 1361.41 1459.18 1362.42 1459.24 1363.42 1459.81 1364.43 1459.32 1365.43 1459.63 1366.44 1459.49 1367.44 1459.66 1368.44 1459.7 1369.45 1459.62 1370.45 1459.66 1371.46 1459.84 1372.46 1459.47 1373.47 1459.85 1374.47 1459.39 1375.48 1459.94 1376.48 1459.68 1377.49 1459.89 1378.49 1459.53 1379.5 1460.11 1380.5 1460.1" fill="none" stroke="#afd8bb" stroke-width="2.6" stroke-linejoin="round" stroke-linecap="butt"/>
<path d="M1127.9 1419.34 1127.98 1420.39 1128.18 1421.37 1128.47 1421.66 1128.81 1422.89 1129.3 1423.39 1130.03 1423.95 1130.9 1425.14 1131.84 1425.98 1132.76 1426.49 1133.62 1426.45 1134.5 1426.76 1135.41 1427.52 1136.34 1427.5 1137.28 1428.5 1138.23 1428.94 1139.18 1429.04 1140.13 1429.63 1141.08 1429.36 1142.03 1430.31 1142.98 1430.13 1143.93 1430.63 1144.88 1431.32 1145.84 1431.26 1146.8 1431.83 1147.77 1431.6 1148.73 1431.74 1149.7 1432.84 1150.67 1433.1 1151.64 1433.25 1152.61 1433.26 1153.58 1433.29 1154.56 1433.37 1155.53 1434.35 1156.51 1434.63 1157.48 1434.28 1158.46 1434.89 1159.44 1434.98 1160.42 1435.19 1161.4 1435.4 1162.39 1435.64 1163.37 1435.45 1164.36 1435.8 1165.34 1436.02 1166.33 1436.37 1167.32 1436.55 1168.31 1437.28 1169.3 1437.43 1170.29 1437.41 1171.28 1437.31 1172.27 1437.67 1173.26 1437.78 1174.25 1437.86 1175.24 1438.48 1176.23 1438.59 1177.22 1438.71 1178.21 1438.58 1179.2 1438.78 1180.19 1438.91 1181.19 1439.37 1182.18 1439.58 1183.17 1439.81 1184.17 1439.75 1185.16 1439.67 1186.16 1440.28 1187.15 1440.27 1188.15 1440.73 1189.14 1440.36 1190.14 1440.32 1191.13 1441.09 1192.13 1440.49 1193.12 1440.79 1194.12 1441.35 1195.11 1441.58 1196.11 1441.34 1197.1 1441.3 1198.1 1441.93 1199.09 1442.3 1200.08 1442.66 1201.07 1442.21 1202.07 1442.38 1203.06 1442.92 1204.05 1443.17 1205.04 1442.9 1206.03 1442.92 1207.02 1443.23 1208.01 1443.42 1209 1443.84 1210 1443.74 1210.99 1443.82 1211.98 1444.81 1212.97 1444.67 1213.96 1444.33 1214.95 1445.14 1215.94 1444.84 1216.93 1445.21 1217.92 1445.53 1218.91 1445.87 1219.9 1446.24 1220.9 1445.77 1221.89 1445.74 1222.88 1446.05 1223.88 1446.32 1224.87 1446.37 1225.87 1446.69 1226.86 1446.84 1227.86 1447.44 1228.85 1447.57 1229.85 1447.23 1230.85 1447.29 1231.85 1447.89 1232.84 1447.85 1233.84 1448.14 1234.84 1447.84 1235.84 1447.6 1236.84 1447.97 1237.84 1448 1238.84 1448.49 1239.84 1448.58 1240.84 1448.26 1241.84 1448.99 1242.84 1449 1243.84 1448.87 1244.84 1449 1245.84 1449.13 1246.85 1449.43 1247.85 1449.36 1248.85 1449.84 1249.85 1449.7 1250.86 1449.56 1251.86 1450.04 1252.86 1449.96 1253.86 1449.7 1254.87 1450.23 1255.87 1450.54 1256.87 1450.24 1257.88 1450.44 1258.88 1450.08 1259.88 1450.16 1260.89 1450.43 1261.89 1451.14 1262.89 1450.47 1263.9 1450.75 1264.9 1451.15 1265.91 1451.44 1266.91 1451.59 1267.91 1451.39 1268.92 1450.94 1269.92 1451.37 1270.93 1451.87 1271.93 1451.42 1272.93 1451.23 1273.94 1452.13 1274.94 1452.18 1275.94 1452.11 1276.95 1451.68 1277.95 1452.25 1278.96 1451.79 1279.96 1451.98 1280.96 1451.85 1281.97 1452.09 1282.97 1452.77 1283.97 1452.71 1284.98 1452.72 1285.98 1452.72 1286.99 1452.44 1287.99 1452.39 1289 1452.61 1290 1453.22 1291 1452.97 1292.01 1452.64 1293.01 1452.89 1294.02 1453.11 1295.02 1452.92 1296.03 1452.92 1297.03 1453.32 1298.04 1453.73 1299.04 1453.21 1300.05 1453.45 1301.05 1453.84 1302.06 1453.69 1303.06 1453.81 1304.07 1453.94 1305.07 1454.08 1306.08 1453.46 1307.09 1453.98 1308.09 1453.6 1309.1 1453.72 1310.1 1453.67 1311.11 1453.84 1312.11 1454.52 1313.12 1453.94 1314.12 1453.86 1315.13 1454.13 1316.14 1454.64 1317.14 1454.48 1318.15 1454.55 1319.15 1454.7 1320.16 1454.44 1321.17 1454.92 1322.17 1454.71 1323.18 1454.59 1324.18 1454.6 1325.19 1455.3 1326.19 1455.18 1327.2 1455.02 1328.21 1455.04 1329.21 1455.17 1330.22 1454.7 1331.22 1454.8 1332.23 1455.36 1333.23 1455.44 1334.24 1455.68 1335.25 1455.49 1336.25 1455.65 1337.26 1455.55 1338.26 1455.45 1339.27 1455.55 1340.27 1456.05 1341.28 1456.09 1342.28 1456.09 1343.29 1455.87 1344.29 1455.6 1345.3 1455.53 1346.31 1456.33 1347.31 1455.65 1348.32 1455.93 1349.32 1456.39 1350.33 1455.9 1351.33 1456.48 1352.34 1456.02 1353.35 1456.57 1354.35 1456.55 1355.36 1456.22 1356.36 1456.31 1357.37 1456.39 1358.37 1456.63 1359.38 1456.97 1360.38 1456.7 1361.39 1456.63 1362.4 1456.66 1363.4 1456.51 1364.41 1457 1365.41 1456.9 1366.42 1457.3 1367.42 1457.01 1368.43 1457.45 1369.44 1457.04 1370.44 1457.15 1371.45 1456.9 1372.45 1457.49 1373.46 1456.85 1374.47 1457.04 1375.47 1457.2 1376.48 1457.72 1377.48 1457.56 1378.49 1457.34 1379.49 1457.93 1380.5 1457.9" fill="none" stroke="#3f7253" stroke-width="3.4" stroke-linejoin="round" stroke-linecap="butt"/>
<path d="M1127.9 1405.58 1127.98 1407.06 1128.18 1408.62 1128.46 1409.56 1128.83 1409.74 1129.53 1410.04 1130.51 1409.48 1131.65 1409.48 1132.87 1409.95 1134.06 1409.71 1135.13 1410.36 1136.12 1410.72 1137.12 1410.4 1138.12 1410.68 1139.12 1410.63 1140.11 1410.57 1141.11 1410.66 1142.1 1411.34 1143.1 1411.66 1144.09 1411.33 1145.08 1411.29 1146.07 1412.09 1147.05 1411.77 1148.03 1412.43 1149.02 1412.54 1150 1412.45 1150.98 1412.86 1151.96 1412.96 1152.94 1412.97 1153.92 1413.28 1154.9 1413.82 1155.88 1414.23 1156.86 1413.82 1157.84 1414.12 1158.83 1414.16 1159.81 1415.25 1160.79 1414.66 1161.78 1415.12 1162.76 1415.03 1163.74 1415.64 1164.73 1415.96 1165.71 1416.07 1166.69 1416.42 1167.68 1416.21 1168.66 1417.04 1169.64 1417.12 1170.63 1416.81 1171.61 1417.26 1172.59 1417.08 1173.57 1418.02 1174.55 1418.3 1175.53 1418.18 1176.51 1418.26 1177.49 1418.88 1178.47 1418.71 1179.45 1418.66 1180.43 1419.45 1181.41 1419.45 1182.38 1420.22 1183.36 1420.02 1184.34 1419.9 1185.31 1420.74 1186.29 1421.14 1187.26 1420.63 1188.24 1421.05 1189.21 1421.44 1190.19 1421.88 1191.17 1422.11 1192.14 1422.28 1193.12 1422.73 1194.1 1422.85 1195.08 1422.44 1196.05 1423.53 1197.03 1423.63 1198.01 1423.71 1198.99 1424.03 1199.97 1424.29 1200.95 1423.8 1201.93 1424.55 1202.92 1424.32 1203.9 1424.64 1204.88 1425.36 1205.86 1425.33 1206.84 1425.32 1207.83 1425.43 1208.81 1425.91 1209.79 1425.78 1210.78 1426.24 1211.76 1426.88 1212.74 1426.64 1213.73 1426.98 1214.71 1427.57 1215.7 1427.25 1216.68 1427.37 1217.67 1427.69 1218.66 1427.86 1219.64 1428.57 1220.63 1427.91 1221.62 1428.22 1222.6 1428.97 1223.59 1428.45 1224.58 1429.02 1225.57 1429.43 1226.56 1429.02 1227.55 1429.43 1228.54 1429.56 1229.53 1429.93 1230.52 1430.19 1231.51 1430.48 1232.5 1430.04 1233.49 1430.34 1234.48 1430.96 1235.47 1431.22 1236.47 1430.88 1237.46 1430.8 1238.45 1431.03 1239.44 1431.77 1240.44 1431.33 1241.43 1431.56 1242.43 1431.69 1243.42 1432.04 1244.41 1432.39 1245.41 1432.09 1246.4 1432.53 1247.4 1433.09 1248.39 1432.85 1249.39 1432.98 1250.38 1433.35 1251.38 1433.33 1252.38 1433.36 1253.37 1433.86 1254.37 1433.37 1255.37 1433.57 1256.36 1434.4 1257.36 1433.89 1258.36 1433.85 1259.35 1434.06 1260.35 1434.9 1261.35 1434.34 1262.34 1434.78 1263.34 1435.09 1264.34 1434.58 1265.34 1434.93 1266.34 1435.47 1267.33 1435.17 1268.33 1435.37 1269.33 1435.67 1270.33 1436 1271.33 1435.68 1272.32 1435.66 1273.32 1435.65 1274.32 1435.99 1275.32 1436.46 1276.32 1436.79 1277.32 1436.53 1278.31 1436.31 1279.31 1436.85 1280.31 1436.48 1281.31 1436.61 1282.31 1436.72 1283.31 1437.54 1284.31 1437.36 1285.31 1436.91 1286.3 1437.84 1287.3 1437.45 1288.3 1437.34 1289.3 1437.9 1290.3 1437.85 1291.3 1438.04 1292.3 1437.97 1293.3 1437.86 1294.3 1437.76 1295.31 1438.44 1296.31 1438.37 1297.31 1438.41 1298.31 1438.67 1299.31 1438.65 1300.31 1439.12 1301.31 1439.04 1302.31 1439.3 1303.31 1438.76 1304.32 1439.19 1305.32 1439.53 1306.32 1439.49 1307.32 1439.23 1308.32 1439.63 1309.32 1439.57 1310.33 1439.4 1311.33 1439.87 1312.33 1439.38 1313.33 1439.46 1314.34 1439.63 1315.34 1439.66 1316.34 1440.39 1317.34 1439.89 1318.34 1440.64 1319.35 1439.88 1320.35 1439.98 1321.35 1440.37 1322.35 1440.63 1323.36 1440.72 1324.36 1440.32 1325.36 1440.78 1326.36 1440.54 1327.37 1440.67 1328.37 1440.75 1329.37 1440.84 1330.37 1441.46 1331.38 1441.47 1332.38 1440.96 1333.38 1441.52 1334.38 1441.18 1335.39 1441.06 1336.39 1441.18 1337.39 1441.88 1338.39 1441.88 1339.39 1441.83 1340.4 1441.54 1341.4 1442.22 1342.4 1442.03 1343.4 1442.16 1344.4 1442.46 1345.41 1442.06 1346.41 1442.15 1347.41 1442.03 1348.41 1442.31 1349.42 1442.81 1350.42 1442.72 1351.42 1442.46 1352.42 1442.54 1353.43 1442.95 1354.43 1443.2 1355.43 1442.87 1356.43 1442.58 1357.43 1443.5 1358.44 1443.51 1359.44 1443.35 1360.44 1442.89 1361.45 1443.32 1362.45 1443.25 1363.45 1443.13 1364.45 1443.49 1365.46 1443.65 1366.46 1443.71 1367.46 1443.57 1368.46 1443.61 1369.47 1444.18 1370.47 1443.61 1371.47 1444.06 1372.48 1444.15 1373.48 1443.87 1374.48 1443.79 1375.48 1444.29 1376.49 1444.39 1377.49 1444.1 1378.49 1444.03 1379.5 1444.56 1380.5 1444.17" fill="none" stroke="#2f2f8c" stroke-width="3.5" stroke-linejoin="round" stroke-linecap="butt"/>
<path d="M1128.8 1465.95 1128.92 1465.13 1129.11 1464.18 1129.36 1463.04 1129.65 1462.11 1129.98 1460.9 1130.42 1460.21 1130.95 1459.17 1131.53 1458.69 1132.13 1457.62 1132.78 1456.87 1133.48 1456.05 1134.23 1455.11 1135.02 1454.94 1135.87 1454.59 1136.8 1454.38 1137.8 1454.69 1138.84 1454.54 1139.9 1454.13 1140.96 1454.26 1141.99 1454.55 1142.99 1454.53 1144 1454.5 1145 1454.9 1146 1454.67 1147 1455.03 1148 1454.97 1149 1455.04 1150 1455.11 1151 1455.13 1152.01 1455.25 1153.01 1455.38 1154.01 1455.55 1155.02 1456.03 1156.02 1455.65 1157.02 1455.91 1158.03 1455.85 1159.03 1456.08 1160.03 1455.93 1161.04 1456.16 1162.04 1456.24 1163.05 1456.49 1164.05 1456.26 1165.06 1456.64 1166.06 1456.48 1167.06 1457.03 1168.07 1456.85 1169.07 1457.13 1170.08 1457.25 1171.08 1457.02 1172.09 1457.4 1173.09 1457.32 1174.09 1457.56 1175.1 1457.63 1176.1 1457.33 1177.11 1457.7 1178.11 1457.63 1179.12 1457.48 1180.12 1457.69 1181.13 1457.75 1182.13 1458.04 1183.14 1458 1184.14 1457.97 1185.14 1458.41 1186.15 1458.12 1187.15 1458.54 1188.16 1458.6 1189.16 1458.35 1190.17 1458.74 1191.17 1458.82 1192.18 1458.88 1193.18 1459.13 1194.19 1459.19 1195.19 1458.97 1196.2 1458.97 1197.2 1458.92 1198.21 1459.12 1199.21 1459.39 1200.22 1459.57 1201.22 1459.23 1202.23 1459.52 1203.23 1459.37 1204.24 1459.87 1205.25 1459.96 1206.25 1459.53 1207.26 1459.59 1208.26 1460.11 1209.27 1459.94 1210.27 1459.95 1211.28 1460.39 1212.28 1460.4 1213.29 1460.06 1214.3 1460.13 1215.3 1460.59 1216.31 1460.65 1217.31 1460.41 1218.32 1460.45 1219.33 1460.72 1220.33 1460.38 1221.34 1460.54 1222.34 1460.45 1223.35 1460.55 1224.36 1460.59 1225.36 1460.76 1226.37 1461.06 1227.37 1461.22 1228.38 1460.83 1229.39 1460.87 1230.39 1461.14 1231.4 1461.26 1232.41 1461.37 1233.41 1461.28 1234.42 1461.54 1235.43 1461.15 1236.43 1461.38 1237.44 1461.23 1238.45 1461.78 1239.45 1461.83 1240.46 1461.66 1241.47 1461.81 1242.47 1461.71 1243.48 1461.99 1244.49 1461.92 1245.5 1461.81 1246.5 1461.82 1247.51 1462 1248.52 1461.7 1249.52 1461.9 1250.53 1461.74 1251.54 1461.97 1252.54 1462.31 1253.55 1462.1 1254.56 1462.27 1255.57 1461.91 1256.57 1461.92 1257.58 1462.05 1258.59 1462.43 1259.59 1462.11 1260.6 1462.09 1261.61 1462.47 1262.62 1462.4 1263.62 1462.18 1264.63 1462.41 1265.64 1462.26 1266.64 1462.37 1267.65 1462.48 1268.66 1462.77 1269.67 1462.44 1270.67 1462.32 1271.68 1462.66 1272.69 1462.78 1273.7 1462.79 1274.7 1462.47 1275.71 1462.88 1276.72 1462.44 1277.72 1462.46 1278.73 1462.86 1279.74 1462.85 1280.75 1462.75 1281.75 1462.88 1282.76 1462.65 1283.77 1463.07 1284.78 1462.76 1285.78 1463 1286.79 1463.09 1287.8 1462.88 1288.81 1462.59 1289.81 1463.07 1290.82 1463.2 1291.83 1462.78 1292.84 1463.25 1293.85 1462.71 1294.85 1463.13 1295.86 1463.26 1296.87 1463.29 1297.88 1462.76 1298.88 1463.31 1299.89 1463.21 1300.9 1463.29 1301.91 1463.14 1302.91 1462.93 1303.92 1463.2 1304.93 1463.26 1305.94 1463 1306.94 1463.15 1307.95 1463.33 1308.96 1463.32 1309.97 1463.08 1310.98 1463.29 1311.98 1463.4 1312.99 1463.39 1314 1462.93 1315.01 1463.08 1316.01 1463.05 1317.02 1463.17 1318.03 1463.01 1319.04 1463 1320.04 1463.35 1321.05 1463.16 1322.06 1463.05 1323.07 1462.99 1324.07 1463.11 1325.08 1463.38 1326.09 1463.27 1327.1 1463.39 1328.1 1463.38 1329.11 1463.49 1330.12 1462.92 1331.13 1463.32 1332.13 1463.02 1333.14 1463.04 1334.15 1462.94 1335.16 1463.35 1336.16 1462.92 1337.17 1463.23 1338.18 1463 1339.19 1463.35 1340.19 1463.09 1341.2 1462.93 1342.21 1463.45 1343.22 1463.03 1344.23 1463.14 1345.23 1462.99 1346.24 1463.01 1347.25 1463.15 1348.26 1462.91 1349.26 1462.88 1350.27 1463.23 1351.28 1463.09 1352.29 1463.44 1353.29 1463.44 1354.3 1462.87 1355.31 1463.23 1356.32 1463.01 1357.32 1462.9 1358.33 1463.29 1359.34 1463.09 1360.35 1463.01 1361.35 1463.12 1362.36 1462.93 1363.37 1463.22 1364.38 1463.02 1365.39 1463.38 1366.39 1463.18 1367.4 1463.29 1368.41 1463.37 1369.42 1462.84 1370.42 1463.26 1371.43 1463.03 1372.44 1463.06 1373.45 1463.11 1374.45 1463.12 1375.46 1463.25 1376.47 1462.85 1377.48 1463.09 1378.48 1463.14 1379.49 1462.93 1380.5 1462.78" fill="none" stroke="#f2e23a" stroke-width="2.9" stroke-linejoin="round" stroke-linecap="butt"/>
<line x1="1084.6" y1="1479.2" x2="1474.8" y2="1479.2" stroke="#7c7c7c" stroke-width="3"/>
<line x1="1084.6" y1="1476.8" x2="1124" y2="1476.8" stroke="#c7372a" stroke-width="4.8"/>
<line x1="1084.6" y1="1474.9" x2="1124" y2="1474.9" stroke="#b0503a" stroke-width="1.4"/>
<path d="M1132.58 1530.79 1132.62 1529.43 1132.67 1528.64 1132.72 1527.61 1132.76 1526.61 1132.82 1525.71 1132.87 1524.71 1132.93 1523.39 1132.98 1522.57 1133.04 1521.59 1133.11 1520.45 1133.17 1519.52 1133.24 1518.23 1133.3 1517.38 1133.37 1516.36 1133.45 1515.48 1133.52 1514.27 1133.59 1513.51 1133.67 1512.41 1133.75 1511.4 1133.83 1510.47 1133.91 1509.29 1133.99 1508.27 1134.07 1507.06 1134.15 1506.07 1134.24 1505.34 1134.32 1504.25 1134.41 1503.29 1134.49 1502.15 1134.58 1501.03 1134.67 1499.99 1134.76 1499.3 1134.85 1498.21 1134.94 1496.95 1135.04 1495.99 1135.14 1494.93 1135.24 1493.97 1135.35 1493.07 1135.46 1491.98 1135.58 1491.13 1135.71 1489.81 1135.84 1488.79 1135.97 1488.09 1136.12 1487.1 1136.27 1486.03 1136.43 1484.86 1136.59 1484.02 1136.77 1482.79 1136.97 1481.92 1137.18 1480.84 1137.41 1479.63 1137.65 1478.83 1137.91 1477.84 1138.19 1476.47 1138.49 1475.74 1138.81 1474.41 1139.15 1473.69 1139.51 1472.8 1139.89 1471.78 1140.29 1471.06 1140.72 1470.32 1141.17 1469.45 1141.72 1468.75 1142.4 1468.16 1143.18 1467.19 1144.04 1466.68 1144.96 1466.03 1145.93 1465.44 1146.91 1464.96 1147.89 1464.41 1148.85 1464.42 1149.78 1464.18 1150.73 1463.94 1151.71 1463.78 1152.7 1463.89 1153.71 1463.51 1154.74 1463.63 1155.77 1463.42 1156.81 1463.64 1157.86 1463.5 1158.91 1463.35 1159.95 1463.38 1160.99 1463.3 1162.02 1463.12 1163.04 1463.25 1164.05 1463.34 1165.07 1463.33 1166.08 1463.56 1167.09 1463.4 1168.1 1463.56 1169.11 1463.6 1170.11 1463.93 1171.12 1464.09 1172.13 1464.07 1173.14 1464.13 1174.14 1464.42 1175.15 1464.77 1176.16 1464.81 1177.16 1465.26 1178.17 1465.46 1179.17 1465.44" fill="none" stroke="#ecc0b6" stroke-width="1.3" stroke-linejoin="round" stroke-linecap="butt"/>
<path d="M1130.28 1526.03 1130.28 1525.13 1130.28 1524.13 1130.29 1522.78 1130.3 1521.74 1130.31 1520.87 1130.33 1519.86 1130.35 1518.73 1130.37 1517.96 1130.4 1516.67 1130.42 1515.84 1130.45 1514.83 1130.49 1513.52 1130.52 1512.51 1130.56 1511.71 1130.6 1510.49 1130.64 1509.5 1130.68 1508.75 1130.73 1507.58 1130.78 1506.53 1130.83 1505.73 1130.88 1504.52 1130.93 1503.41 1130.99 1502.48 1131.05 1501.49 1131.11 1500.61 1131.17 1499.6 1131.23 1498.33 1131.3 1497.41 1131.37 1496.6 1131.43 1495.3 1131.5 1494.28 1131.58 1493.36 1131.65 1492.55 1131.72 1491.3 1131.8 1490.38 1131.87 1489.24 1131.95 1488.2 1132.05 1487.25 1132.15 1486.29 1132.27 1485.38 1132.4 1484.23 1132.55 1483.35 1132.7 1482.37 1132.87 1481.02 1133.05 1480.24 1133.24 1479.05 1133.44 1478.08 1133.66 1476.96 1133.88 1476.17 1134.12 1475.28 1134.36 1474.08 1134.62 1473.26 1134.89 1472.35 1135.17 1471.24 1135.46 1470.25 1135.79 1469.2 1136.18 1468.5 1136.63 1467.23 1137.11 1466.36 1137.64 1465.33 1138.21 1464.59 1138.82 1463.59 1139.45 1463.14 1140.12 1462.65 1140.9 1462.16 1141.8 1461.5 1142.79 1461.07 1143.83 1460.77 1144.89 1460.63 1145.95 1460.4 1146.96 1460.19 1147.95 1460.28 1148.95 1460.22 1149.96 1460.5 1150.98 1460.58 1152 1460.45 1153.02 1460.78 1154.04 1460.69 1155.07 1460.75 1156.09 1460.72 1157.12 1460.95 1158.14 1461.28 1159.16 1461.34 1160.17 1461.55 1161.18 1461.31 1162.19 1461.74 1163.19 1461.77 1164.2 1462.08 1165.2 1462.16 1166.21 1462.24 1167.21 1462.47 1168.21 1462.78 1169.21 1462.62 1170.21 1462.87 1171.21 1463.16 1172.21 1463.34 1173.21 1463.66 1174.2 1463.91 1175.2 1464.18 1176.19 1464.16 1177.19 1464.75 1178.18 1464.74 1179.17 1464.96" fill="none" stroke="#d4958a" stroke-width="1.4" stroke-linejoin="round" stroke-linecap="butt"/>
<path d="M1128.89 1623.06 1128.93 1621.7 1128.96 1620.73 1129 1619.75 1129.04 1618.69 1129.07 1617.95 1129.11 1616.64 1129.15 1616.05 1129.18 1614.85 1129.22 1613.98 1129.26 1613.05 1129.3 1612.05 1129.33 1610.86 1129.37 1609.91 1129.41 1608.63 1129.45 1607.67 1129.49 1606.77 1129.53 1605.67 1129.57 1604.74 1129.6 1603.71 1129.64 1602.72 1129.68 1601.67 1129.72 1600.55 1129.76 1599.84 1129.81 1598.55 1129.85 1597.51 1129.89 1596.53 1129.93 1595.71 1129.97 1594.4 1130.01 1593.77 1130.05 1592.55 1130.09 1591.54 1130.14 1590.75 1130.18 1589.82 1130.22 1588.42 1130.26 1587.73 1130.31 1586.34 1130.35 1585.92 1130.39 1584.44 1130.44 1583.56 1130.48 1582.57 1130.52 1581.48 1130.57 1580.8 1130.61 1579.88 1130.66 1578.38 1130.7 1577.34 1130.75 1576.41 1130.79 1575.48 1130.83 1574.25 1130.88 1573.46 1130.92 1572.58 1130.96 1571.34 1131 1570.38 1131.04 1569.47 1131.09 1568.47 1131.13 1567.53 1131.17 1566.27 1131.21 1565.51 1131.25 1564.59 1131.29 1563.76 1131.33 1562.45 1131.37 1561.72 1131.41 1560.4 1131.45 1559.67 1131.49 1558.56 1131.54 1557.33 1131.58 1556.14 1131.62 1555.27 1131.67 1554.15 1131.71 1553.31 1131.76 1552.53 1131.8 1551.39 1131.85 1550.39 1131.9 1549.53 1131.95 1548.53 1132 1547.5 1132.05 1546.47 1132.1 1545.25 1132.15 1544.2 1132.21 1543.32 1132.26 1542.12 1132.32 1541.04 1132.38 1540.11 1132.44 1539.4 1132.5 1538.54 1132.57 1537.38 1132.63 1536.41 1132.7 1535.02 1132.77 1534.19 1132.84 1533.35 1132.92 1532.26 1132.99 1531.16 1133.07 1530.53 1133.16 1529.11 1133.24 1528.37 1133.34 1527.25 1133.44 1526.54 1133.54 1524.95 1133.65 1524.35 1133.77 1523.45 1133.89 1522.4 1134.01 1520.95 1134.15 1520.12 1134.28 1519.21 1134.42 1518.17 1134.57 1517.05 1134.72 1515.94 1134.87 1515.27 1135.03 1514.49 1135.19 1513.22 1135.36 1512.09 1135.54 1511.02 1135.71 1510.49 1135.89 1509.47 1136.08 1507.99 1136.27 1507.45 1136.46 1506.39 1136.66 1505.17 1136.86 1504.32 1137.07 1503.23 1137.28 1502.26 1137.49 1501.4 1137.71 1500.59 1137.94 1499.31 1138.19 1498.22 1138.44 1497.7 1138.71 1496.36 1139 1495.32 1139.3 1494.71 1139.61 1493.5 1139.94 1492.75 1140.29 1491.88 1140.64 1490.42 1141.01 1489.81 1141.4 1488.67 1141.8 1487.75 1142.21 1486.83 1142.64 1486.03 1143.08 1485.29 1143.54 1484.09 1144.04 1483.39 1144.6 1482.43 1145.2 1481.56 1145.84 1480.7 1146.52 1480.43 1147.22 1479.33 1147.94 1478.69 1148.68 1477.85 1149.41 1477.38 1150.18 1476.5 1150.98 1476.24 1151.8 1475.49 1152.65 1475.01 1153.52 1474.29 1154.41 1474.13 1155.32 1473.22 1156.24 1472.75 1157.17 1472.79 1158.1 1472.23 1159.03 1471.7 1159.97 1471.5 1160.89 1471.06 1161.83 1470.64 1162.78 1470.24 1163.73 1470.11 1164.7 1470.06 1165.68 1469.39 1166.66 1469.1 1167.65 1469.33 1168.64 1468.96 1169.64 1468.46 1170.63 1468.34 1171.64 1468.5 1172.64 1468.02 1173.64 1468.14 1174.64 1467.85 1175.63 1467.45 1176.63 1467.42 1177.62 1467.39 1178.62 1467.15 1179.62 1467.47 1180.62 1467.33 1181.62 1467.2 1182.62 1467.19 1183.63 1466.76 1184.63 1466.51 1185.64 1466.92 1186.65 1466.83 1187.66 1466.47 1188.67 1466.4 1189.69 1466.74 1190.7 1466.41" fill="none" stroke="#8a4a3a" stroke-width="1.5" stroke-linejoin="round" stroke-linecap="butt"/>
<path d="M1127.05 1659.56 1127.1 1658.63 1127.15 1657.9 1127.2 1656.86 1127.25 1655.57 1127.3 1654.54 1127.35 1653.71 1127.4 1652.7 1127.45 1651.46 1127.5 1650.49 1127.55 1649.92 1127.6 1648.7 1127.65 1647.42 1127.7 1646.88 1127.75 1645.75 1127.8 1644.81 1127.85 1643.84 1127.9 1642.47 1127.95 1641.66 1128 1640.52 1128.05 1639.66 1128.1 1638.47 1128.15 1637.9 1128.2 1636.86 1128.25 1635.71 1128.3 1634.68 1128.35 1633.91 1128.4 1632.74 1128.45 1631.58 1128.5 1630.51 1128.55 1629.7 1128.6 1628.72 1128.65 1627.8 1128.7 1626.88 1128.75 1625.71 1128.8 1624.82 1128.85 1623.55 1128.9 1622.74 1128.95 1621.33 1129 1620.76 1129.06 1619.33 1129.11 1618.35 1129.16 1617.6 1129.21 1616.55 1129.27 1615.63 1129.32 1614.32 1129.37 1613.7 1129.42 1612.47 1129.47 1611.69 1129.52 1610.79 1129.58 1609.3 1129.63 1608.33 1129.68 1607.72 1129.73 1606.37 1129.78 1605.39 1129.83 1604.42 1129.88 1603.23 1129.94 1602.35 1129.99 1601.28 1130.04 1600.66 1130.09 1599.53 1130.14 1598.2 1130.2 1597.67 1130.25 1596.52 1130.3 1595.32 1130.35 1594.43 1130.41 1593.68 1130.46 1592.14 1130.52 1591.26 1130.57 1590.16 1130.62 1589.66 1130.68 1588.29 1130.74 1587.6 1130.79 1586.31 1130.85 1585.57 1130.91 1584.33 1130.96 1583.33 1131.02 1582.35 1131.08 1581.4 1131.14 1580.35 1131.2 1579.21 1131.26 1578.1 1131.32 1577.08 1131.38 1576.43 1131.45 1575.57 1131.51 1574.56 1131.57 1573.39 1131.64 1572.62 1131.7 1571.36 1131.77 1570.39 1131.84 1569.57 1131.91 1568.39 1131.98 1567.12 1132.05 1566.38 1132.12 1565.18 1132.19 1564.46 1132.26 1563.32 1132.33 1562.55 1132.4 1561.42 1132.48 1560.36 1132.55 1559.06 1132.62 1558.56 1132.7 1557.07 1132.77 1556.43 1132.85 1555.46 1132.92 1554.08 1133 1552.98 1133.08 1551.97 1133.16 1551.04 1133.24 1550.02 1133.32 1549 1133.4 1548.46 1133.49 1546.94 1133.57 1546.08 1133.66 1544.99 1133.74 1544.36 1133.83 1542.92 1133.92 1542.18 1134.02 1541.22 1134.11 1540.06 1134.2 1539.05 1134.3 1538.35 1134.4 1537.24 1134.5 1536.4 1134.61 1534.86 1134.71 1533.88 1134.82 1532.89 1134.93 1532.38 1135.04 1531.26 1135.15 1530.05 1135.27 1529.15 1135.39 1528.06 1135.51 1527 1135.64 1526.27 1135.76 1525.12 1135.89 1524.32 1136.03 1523.15 1136.16 1522.4 1136.3 1521.48 1136.44 1520.44 1136.6 1519.18 1136.75 1518.49 1136.92 1517.24 1137.09 1516.31 1137.27 1514.97 1137.46 1514.48 1137.66 1513.36 1137.86 1512.42 1138.07 1511 1138.29 1510.04 1138.51 1509.01 1138.74 1508.41 1138.98 1507.5 1139.23 1506.39 1139.48 1505.45 1139.75 1504.56 1140.02 1503.65 1140.29 1502.37 1140.58 1501.46 1140.87 1500.28 1141.17 1499.54 1141.48 1498.55 1141.8 1497.47 1142.15 1496.54 1142.53 1495.64 1142.93 1494.86 1143.36 1494.05 1143.82 1492.89 1144.29 1492.3 1144.79 1491.3 1145.3 1490.43 1145.83 1489.66 1146.38 1488.57 1146.94 1488.16 1147.53 1486.84 1148.16 1486.03 1148.83 1485.65 1149.53 1485.04 1150.26 1483.98 1151.01 1483.42 1151.79 1482.88 1152.58 1481.96 1153.39 1481.4 1154.21 1481.04 1155.04 1480.48 1155.87 1479.68 1156.73 1479.1 1157.63 1478.87 1158.55 1478.44 1159.49 1478.32 1160.45 1477.62 1161.42 1477.45 1162.39 1477.26 1163.36 1477.08 1164.32 1476.47 1165.27 1476.09 1166.23 1475.79 1167.19 1475.55 1168.16 1475.42 1169.12 1474.77 1170.09 1474.95 1171.07 1474.62 1172.04 1473.98 1173.02 1473.68 1174 1473.45 1174.99 1473.77 1175.97 1473.03 1176.96 1472.97 1177.95 1473.05 1178.94 1473.04 1179.94 1472.35 1180.93 1472.42 1181.93 1472.37 1182.92 1472.24 1183.92 1471.88 1184.91 1471.83 1185.91 1471.91 1186.91 1471.85 1187.9 1471.42 1188.9 1471.44 1189.9 1471.28 1190.9 1471.09 1191.9 1470.93 1192.9 1471.02 1193.9 1470.83 1194.9 1470.8 1195.91 1470.6 1196.91 1470.17 1197.91 1470.3 1198.92 1470.22 1199.93 1469.92" fill="none" stroke="#d0503e" stroke-width="1.5" stroke-linejoin="round" stroke-linecap="butt"/>
<path d="M1127.51 1665.66 1127.56 1664.71 1127.6 1663.56 1127.65 1662.65 1127.7 1661.42 1127.74 1660.64 1127.79 1659.52 1127.84 1658.23 1127.89 1657.62 1127.93 1656.52 1127.98 1655.48 1128.03 1654.36 1128.08 1653.72 1128.12 1652.33 1128.17 1651.47 1128.22 1650.2 1128.27 1649.23 1128.32 1648.26 1128.37 1647.65 1128.41 1646.29 1128.46 1645.65 1128.51 1644.4 1128.56 1643.4 1128.61 1642.23 1128.66 1641.31 1128.71 1640.24 1128.76 1639.5 1128.81 1638.28 1128.86 1637.63 1128.9 1636.08 1128.95 1635.05 1129 1634.36 1129.05 1633.5 1129.1 1632.11 1129.15 1631.37 1129.2 1630.54 1129.25 1629.44 1129.3 1628.57 1129.35 1627.26 1129.41 1626.25 1129.46 1625.07 1129.51 1624.11 1129.56 1623.5 1129.62 1622.36 1129.67 1621.43 1129.73 1620.07 1129.78 1619.13 1129.83 1617.98 1129.89 1617.24 1129.94 1616.03 1129.99 1615.16 1130.05 1614.28 1130.1 1613.46 1130.15 1612.44 1130.21 1611.29 1130.26 1609.91 1130.31 1609.35 1130.37 1608.18 1130.42 1607.09 1130.47 1606.42 1130.53 1605.08 1130.58 1604.34 1130.64 1603.33 1130.69 1602.08 1130.75 1601.18 1130.8 1600.25 1130.86 1599.02 1130.91 1598.04 1130.97 1597.24 1131.03 1596.21 1131.08 1595.24 1131.14 1594.02 1131.2 1592.93 1131.26 1592.03 1131.32 1591.36 1131.38 1590.11 1131.43 1589.17 1131.5 1587.93 1131.56 1587.23 1131.62 1586.29 1131.68 1585.26 1131.74 1583.95 1131.8 1582.86 1131.87 1582.08 1131.93 1581.06 1132 1579.81 1132.06 1578.71 1132.13 1578.24 1132.2 1577.19 1132.26 1575.95 1132.33 1574.73 1132.4 1574 1132.47 1572.94 1132.54 1572.07 1132.62 1570.83 1132.69 1569.87 1132.76 1569.05 1132.84 1568.09 1132.91 1566.78 1132.99 1565.88 1133.07 1565.1 1133.14 1564.01 1133.22 1562.72 1133.3 1561.83 1133.38 1561.03 1133.46 1559.64 1133.54 1559.17 1133.62 1558.06 1133.71 1556.8 1133.79 1555.64 1133.87 1555.08 1133.96 1553.64 1134.04 1552.93 1134.13 1552.04 1134.22 1550.59 1134.31 1550.06 1134.4 1548.55 1134.49 1548.12 1134.59 1546.84 1134.68 1545.89 1134.78 1545.04 1134.88 1544.11 1134.98 1542.61 1135.08 1541.55 1135.18 1541.03 1135.29 1539.65 1135.4 1538.79 1135.51 1537.97 1135.62 1536.98 1135.73 1535.81 1135.85 1535.08 1135.97 1534.05 1136.09 1532.62 1136.21 1532.02 1136.34 1530.82 1136.47 1529.6 1136.6 1528.74 1136.73 1527.71 1136.87 1527.02 1137 1526.05 1137.15 1524.66 1137.29 1523.75 1137.44 1522.55 1137.59 1521.57 1137.74 1520.74 1137.9 1519.64 1138.07 1519.09 1138.25 1518.17 1138.43 1516.77 1138.62 1515.62 1138.82 1514.72 1139.03 1514 1139.24 1512.8 1139.47 1511.99 1139.7 1510.82 1139.93 1509.83 1140.18 1508.78 1140.43 1508.16 1140.69 1506.86 1140.96 1505.73 1141.24 1505.12 1141.53 1504.14 1141.82 1502.96 1142.12 1502.36 1142.43 1500.91 1142.75 1500.53 1143.07 1499.32 1143.41 1498.12 1143.76 1497.36 1144.15 1496.63 1144.56 1495.84 1145 1494.71 1145.47 1493.97 1145.96 1492.92 1146.47 1491.82 1147.01 1490.79 1147.56 1490.28 1148.12 1489.39 1148.7 1488.58 1149.29 1487.57 1149.91 1487.14 1150.57 1486.57 1151.26 1485.67 1151.98 1484.59 1152.72 1484.1 1153.49 1483.58 1154.28 1482.94 1155.09 1481.96 1155.91 1481.45 1156.74 1480.99 1157.58 1480.22 1158.42 1479.62 1159.28 1479.65 1160.18 1478.91 1161.1 1478.63 1162.04 1478.34 1163 1477.65 1163.97 1477.9 1164.95 1477.11 1165.93 1477.12 1166.9 1476.88 1167.86 1476.13 1168.82 1476.16 1169.78 1475.7 1170.74 1475.33 1171.71 1475.09 1172.68 1474.96 1173.66 1474.78 1174.63 1474.64 1175.61 1474.03 1176.59 1474 1177.57 1473.72 1178.56 1473.31 1179.55 1473.23 1180.54 1472.87 1181.53 1472.93 1182.52 1472.52 1183.52 1472.43 1184.51 1472.46 1185.51 1471.98 1186.5 1471.81 1187.5 1472.09 1188.5 1472.03 1189.49 1471.61 1190.49 1471.57 1191.49 1471.28 1192.49 1471.41 1193.49 1470.95 1194.49 1470.93 1195.49 1470.84 1196.49 1470.71 1197.5 1471 1198.5 1470.91 1199.5 1470.61 1200.51 1470.23 1201.52 1470.29 1202.52 1470.56 1203.53 1470.3 1204.54 1470.46" fill="none" stroke="#c7372a" stroke-width="1.8" stroke-linejoin="round" stroke-linecap="butt"/>
<path d="M1184 1468.62 1185 1468.94 1186 1468.23 1187 1469.04 1188 1469.06 1189 1468.53 1190 1468.32 1191 1468.7 1192 1467.7 1193 1468.44 1194 1467.29 1195 1467.59 1196 1467.9 1197 1467.9 1198 1467.28 1199 1467.72 1200 1467.39 1201 1467.13 1202 1466.8 1203 1467.1 1204 1467.47 1205 1467.06 1206 1466.09 1207 1466.08 1208 1467.03 1209 1466.05 1210 1466.84 1211 1465.76 1212 1465.66 1213 1466.63 1214 1466.23 1215 1466.52 1216 1466.57 1217 1465.41 1218 1465.57 1219 1465.49 1220 1465.68 1221 1465.52 1222 1465.61 1223 1465.7 1224 1465.45 1225 1465.68 1226 1466.26 1227 1466.13 1228 1465.31 1229 1465.56 1230 1465.68 1231 1466.4 1232 1465.79 1233 1465.83 1234 1465.43 1235 1465.19 1236 1465.73 1237 1465.66 1238 1466.22 1239 1466.02 1240 1465.7 1241 1465.12 1242 1466.19 1243 1465.34 1244 1465.64 1245 1465.72 1246 1465.74 1247 1465.8 1248 1466.13 1249 1465.28 1250 1466.24 1251 1465.54 1252 1466.07 1253 1465.87 1254 1465.81 1255 1465.18 1256 1466.04 1257 1465.03 1258 1465.3 1259 1465.03 1260 1465.24 1261 1465.97 1262 1465.96 1263 1465.92 1264 1465.04 1265 1465.5 1266 1465.66 1267 1466.03 1268 1465.38 1269 1465.56 1270 1465.23 1271 1465.84 1272 1465.89 1273 1465.96 1274 1465.94 1275 1464.82 1276 1465.66 1277 1465.29 1278 1465.88 1279 1465.22 1280 1464.79 1281 1465.37 1282 1464.75 1283 1465 1284 1465.9 1285 1465.9 1286 1465.52 1287 1465.21 1288 1464.59 1289 1465 1290 1464.93 1291 1465.27 1292 1465.24 1293 1465.43 1294 1465.42 1295 1465.3 1296 1465.34 1297 1464.64 1298 1464.55 1299 1464.87 1300 1465.3 1301 1464.49 1302 1465.3 1303 1465.4 1304 1465.49 1305 1465.15 1306 1465.04 1307 1464.86 1308 1465.43 1309 1465.47 1310 1465.05 1311 1465.37 1312 1464.93 1313 1465.36 1314 1465.35 1315 1465.46 1316 1465.03 1317 1465.49 1318 1465.46 1319 1464.66 1320 1464.48 1321 1465.15 1322 1464.74 1323 1465.35 1324 1464.21 1325 1464.42 1326 1464.36 1327 1464.26 1328 1464.19 1329 1464.15 1330 1464.25 1331 1464.17 1332 1464.66 1333 1464.76 1334 1464.48 1335 1464.73 1336 1464.19 1337 1465.34 1338 1464.4 1339 1465.04 1340 1464.42 1341 1465.3 1342 1464.29 1343 1464.04 1344 1464.42 1345 1464.05 1346 1465.27 1347 1465.24 1348 1464.27 1349 1464.01 1350 1464.98 1351 1465.13 1352 1465.14 1353 1465.02 1354 1464.55 1355 1464.1 1356 1464.44 1357 1464.06 1358 1464.79 1359 1464.68 1360 1464.41 1361 1464.84 1362 1464.68 1363 1464.01 1364 1464.29 1365 1464.67 1366 1464.37 1367 1464.8 1368 1465 1369 1465 1370 1464.37 1371 1464.24 1372 1464.43 1373 1464.55 1374 1464.95 1375 1464.5 1376 1464.68 1377 1464.91 1378 1464.45 1379 1464.71 1380 1464.19 1381 1464.2 L1381 1470.6 1380 1471.1 1379 1471.19 1378 1471.16 1377 1470.71 1376 1470.49 1375 1471.86 1374 1470.61 1373 1471.73 1372 1471.14 1371 1470.92 1370 1470.64 1369 1471.66 1368 1471.14 1367 1471.63 1366 1470.83 1365 1471.43 1364 1470.92 1363 1471.52 1362 1471.77 1361 1470.88 1360 1471.28 1359 1471.9 1358 1470.92 1357 1471.29 1356 1470.85 1355 1471.44 1354 1471.89 1353 1470.71 1352 1471.31 1351 1471.61 1350 1471.25 1349 1471.84 1348 1470.91 1347 1471.53 1346 1471.6 1345 1471.85 1344 1471.16 1343 1471.57 1342 1471.61 1341 1471.6 1340 1471.18 1339 1472.24 1338 1472.09 1337 1471.6 1336 1471.5 1335 1472.09 1334 1472.14 1333 1471.59 1332 1471 1331 1471.77 1330 1471.58 1329 1471.58 1328 1471.11 1327 1471.55 1326 1471.87 1325 1471.92 1324 1472.19 1323 1471.41 1322 1472.35 1321 1471.5 1320 1472.36 1319 1471.86 1318 1471.88 1317 1471.29 1316 1471.97 1315 1471.65 1314 1471.34 1313 1471.23 1312 1472.22 1311 1471.42 1310 1472.2 1309 1472.45 1308 1471.89 1307 1471.63 1306 1471.94 1305 1471.83 1304 1471.73 1303 1472.59 1302 1472.02 1301 1472.4 1300 1472.19 1299 1472.62 1298 1471.45 1297 1472.22 1296 1472.54 1295 1471.9 1294 1472.04 1293 1472.35 1292 1471.65 1291 1471.77 1290 1471.72 1289 1472.56 1288 1471.98 1287 1471.67 1286 1472.69 1285 1471.83 1284 1471.51 1283 1472.66 1282 1471.98 1281 1472.35 1280 1472.46 1279 1471.93 1278 1472.78 1277 1471.59 1276 1472.33 1275 1472.58 1274 1471.93 1273 1472.6 1272 1471.65 1271 1471.58 1270 1472.5 1269 1471.66 1268 1472 1267 1472.8 1266 1471.79 1265 1471.91 1264 1472.56 1263 1473.01 1262 1472.21 1261 1472.94 1260 1471.85 1259 1472.09 1258 1472.6 1257 1472.03 1256 1472.06 1255 1472.01 1254 1472.19 1253 1472.05 1252 1472.06 1251 1472.06 1250 1472.05 1249 1471.84 1248 1472.68 1247 1472.91 1246 1472.41 1245 1473.14 1244 1473.06 1243 1473.05 1242 1472.96 1241 1472.67 1240 1472.4 1239 1471.95 1238 1472.34 1237 1472.11 1236 1472.01 1235 1472.32 1234 1473.29 1233 1472.19 1232 1472.31 1231 1473.15 1230 1473.18 1229 1472.33 1228 1473.32 1227 1472.97 1226 1472.68 1225 1472.73 1224 1473.21 1223 1472.52 1222 1472.4 1221 1472.7 1220 1472.85 1219 1472.94 1218 1472.82 1217 1473.41 1216 1472.69 1215 1472.86 1214 1472.7 1213 1473.24 1212 1472.39 1211 1473.4 1210 1472.35 1209 1473.54 1208 1472.96 1207 1472.42 1206 1473.03 1205 1472.39 1204 1473.47 1203 1472.56 1202 1472.86 1201 1473.34 1200 1473.08 1199 1472.79 1198 1472.81 1197 1472.5 1196 1472.16 1195 1472.19 1194 1472.31 1193 1472.55 1192 1472.62 1191 1472.92 1190 1473.06 1189 1472.38 1188 1472.45 1187 1473.38 1186 1472.36 1185 1472.24 1184 1472.54Z" fill="#c7372a"/>
<path d="M1206 1466.89 1207 1466.88 1208 1467.83 1209 1466.85 1210 1467.64 1211 1466.56 1212 1466.46 1213 1467.43 1214 1467.03 1215 1467.32 1216 1467.37 1217 1466.21 1218 1466.37 1219 1466.29 1220 1466.48 1221 1466.32 1222 1466.41 1223 1466.5 1224 1466.25 1225 1466.48 1226 1467.06 1227 1466.93 1228 1466.11 1229 1466.36 1230 1466.48 1231 1467.2 1232 1466.59 1233 1466.63 1234 1466.23 1235 1465.99 1236 1466.53 1237 1466.46 1238 1467.02 1239 1466.82 1240 1466.5 1241 1465.92 1242 1466.99 1243 1466.14 1244 1466.44 1245 1466.52 1246 1466.54 1247 1466.6 1248 1466.93 1249 1466.08 1250 1467.04 1251 1466.34 1252 1466.87 1253 1466.67 1254 1466.61 1255 1465.98 1256 1466.84 1257 1465.83 1258 1466.1 1259 1465.83 1260 1466.04 1261 1466.77 1262 1466.76 1263 1466.72 1264 1465.84 1265 1466.3 1266 1466.46 1267 1466.83 1268 1466.18 1269 1466.36 1270 1466.03 1271 1466.64 1272 1466.69 1273 1466.76 1274 1466.74 1275 1465.62 1276 1466.46 1277 1466.09 1278 1466.68 1279 1466.02 1280 1465.59 1281 1466.17 1282 1465.55 1283 1465.8 1284 1466.7 1285 1466.7 1286 1466.32 1287 1466.01 1288 1465.39 1289 1465.8 1290 1465.73 1291 1466.07 1292 1466.04 1293 1466.23 1294 1466.22 1295 1466.1 1296 1466.14 1297 1465.44 1298 1465.35 1299 1465.67 1300 1466.1 1301 1465.29 1302 1466.1 1303 1466.2 1304 1466.29 1305 1465.95 1306 1465.84 1307 1465.66 1308 1466.23 1309 1466.27 1310 1465.85 1311 1466.17 1312 1465.73 1313 1466.16 1314 1466.15 1315 1466.26 1316 1465.83 1317 1466.29 1318 1466.26 1319 1465.46 1320 1465.28 1321 1465.95 1322 1465.54 1323 1466.15 1324 1465.01 1325 1465.22 1326 1465.16 1327 1465.06 1328 1464.99 1329 1464.95 1330 1465.05 1331 1464.97 1332 1465.46 1333 1465.56 1334 1465.28 1335 1465.53 1336 1464.99 1337 1466.14 1338 1465.2 1339 1465.84 1340 1465.22 1341 1466.1 1342 1465.09 1343 1464.84 1344 1465.22 1345 1464.85 1346 1466.07 1347 1466.04 1348 1465.07 1349 1464.81 1350 1465.78 1351 1465.93 1352 1465.94 1353 1465.82 1354 1465.35 1355 1464.9 1356 1465.24 1357 1464.86 1358 1465.59 1359 1465.48 1360 1465.21 1361 1465.64 1362 1465.48 1363 1464.81 1364 1465.09 1365 1465.47 1366 1465.17 1367 1465.6 1368 1465.8 1369 1465.8 1370 1465.17 1371 1465.04 1372 1465.23 1373 1465.35 1374 1465.75 1375 1465.3 1376 1465.48 1377 1465.71 1378 1465.25 1379 1465.51 1380 1464.99 1381 1465" fill="none" stroke="#a9543f" stroke-width="1.6"/>
<path d="M1140 1459.58 1141.01 1459.65 1142.01 1459.66 1143.02 1459.81 1144.03 1459.64 1145.03 1459.69 1146.04 1459.69 1147.05 1459.95 1148.05 1459.72 1149.06 1460.09 1150.07 1460.14 1151.08 1460.02 1152.08 1460.03 1153.09 1460.07 1154.1 1460.27 1155.1 1460.37 1156.11 1460.11 1157.12 1460.4 1158.12 1460.45 1159.13 1460.32 1160.14 1460.37 1161.14 1460.25 1162.15 1460.4 1163.16 1460.55 1164.17 1460.59 1165.17 1460.7 1166.18 1460.78 1167.19 1460.64 1168.19 1460.65 1169.2 1460.66 1170.21 1460.79 1171.22 1460.72 1172.22 1460.95 1173.23 1460.77 1174.24 1461.04 1175.24 1460.85 1176.25 1461.17 1177.26 1461.23 1178.27 1461.17 1179.27 1461.35 1180.28 1461.15 1181.29 1461.22 1182.29 1461.17 1183.3 1461.36 1184.31 1461.34 1185.32 1461.6 1186.32 1461.48 1187.33 1461.29 1188.34 1461.41 1189.34 1461.65 1190.35 1461.75 1191.36 1461.7 1192.36 1461.89 1193.37 1461.89 1194.38 1461.9 1195.39 1461.91 1196.39 1461.83 1197.4 1461.75 1198.41 1462 1199.41 1462.11 1200.42 1462.23 1201.43 1462.17 1202.43 1462.15 1203.44 1462.07 1204.45 1462.25 1205.45 1462.52 1206.46 1462.41 1207.47 1462.53 1208.47 1462.65 1209.48 1462.42 1210.49 1462.48 1211.49 1462.73 1212.5 1462.49 1213.51 1462.65 1214.51 1462.89 1215.52 1462.95 1216.53 1462.74 1217.54 1462.71 1218.54 1463.14 1219.55 1463 1220.56 1463.04 1221.56 1463.15 1222.57 1463.24 1223.58 1463.11 1224.58 1463.22 1225.59 1463.36 1226.6 1463.23 1227.6 1463.34 1228.61 1463.29 1229.62 1463.56 1230.63 1463.24 1231.63 1463.55 1232.64 1463.49 1233.65 1463.57 1234.66 1463.43 1235.66 1463.76 1236.67 1463.6 1237.68 1463.72 1238.68 1463.5 1239.69 1463.62 1240.7 1463.89 1241.71 1463.56 1242.71 1463.73 1243.72 1463.7 1244.73 1463.78 1245.74 1463.92 1246.74 1464.05 1247.75 1463.94 1248.76 1464.12 1249.77 1464.07 1250.77 1464.19 1251.78 1463.9 1252.79 1464.21 1253.8 1464.19 1254.8 1464.29 1255.81 1463.96 1256.82 1464 1257.83 1463.99 1258.84 1464.02 1259.84 1464.13 1260.85 1464.29 1261.86 1464.25 1262.87 1464.16 1263.87 1464.43 1264.88 1464.2 1265.89 1464.56 1266.9 1464.31 1267.9 1464.23 1268.91 1464.3 1269.92 1464.26 1270.93 1464.35 1271.94 1464.55 1272.94 1464.44 1273.95 1464.32 1274.96 1464.46 1275.97 1464.48 1276.98 1464.47 1277.98 1464.67 1278.99 1464.44 1280 1464.62" fill="none" stroke="#f0b878" stroke-width="1.4" stroke-linejoin="round" stroke-linecap="butt"/>
<path d="M1170 1462.41 1171.01 1462.63 1172.03 1462.79 1173.04 1462.66 1174.06 1462.61 1175.07 1462.83 1176.09 1463.05 1177.1 1462.98 1178.11 1462.92 1179.13 1463.02 1180.14 1462.96 1181.16 1463.02 1182.17 1463.23 1183.19 1463.3 1184.2 1463.2 1185.22 1463.33 1186.23 1463.4 1187.24 1463.35 1188.26 1463.52 1189.27 1463.42 1190.29 1463.44 1191.3 1463.56 1192.32 1463.55 1193.33 1463.7 1194.34 1463.7 1195.36 1463.64 1196.37 1463.74 1197.39 1463.86 1198.4 1463.71 1199.42 1463.71 1200.43 1463.95 1201.45 1463.69 1202.46 1463.9 1203.48 1463.75 1204.49 1464.05 1205.5 1464.17 1206.52 1464.23 1207.53 1464.03 1208.55 1464.26 1209.56 1464.21 1210.58 1464.08 1211.59 1464.05 1212.61 1464.3 1213.62 1464.24 1214.63 1464.49 1215.65 1464.55 1216.66 1464.44 1217.68 1464.49 1218.69 1464.33 1219.71 1464.45 1220.72 1464.68 1221.74 1464.59 1222.75 1464.55 1223.77 1464.67 1224.78 1464.69 1225.8 1464.71 1226.81 1464.75 1227.82 1464.82 1228.84 1465.01 1229.85 1465.02 1230.87 1464.92 1231.88 1464.75 1232.9 1465.12 1233.91 1465.06 1234.93 1464.88 1235.94 1465.22 1236.96 1465.11 1237.97 1465.03 1238.99 1465.29 1240 1465.11" fill="none" stroke="#e3a395" stroke-width="1.4" stroke-linejoin="round" stroke-linecap="butt"/>
<path d="M1385.24 1532.45 1385.74 1531.4 1386.28 1530.33 1386.86 1529.49 1387.47 1528.63 1388.14 1527.77 1388.86 1527.16 1389.63 1526.6 1390.45 1525.95 1391.3 1525.48 1392.18 1524.87 1393.08 1524.7 1393.99 1524 1394.91 1523.27 1395.82 1523.09 1396.72 1522.44 1397.64 1522.35 1398.57 1521.75 1399.5 1521.7 1400.44 1520.71 1401.39 1520.39 1402.35 1520.41 1403.31 1519.71 1404.28 1519.24 1405.24 1519.24 1406.21 1519.17 1407.19 1518.53 1408.16 1518.25 1409.13 1517.59 1410.11 1517.84 1411.08 1517.69 1412.05 1516.73 1413.03 1516.54 1414 1516.26 1414.98 1516.43 1415.97 1516.26 1416.95 1515.97 1417.94 1515.2 1418.92 1515.02 1419.91 1515.02 1420.91 1514.46 1421.9 1514.69 1422.89 1514.09 1423.89 1513.75 1424.88 1513.49 1425.88 1513.82 1426.87 1513.04 1427.87 1513.42 1428.87 1512.61 1429.87 1512.93 1430.87 1512.4 1431.87 1512.65 1432.87 1512.48 1433.88 1512.31 1434.88 1511.69 1435.89 1511.38 1436.9 1511.87 1437.9 1511.45 1438.91 1511.03 1439.92 1511.07 1440.93 1511.23 1441.94 1510.52 1442.96 1510.74 1443.97 1510.2 1444.98 1510.33 1445.99 1510.39 1447 1510.08 1448.01 1510.19 1449.02 1509.85 1450.03 1509.81 1451.04 1509.57 1452.05 1509.52 1453.06 1509.36 1454.07 1509.12 1455.09 1508.93 1456.1 1509.19 1457.11 1508.73 1458.12 1508.51 1459.13 1509.05 1460.15 1508.38 1461.16 1508.23 1462.17 1508.47 1463.19 1508.24 1464.2 1508.36 1465.22 1508.15 1466.23 1508.05 1467.24 1508.03 1468.26 1507.58 1469.27 1507.91 1470.29 1507.57 1471.31 1507.71 1472.32 1507.49 1473.34 1507.11 1474.35 1507.12" fill="none" stroke="#2f2f8c" stroke-width="3.5" stroke-linejoin="round" stroke-linecap="butt"/>
<path d="M1385.24 1517.38 1385.74 1516.21 1386.28 1515.72 1386.86 1514.57 1387.47 1514.05 1388.14 1513.59 1388.86 1512.86 1389.63 1512.03 1390.45 1511 1391.3 1510.64 1392.17 1510.01 1393.07 1509.39 1393.98 1509.35 1394.9 1508.56 1395.82 1508.11 1396.75 1508.12 1397.69 1507.38 1398.64 1507.43 1399.61 1506.87 1400.59 1506.8 1401.58 1506.41 1402.57 1506.49 1403.58 1505.79 1404.59 1506.04 1405.6 1505.25 1406.61 1505.02 1407.63 1505.47 1408.64 1504.86 1409.64 1504.76 1410.64 1504.29 1411.64 1504.67 1412.64 1504.17 1413.65 1504.21 1414.65 1503.94 1415.66 1503.46 1416.66 1503.61 1417.67 1503.18 1418.68 1503.32 1419.69 1503.08 1420.7 1502.61 1421.71 1502.65 1422.72 1502.38 1423.73 1502.36 1424.74 1502.57 1425.75 1501.88 1426.77 1501.89 1427.78 1502.2 1428.79 1501.56 1429.8 1501.54 1430.81 1501.45 1431.82 1501.54 1432.83 1501.63 1433.84 1501.16 1434.85 1501.09 1435.86 1501.24 1436.88 1500.95 1437.89 1500.57 1438.9 1500.77 1439.91 1500.33 1440.93 1500.08 1441.94 1500.05 1442.95 1500.01 1443.96 1499.98 1444.98 1499.72 1445.99 1499.94 1447 1499.56 1448.01 1499.82 1449.03 1499.69 1450.04 1499.5 1451.05 1499.51 1452.06 1498.87 1453.08 1498.67 1454.09 1498.72 1455.1 1498.77 1456.12 1498.4 1457.13 1498.64 1458.14 1498.43 1459.15 1498.02 1460.17 1497.89 1461.18 1498.05 1462.19 1498.18 1463.21 1497.52 1464.22 1497.88 1465.23 1497.61 1466.25 1497.79 1467.26 1497.54 1468.27 1496.96 1469.29 1497.49 1470.3 1497.07 1471.31 1497.22 1472.33 1496.76 1473.34 1496.4 1474.35 1496.92" fill="none" stroke="#3f7253" stroke-width="3.4" stroke-linejoin="round" stroke-linecap="butt"/>
<path d="M1385.24 1508.98 1385.65 1508.04 1386.13 1507.58 1386.66 1506.78 1387.27 1505.88 1387.96 1505.17 1388.72 1504.3 1389.52 1503.52 1390.36 1502.67 1391.22 1502.15 1392.08 1502.13 1392.94 1501.64 1393.83 1501.04 1394.74 1500.53 1395.67 1500.2 1396.62 1499.98 1397.58 1499.57 1398.56 1499.45 1399.56 1498.99 1400.56 1499.37 1401.57 1499.14 1402.59 1498.52 1403.61 1498.31 1404.64 1498.03 1405.67 1497.72 1406.69 1498.02 1407.71 1497.45 1408.73 1497.77 1409.74 1497.28 1410.74 1497.06 1411.73 1497.01 1412.73 1497.05 1413.73 1496.78 1414.73 1496.39 1415.73 1496.74 1416.73 1496.37 1417.73 1495.96 1418.74 1496.25 1419.74 1495.63 1420.75 1495.74 1421.75 1495.68 1422.76 1495.29 1423.77 1495.39 1424.78 1495.7 1425.79 1495.39 1426.8 1495.04 1427.81 1494.84 1428.82 1495.18 1429.83 1494.86 1430.85 1494.59 1431.86 1495.07 1432.87 1494.43 1433.89 1494.81 1434.9 1494.6 1435.91 1494.09 1436.93 1494.21 1437.94 1494.46 1438.95 1494.24 1439.97 1493.81 1440.98 1493.8 1441.99 1493.9 1443 1493.53 1444.02 1493.62 1445.03 1493.76 1446.04 1493.27 1447.05 1493.69 1448.06 1493.45 1449.07 1493.57 1450.08 1493.43 1451.09 1493.17 1452.1 1492.78 1453.11 1492.84 1454.12 1492.77 1455.13 1492.97 1456.14 1492.84 1457.15 1492.53 1458.17 1492.35 1459.18 1492.74 1460.19 1492.78 1461.2 1492.69 1462.21 1492.53 1463.22 1492.09 1464.23 1491.98 1465.25 1492.34 1466.26 1492.17 1467.27 1491.87 1468.28 1491.99 1469.29 1492.23 1470.31 1491.59 1471.32 1491.87 1472.33 1492.03 1473.34 1491.57 1474.35 1491.97" fill="none" stroke="#afd8bb" stroke-width="3.6" stroke-linejoin="round" stroke-linecap="butt"/>
<path d="M1385.24 1503.81 1385.59 1502.83 1386.01 1501.73 1386.5 1501.01 1387.05 1500.39 1387.69 1499.59 1388.42 1499.14 1389.22 1497.98 1390.06 1497.2 1390.92 1496.87 1391.79 1496.44 1392.66 1495.75 1393.54 1495.9 1394.45 1495.76 1395.38 1495.08 1396.34 1494.97 1397.31 1494.96 1398.3 1494.63 1399.3 1494.27 1400.31 1493.74 1401.34 1493.61 1402.37 1493.55 1403.4 1493.54 1404.44 1493.11 1405.48 1492.86 1406.52 1493.35 1407.55 1493.11 1408.58 1492.88 1409.6 1492.82 1410.61 1492.8 1411.61 1492.73 1412.61 1492.12 1413.62 1492.1 1414.62 1492.52 1415.63 1492.06 1416.64 1491.77 1417.64 1492.08 1418.65 1491.86 1419.66 1491.65 1420.67 1491.63 1421.68 1491.82 1422.69 1491.46 1423.71 1491.83 1424.72 1491.26 1425.73 1491.64 1426.74 1491.19 1427.76 1491.65 1428.77 1490.94 1429.79 1491 1430.8 1490.84 1431.82 1491.34 1432.83 1490.95 1433.84 1490.97 1434.86 1490.8 1435.88 1490.8 1436.89 1491.17 1437.91 1490.97 1438.92 1490.69 1439.93 1490.4 1440.95 1490.4 1441.96 1490.54 1442.98 1490.43 1443.99 1490.63 1445 1490.55 1446.02 1490.18 1447.03 1490.36 1448.04 1490.51 1449.05 1489.93 1450.07 1490.08 1451.08 1489.97 1452.09 1490.3 1453.1 1490 1454.11 1490.13 1455.13 1490.06 1456.14 1490.09 1457.15 1489.63 1458.16 1489.92 1459.17 1489.85 1460.19 1489.29 1461.2 1489.55 1462.21 1489.63 1463.22 1489.54 1464.23 1489.68 1465.25 1489.17 1466.26 1489.41 1467.27 1489.32 1468.28 1489.18 1469.29 1489.29 1470.31 1488.96 1471.32 1489.14 1472.33 1488.94 1473.34 1488.81 1474.35 1488.67" fill="none" stroke="#f2e23a" stroke-width="2.9" stroke-linejoin="round" stroke-linecap="butt"/>
<path d="M1384.13 1501.82 1384.16 1501 1384.25 1499.49 1384.38 1498.96 1384.55 1497.4 1384.74 1497.06 1384.96 1495.72 1385.2 1494.72 1385.54 1494.01 1385.97 1492.53 1386.47 1491.64 1387.05 1491.5 1387.78 1490.42 1388.64 1489.92 1389.58 1489.7 1390.56 1489.11 1391.55 1488.83 1392.5 1488.78 1393.44 1488.06 1394.4 1488.07 1395.37 1487.6 1396.35 1488.07 1397.34 1487.94 1398.34 1487.72 1399.36 1487.23 1400.37 1487.46 1401.4 1487.24 1402.43 1487.12 1403.46 1487.02 1404.49 1486.65 1405.52 1486.68 1406.55 1486.54 1407.58 1486.96 1408.61 1487.03 1409.62 1486.44 1410.64 1486.87 1411.65 1486.38 1412.66 1486.28 1413.66 1486.37 1414.67 1486.67 1415.68 1486.12 1416.69 1486.15 1417.7 1486.56 1418.71 1485.99 1419.72 1486.49 1420.73 1486.47 1421.74 1486.23 1422.75 1485.99 1423.76 1486.16 1424.76 1486.19 1425.77 1485.75 1426.78 1485.67 1427.79 1485.86 1428.8 1485.93 1429.81 1486.16 1430.82 1486.06 1431.83 1485.9 1432.84 1485.99 1433.85 1485.62 1434.86 1485.95 1435.88 1485.83 1436.89 1485.49 1437.9 1485.66 1438.91 1485.47 1439.92 1485.41 1440.93 1485.8 1441.94 1485.63 1442.95 1485.47 1443.96 1485.69 1444.97 1485.67 1445.99 1485.08 1447 1485.05 1448.01 1485.63 1449.02 1485.06 1450.03 1485.14 1451.04 1485.27 1452.06 1485.04 1453.07 1485.53 1454.08 1485.16 1455.09 1485.24 1456.11 1485.41 1457.12 1485.06 1458.13 1485.31 1459.14 1485.43 1460.16 1485.27 1461.17 1485.12 1462.18 1485.24 1463.2 1484.72 1464.21 1485.34 1465.22 1485.13 1466.24 1484.71 1467.25 1484.97 1468.27 1485.07 1469.28 1484.82 1470.3 1484.74 1471.31 1485.11 1472.32 1485.31 1473.34 1484.97 1474.35 1485.13" fill="none" stroke="#c7372a" stroke-width="3.4" stroke-linejoin="round" stroke-linecap="butt"/>
<path d="M1384.5 1497.9 1384.55 1497.26 1384.68 1496.33 1384.88 1495.1 1385.12 1493.97 1385.38 1492.8 1385.72 1492.39 1386.21 1491.04 1386.79 1490.55 1387.43 1489.29 1388.2 1488.9 1389.08 1488.57 1390.02 1487.58 1390.99 1487.09 1391.96 1486.94 1392.9 1487.03 1393.85 1486.64 1394.82 1486.62 1395.8 1486.54 1396.8 1485.97 1397.8 1485.9 1398.82 1485.94 1399.84 1485.71 1400.87 1485.95 1401.9 1485.58 1402.94 1485.73 1403.98 1485.7 1405.02 1485.67 1406.06 1485.65 1407.1 1485.47 1408.13 1485.19 1409.16 1484.92 1410.18 1485.06 1411.2 1485.29 1412.22 1485.42 1413.23 1484.72 1414.25 1484.78 1415.26 1484.68 1416.28 1484.63 1417.3 1484.63 1418.31 1484.8 1419.33 1484.67 1420.35 1485.03 1421.36 1484.32 1422.38 1484.85 1423.4 1484.62 1424.41 1484.35 1425.43 1484.69 1426.45 1484.75 1427.46 1484.05 1428.48 1484.68 1429.5 1484 1430.51 1484.01 1431.53 1484.15 1432.55 1483.93 1433.57 1483.99 1434.58 1484.2 1435.6 1484.33 1436.62 1483.86 1437.64 1484.26 1438.66 1484.27 1439.67 1483.81 1440.69 1484.04 1441.71 1483.63 1442.73 1483.68 1443.75 1484.03 1444.77 1483.47 1445.78 1483.94 1446.8 1484.06 1447.82 1483.87 1448.84 1483.88 1449.86 1483.32 1450.88 1483.32 1451.9 1483.58 1452.92 1483.61 1453.94 1483.72 1454.96 1483.36 1455.98 1483.17 1457 1483.43 1458.02 1483.72 1459.04 1483.41 1460.06 1483.15 1461.08 1483.51 1462.1 1483.48 1463.12 1483.38 1464.14 1483.68 1465.16 1483.67 1466.18 1483.03 1467.2 1483.59 1468.22 1483.43 1469.25 1483.48 1470.27 1483.16 1471.29 1483.55 1472.31 1483.66 1473.33 1483.41 1474.35 1483.04" fill="none" stroke="#b5604c" stroke-width="1.8" stroke-linejoin="round" stroke-linecap="butt"/>
<rect x="1123.4" y="1327.6" width="2.6" height="240" fill="#c7372a"/>
<rect x="1122.6" y="1400" width="4.2" height="78" fill="#c7372a"/>
<line x1="1127.7" y1="1399" x2="1127.7" y2="1410" stroke="#5a3f80" stroke-width="1.5"/>
<rect x="1125.8" y="1560" width="3.2" height="105.5" rx="1.4" fill="#c7372a"/>
<rect x="1379.4" y="1436" width="4.0" height="22" rx="1.5" fill="#2f2f8c"/>
<rect x="1379.2" y="1458" width="4.6" height="179.4" rx="1" fill="#c7372a"/>
<text x="1281.4" y="1716.6" font-size="24.6" font-weight="bold" text-anchor="middle" fill="#1f1c1d" letter-spacing="0.3">TTX</text>
</g>
</svg></body></html>
